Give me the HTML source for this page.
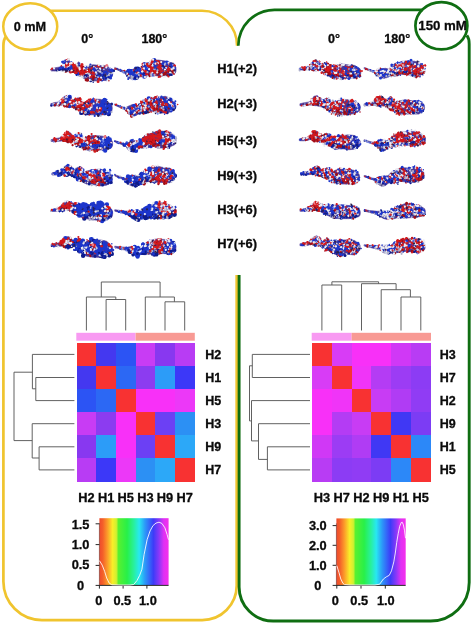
<!DOCTYPE html>
<html lang="en"><head><meta charset="utf-8"><title>Electrostatic surfaces and clustering at 0 mM and 150 mM</title>
<style>
html,body{margin:0;padding:0;background:#fff;}
body{width:472px;height:624px;overflow:hidden;position:relative;}
svg{position:absolute;left:0;top:0;display:block;}
text{font-family:"Liberation Sans", Arial, Helvetica, sans-serif;font-weight:bold;fill:#0a0a0a;stroke:#0a0a0a;stroke-width:.3px;}
.d{fill:none;stroke:#585858;stroke-width:.95;}
.pr path{fill:none;stroke-linecap:round}.pr path.z{fill:#4a3896;stroke:#4a3896;stroke-width:.6;stroke-linejoin:round}.r{stroke:#d41a1e}.R{stroke:#a00e14}.b{stroke:#1d36cc}.B{stroke:#101c8c}.w{stroke:#ececf3}.g{stroke:#aeb0cc}.k{stroke:#2c2050}.p{stroke:#ee7a82}.l{stroke:#6f86ea}
.s0{stroke-width:1.5}.s1{stroke-width:2.2}.s2{stroke-width:3}.s3{stroke-width:4.4}
</style></head><body>
<svg width="472" height="624" viewBox="0 0 472 624">
<defs>
<linearGradient id="rb" x1="0" y1="0" x2="1" y2="0">
<stop offset="0" stop-color="#ee4a2c"/>
<stop offset="0.05" stop-color="#f4602a"/>
<stop offset="0.12" stop-color="#fca02a"/>
<stop offset="0.19" stop-color="#f8ee28"/>
<stop offset="0.245" stop-color="#d0f030"/>
<stop offset="0.275" stop-color="#58f030"/>
<stop offset="0.4" stop-color="#28f048"/>
<stop offset="0.5" stop-color="#28f0a0"/>
<stop offset="0.575" stop-color="#28e8f0"/>
<stop offset="0.66" stop-color="#2c98f8"/>
<stop offset="0.78" stop-color="#3c3cf8"/>
<stop offset="0.86" stop-color="#8838f8"/>
<stop offset="0.93" stop-color="#e030f4"/>
<stop offset="1" stop-color="#f430ec"/>
</linearGradient>
<filter id="sf" x="-5%" y="-5%" width="110%" height="110%"><feGaussianBlur stdDeviation="0.35"/></filter>
</defs>
<rect width="472" height="624" fill="#fff"/>
<g fill="none" stroke-linecap="butt">
<g stroke="#F0C42E" stroke-width="2.5">
<ellipse cx="30.25" cy="26.5" rx="27" ry="23.3"/>
<path d="M50.5 10.7 H202 A35 35 0 0 1 237 45.8"/>
<path d="M6 36.5 Q3.4 39.5 3.4 46 V581.6 A38.5 38.5 0 0 0 41.9 620.1 H202.2 A34.5 34.5 0 0 0 236.7 585.6 V275" stroke-width="2.7"/>
</g>
<g stroke="#0F6E12" stroke-width="2.7">
<ellipse cx="441.4" cy="25.8" rx="26" ry="23.6"/>
<path d="M238.3 45.8 A36.2 36.2 0 0 1 274.5 9.8 H422.8"/>
<path d="M466.9 35.4 Q469.2 38.5 469.2 44 V582.5 A38.5 38.5 0 0 1 430.7 621 H273.1 A34 34 0 0 1 239.1 587 V275" stroke-width="2.9"/>
</g>
</g>
<text x="29.9" y="31.0" font-size="12.7" text-anchor="middle">0 mM</text>
<text x="442.6" y="30.0" font-size="13.25" text-anchor="middle">150 mM</text>
<text x="87.3" y="43.4" font-size="12.5" text-anchor="middle">0°</text>
<text x="154.4" y="43.4" font-size="12.5" text-anchor="middle">180°</text>
<text x="334.1" y="43.4" font-size="12.5" text-anchor="middle">0°</text>
<text x="397.3" y="43.4" font-size="12.5" text-anchor="middle">180°</text>
<text x="217.3" y="72.7" font-size="12.9">H1(+2)</text>
<text x="217.3" y="108.4" font-size="12.9">H2(+3)</text>
<text x="217.3" y="145.3" font-size="12.9">H5(+3)</text>
<text x="217.3" y="179.7" font-size="12.9">H9(+3)</text>
<text x="217.3" y="214.1" font-size="12.9">H3(+6)</text>
<text x="217.3" y="247.5" font-size="12.9">H7(+6)</text>
<rect x="76.3" y="332.8" width="59.2" height="7.9" fill="#f89af2"/>
<rect x="135.6" y="332.8" width="59.2" height="7.9" fill="#f89a94"/>
<g shape-rendering="crispEdges">
<rect x="76.60" y="342.90" width="19.95" height="23.38" fill="#f83232"/>
<rect x="96.25" y="342.90" width="19.95" height="23.38" fill="#4438f0"/>
<rect x="115.90" y="342.90" width="19.95" height="23.38" fill="#2c54f4"/>
<rect x="135.55" y="342.90" width="19.95" height="23.38" fill="#c83cf4"/>
<rect x="155.20" y="342.90" width="19.95" height="23.38" fill="#8838f0"/>
<rect x="174.85" y="342.90" width="19.95" height="23.38" fill="#b83cf4"/>
<rect x="76.60" y="365.98" width="19.95" height="23.38" fill="#4438f0"/>
<rect x="96.25" y="365.98" width="19.95" height="23.38" fill="#f83232"/>
<rect x="115.90" y="365.98" width="19.95" height="23.38" fill="#2c68f4"/>
<rect x="135.55" y="365.98" width="19.95" height="23.38" fill="#8c3cf0"/>
<rect x="155.20" y="365.98" width="19.95" height="23.38" fill="#2c9cf8"/>
<rect x="174.85" y="365.98" width="19.95" height="23.38" fill="#3c38f8"/>
<rect x="76.60" y="389.07" width="19.95" height="23.38" fill="#2c54f4"/>
<rect x="96.25" y="389.07" width="19.95" height="23.38" fill="#2c68f4"/>
<rect x="115.90" y="389.07" width="19.95" height="23.38" fill="#f83232"/>
<rect x="135.55" y="389.07" width="19.95" height="23.38" fill="#f830f8"/>
<rect x="155.20" y="389.07" width="19.95" height="23.38" fill="#f830f8"/>
<rect x="174.85" y="389.07" width="19.95" height="23.38" fill="#ec38f8"/>
<rect x="76.60" y="412.15" width="19.95" height="23.38" fill="#c83cf4"/>
<rect x="96.25" y="412.15" width="19.95" height="23.38" fill="#8c3cf0"/>
<rect x="115.90" y="412.15" width="19.95" height="23.38" fill="#f830f8"/>
<rect x="135.55" y="412.15" width="19.95" height="23.38" fill="#f83232"/>
<rect x="155.20" y="412.15" width="19.95" height="23.38" fill="#6c40f4"/>
<rect x="174.85" y="412.15" width="19.95" height="23.38" fill="#2c90f4"/>
<rect x="76.60" y="435.23" width="19.95" height="23.38" fill="#8838f0"/>
<rect x="96.25" y="435.23" width="19.95" height="23.38" fill="#2c9cf8"/>
<rect x="115.90" y="435.23" width="19.95" height="23.38" fill="#f830f8"/>
<rect x="135.55" y="435.23" width="19.95" height="23.38" fill="#6c40f4"/>
<rect x="155.20" y="435.23" width="19.95" height="23.38" fill="#f83232"/>
<rect x="174.85" y="435.23" width="19.95" height="23.38" fill="#2ca8f8"/>
<rect x="76.60" y="458.32" width="19.95" height="23.38" fill="#b83cf4"/>
<rect x="96.25" y="458.32" width="19.95" height="23.38" fill="#3c38f8"/>
<rect x="115.90" y="458.32" width="19.95" height="23.38" fill="#ec38f8"/>
<rect x="135.55" y="458.32" width="19.95" height="23.38" fill="#2c90f4"/>
<rect x="155.20" y="458.32" width="19.95" height="23.38" fill="#2ca8f8"/>
<rect x="174.85" y="458.32" width="19.95" height="23.38" fill="#f83232"/>
</g>
<text x="205.3" y="358.7" font-size="12.5">H2</text>
<text x="86.4" y="502.2" font-size="12.8" text-anchor="middle">H2</text>
<text x="205.3" y="381.8" font-size="12.5">H1</text>
<text x="106.1" y="502.2" font-size="12.8" text-anchor="middle">H1</text>
<text x="205.3" y="404.9" font-size="12.5">H5</text>
<text x="125.7" y="502.2" font-size="12.8" text-anchor="middle">H5</text>
<text x="205.3" y="428.0" font-size="12.5">H3</text>
<text x="145.4" y="502.2" font-size="12.8" text-anchor="middle">H3</text>
<text x="205.3" y="451.1" font-size="12.5">H9</text>
<text x="165.0" y="502.2" font-size="12.8" text-anchor="middle">H9</text>
<text x="205.3" y="474.2" font-size="12.5">H7</text>
<text x="184.7" y="502.2" font-size="12.8" text-anchor="middle">H7</text>
<rect x="311.7" y="332.8" width="39.9" height="7.9" fill="#f89af2"/>
<rect x="351.6" y="332.8" width="79.4" height="7.9" fill="#f89a94"/>
<g shape-rendering="crispEdges">
<rect x="312.00" y="342.90" width="20.08" height="23.38" fill="#f83232"/>
<rect x="331.78" y="342.90" width="20.08" height="23.38" fill="#d83cf6"/>
<rect x="351.57" y="342.90" width="20.08" height="23.38" fill="#f830f8"/>
<rect x="371.35" y="342.90" width="20.08" height="23.38" fill="#f830f8"/>
<rect x="391.13" y="342.90" width="20.08" height="23.38" fill="#d038f6"/>
<rect x="410.92" y="342.90" width="20.08" height="23.38" fill="#b83cf4"/>
<rect x="312.00" y="365.98" width="20.08" height="23.38" fill="#d83cf6"/>
<rect x="331.78" y="365.98" width="20.08" height="23.38" fill="#f83232"/>
<rect x="351.57" y="365.98" width="20.08" height="23.38" fill="#f034f8"/>
<rect x="371.35" y="365.98" width="20.08" height="23.38" fill="#b43cf4"/>
<rect x="391.13" y="365.98" width="20.08" height="23.38" fill="#9c3cf4"/>
<rect x="410.92" y="365.98" width="20.08" height="23.38" fill="#8c3cf4"/>
<rect x="312.00" y="389.07" width="20.08" height="23.38" fill="#f830f8"/>
<rect x="331.78" y="389.07" width="20.08" height="23.38" fill="#f034f8"/>
<rect x="351.57" y="389.07" width="20.08" height="23.38" fill="#f83232"/>
<rect x="371.35" y="389.07" width="20.08" height="23.38" fill="#c83cf4"/>
<rect x="391.13" y="389.07" width="20.08" height="23.38" fill="#b03cf4"/>
<rect x="410.92" y="389.07" width="20.08" height="23.38" fill="#903cf4"/>
<rect x="312.00" y="412.15" width="20.08" height="23.38" fill="#f830f8"/>
<rect x="331.78" y="412.15" width="20.08" height="23.38" fill="#b43cf4"/>
<rect x="351.57" y="412.15" width="20.08" height="23.38" fill="#c83cf4"/>
<rect x="371.35" y="412.15" width="20.08" height="23.38" fill="#f83232"/>
<rect x="391.13" y="412.15" width="20.08" height="23.38" fill="#4038f4"/>
<rect x="410.92" y="412.15" width="20.08" height="23.38" fill="#7c3cf4"/>
<rect x="312.00" y="435.23" width="20.08" height="23.38" fill="#d038f6"/>
<rect x="331.78" y="435.23" width="20.08" height="23.38" fill="#9c3cf4"/>
<rect x="351.57" y="435.23" width="20.08" height="23.38" fill="#b03cf4"/>
<rect x="371.35" y="435.23" width="20.08" height="23.38" fill="#4038f4"/>
<rect x="391.13" y="435.23" width="20.08" height="23.38" fill="#f83232"/>
<rect x="410.92" y="435.23" width="20.08" height="23.38" fill="#2c88f8"/>
<rect x="312.00" y="458.32" width="20.08" height="23.38" fill="#b83cf4"/>
<rect x="331.78" y="458.32" width="20.08" height="23.38" fill="#8c3cf4"/>
<rect x="351.57" y="458.32" width="20.08" height="23.38" fill="#903cf4"/>
<rect x="371.35" y="458.32" width="20.08" height="23.38" fill="#7c3cf4"/>
<rect x="391.13" y="458.32" width="20.08" height="23.38" fill="#2c88f8"/>
<rect x="410.92" y="458.32" width="20.08" height="23.38" fill="#f83232"/>
</g>
<text x="439.8" y="358.7" font-size="12.5">H3</text>
<text x="321.9" y="502.2" font-size="12.8" text-anchor="middle">H3</text>
<text x="439.8" y="381.8" font-size="12.5">H7</text>
<text x="341.7" y="502.2" font-size="12.8" text-anchor="middle">H7</text>
<text x="439.8" y="404.9" font-size="12.5">H2</text>
<text x="361.5" y="502.2" font-size="12.8" text-anchor="middle">H2</text>
<text x="439.8" y="428.0" font-size="12.5">H9</text>
<text x="381.2" y="502.2" font-size="12.8" text-anchor="middle">H9</text>
<text x="439.8" y="451.1" font-size="12.5">H1</text>
<text x="401.0" y="502.2" font-size="12.8" text-anchor="middle">H1</text>
<text x="439.8" y="474.2" font-size="12.5">H5</text>
<text x="420.8" y="502.2" font-size="12.8" text-anchor="middle">H5</text>
<path class="d" d="M86.4 330.5 V297 H115.8 V299.5"/>
<path class="d" d="M106.1 330.5 V299.5 H125.7 V330.5"/>
<path class="d" d="M101.3 297 V282 H160.1 V297"/>
<path class="d" d="M145.3 330.5 V297 H174.4 V301.8"/>
<path class="d" d="M165.0 330.5 V301.8 H184.7 V330.5"/>
<path class="d" d="M74.4 354.4 H32.4 V388.8 H35.8"/>
<path class="d" d="M74.4 377.5 H35.8 V400.6 H74.4"/>
<path class="d" d="M32.4 372.2 H14 V440.6 H32.2"/>
<path class="d" d="M74.4 423.7 H32.2 V458 H39.1"/>
<path class="d" d="M74.4 446.8 H39.1 V469.9 H74.4"/>
<path class="d" d="M321.9 330.5 V285 H341.7 V330.5"/>
<path class="d" d="M331.9 285 V281.8 H378.6 V283.7"/>
<path class="d" d="M361.5 330.5 V283.7 H396.1 V289.7"/>
<path class="d" d="M381.2 330.5 V289.7 H410.4 V297"/>
<path class="d" d="M401.0 330.5 V297 H420.8 V330.5"/>
<path class="d" d="M310.0 354.4 H252.3 V377.5 H310.0"/>
<path class="d" d="M252.3 365.8 H249.5 V420.9 H251.5"/>
<path class="d" d="M310.0 400.6 H251.5 V440.9 H258.5"/>
<path class="d" d="M310.0 423.7 H258.5 V459.4 H267.4"/>
<path class="d" d="M310.0 446.8 H267.4 V469.9 H310.0"/>
<rect x="99.4" y="518.2" width="69.2" height="66.8" fill="url(#rb)"/>
<path d="M99.4 523.2 V585.0" fill="none" stroke="#401010" stroke-width="1" opacity=".45"/>
<text x="80.6" y="529.0" font-size="12.8" text-anchor="middle">1.5</text>
<text x="80.6" y="549.2" font-size="12.8" text-anchor="middle">1.0</text>
<text x="80.6" y="569.3" font-size="12.8" text-anchor="middle">0.5</text>
<text x="80.6" y="590.3" font-size="12.8" text-anchor="middle">0</text>
<text x="98.8" y="605.4" font-size="12.8" text-anchor="middle">0</text>
<text x="122.3" y="605.4" font-size="12.8" text-anchor="middle">0.5</text>
<text x="147.9" y="605.4" font-size="12.8" text-anchor="middle">1.0</text>
<path d="M95.6 585.4 H168.6 M95.6 523.8 H99.4 M95.6 544.6 H99.4 M95.6 565.4 H99.4 M99.4 585.0 V588.6 M123.1 585.0 V588.6 M146.9 585.0 V588.6" fill="none" stroke="#282828" stroke-width="1"/>
<polyline points="99.4,560.6 102.2,565.1 104.7,571.5 106.7,578.0 109.2,583.1 111.8,584.8 120.0,585.0 130.0,585.0 133.7,584.5 137.0,580.5 139.7,575.3 141.9,569.3 144.1,554.5 147.1,539.7 150.1,530.8 153.0,525.6 156.0,523.1 159.0,522.2 161.9,523.4 164.9,527.8 167.1,534.5 168.5,539.7" fill="none" stroke="#fff" stroke-width="0.9" stroke-linejoin="round" opacity="0.95"/>
<rect x="336.4" y="518.4" width="69.3" height="66.6" fill="url(#rb)"/>
<path d="M336.4 523.4 V585.0" fill="none" stroke="#401010" stroke-width="1" opacity=".45"/>
<text x="317.8" y="530.0" font-size="12.8" text-anchor="middle">3.0</text>
<text x="317.8" y="550.3" font-size="12.8" text-anchor="middle">2.0</text>
<text x="317.8" y="570.2" font-size="12.8" text-anchor="middle">1.0</text>
<text x="317.8" y="590.2" font-size="12.8" text-anchor="middle">0</text>
<text x="335.2" y="605.0" font-size="12.8" text-anchor="middle">0</text>
<text x="359.2" y="605.0" font-size="12.8" text-anchor="middle">0.5</text>
<text x="385.8" y="605.0" font-size="12.8" text-anchor="middle">1.0</text>
<path d="M332.6 585.4 H405.7 M332.6 525.6 H336.4 M332.6 545.3 H336.4 M332.6 565.3 H336.4 M336.8 585.0 V588.6 M361.0 585.0 V588.6 M385.3 585.0 V588.6" fill="none" stroke="#282828" stroke-width="1"/>
<polyline points="336.8,565.6 338.9,572.3 340.8,579.0 343.0,583.4 344.5,584.6 350.0,585.0 375.0,585.0 379.7,584.2 383.4,579.0 386.4,576.8 389.3,575.3 391.5,570.8 393.8,561.9 395.3,553.0 396.7,542.6 398.2,533.7 399.7,526.3 401.2,522.6 402.2,522.2 403.4,524.8 404.6,530.8 405.5,538.2" fill="none" stroke="#fff" stroke-width="0.9" stroke-linejoin="round" opacity="0.95"/>
<g class="pr" filter="url(#sf)"><g><path class="z" d="M51.5 68.8L53.5 68.3L55.4 67.7L57.4 67.4L59.4 67.1L61.1 65.7L62.8 64.6L64.1 63.0L65.3 61.4L66.8 60.7L68.2 60.1L69.7 61.2L71.2 62.3L72.4 64.3L73.7 66.4L74.9 65.6L76.1 64.7L77.4 63.2L78.6 61.7L79.8 63.3L81.0 64.8L82.3 66.5L83.5 68.2L85.2 67.2L87.0 66.2L89.9 65.5L92.9 64.8L96.8 65.1L100.8 65.5L103.7 65.6L106.7 65.8L108.6 67.0L110.6 68.2L111.8 69.0L112.5 70.7L112.8 73.0L112.5 75.3L111.8 77.0L110.6 77.7L108.6 79.2L106.7 80.6L103.7 80.5L100.8 80.5L96.8 80.8L92.9 81.1L89.9 80.4L87.0 79.6L85.2 78.9L83.5 78.3L82.3 77.2L81.0 76.2L79.8 76.2L78.6 76.3L77.4 75.1L76.1 73.8L74.9 73.1L73.7 72.3L72.4 71.8L71.2 71.4L69.7 71.5L68.2 71.7L66.8 71.6L65.3 71.6L64.1 70.7L62.8 69.9L61.1 70.5L59.4 70.6L57.4 70.8L55.4 71.1L53.5 71.0L51.5 71.0Z"/><path class="B s3" d="M70.6 69.2h0M68.1 68.8h0M70.1 66.8h0"/><path class="b s3" d="M110.6 75.1h0M70.0 67.7h0M101.9 74.2h0M69.3 67.2h0M70.6 67.9h0"/><path class="B s2" d="M62.5 69.3h0M86.0 75.6h0M90.7 80.7h0M102.4 78.9h0"/><path class="R s2" d="M86.2 79.8h0M82.9 67.1h0"/><path class="b s2" d="M71.5 69.9h0M94.3 69.5h0M96.6 76.7h0M101.9 80.1h0"/><path class="r s2" d="M66.8 67.1h0M65.8 65.5h0M88.7 70.8h0M78.1 73.0h0M87.6 71.1h0M88.1 69.7h0M77.1 66.9h0M86.7 71.2h0M84.6 73.2h0M83.7 71.8h0M80.4 71.1h0"/><path class="B s1" d="M66.5 70.0h0M105.6 76.4h0M63.8 68.4h0"/><path class="R s1" d="M65.5 71.7h0M75.8 72.0h0M100.1 77.4h0M100.9 79.8h0M67.1 64.9h0M74.5 70.9h0M80.9 74.7h0"/><path class="b s1" d="M106.2 71.9h0M77.2 73.9h0M101.6 75.1h0M112.2 71.6h0M93.5 68.7h0M103.0 73.6h0M71.4 66.1h0"/><path class="g s1" d="M59.4 69.9h0M63.2 65.3h0M73.0 68.9h0M78.5 67.2h0M89.9 80.2h0M79.8 69.1h0M89.0 73.5h0M56.9 71.1h0M81.9 76.7h0M109.0 73.4h0M108.1 75.2h0M78.7 67.7h0"/><path class="k s1" d="M63.6 71.0h0M78.3 73.8h0"/><path class="r s1" d="M87.9 71.9h0M77.8 68.3h0M105.3 66.7h0M72.9 66.4h0M68.4 64.9h0M78.7 72.0h0M66.9 66.5h0M72.8 64.0h0M77.9 71.3h0M91.0 76.1h0M85.8 71.1h0"/><path class="w s1" d="M80.3 67.8h0M68.2 66.6h0M77.7 66.3h0M94.0 67.5h0M95.9 72.5h0M108.4 73.6h0M80.5 64.2h0M84.3 68.0h0M76.4 64.3h0M109.9 73.0h0M78.8 69.7h0M77.1 73.3h0M109.8 68.2h0M64.0 65.0h0M84.8 69.5h0M85.1 70.3h0M84.1 69.5h0M94.0 67.1h0M89.5 79.8h0"/><path class="B s0" d="M101.7 74.2h0"/><path class="R s0" d="M89.0 73.1h0M93.4 72.7h0M78.1 72.4h0M87.2 79.3h0"/><path class="b s0" d="M71.8 67.2h0M106.5 71.6h0M107.0 68.0h0M78.8 64.6h0M68.8 60.6h0M94.6 70.7h0M79.6 63.2h0M107.0 67.9h0M113.6 70.1h0"/><path class="g s0" d="M102.4 79.3h0M77.3 73.5h0M85.8 73.2h0M91.8 80.5h0"/><path class="k s0" d="M92.3 66.2h0M77.9 70.1h0M88.1 80.2h0M79.6 73.0h0"/><path class="l s0" d="M72.8 70.0h0"/><path class="p s0" d="M76.5 66.2h0"/><path class="r s0" d="M85.7 70.6h0M77.6 66.8h0M76.0 71.8h0M91.8 75.9h0M77.8 70.1h0M79.7 69.7h0M85.6 71.3h0M99.7 67.6h0M73.6 64.7h0M70.1 64.3h0M88.3 69.0h0M94.5 73.0h0M77.6 68.1h0M51.0 69.6h0M81.0 67.6h0"/><path class="w s0" d="M66.7 63.1h0M64.0 64.4h0M100.3 71.9h0M86.7 76.9h0M79.7 76.3h0M86.1 73.6h0M64.0 67.0h0M103.9 69.2h0M101.0 77.4h0M107.9 77.7h0M97.4 68.9h0M79.5 67.8h0M97.9 70.0h0M70.7 71.2h0"/><path class="B s3" d="M103.3 76.3h0"/><path class="b s3" d="M77.4 74.0h0M94.9 69.1h0"/><path class="B s2" d="M85.6 76.0h0M106.2 77.8h0M85.2 76.2h0"/><path class="R s2" d="M77.6 70.3h0M72.8 71.4h0M94.9 76.8h0"/><path class="b s2" d="M77.2 74.1h0M71.8 69.1h0M67.4 68.2h0M110.5 75.5h0M85.8 67.0h0M99.6 75.8h0"/><path class="r s2" d="M72.4 63.5h0M81.1 66.9h0M81.6 69.5h0M84.9 71.6h0M88.8 70.4h0M70.6 72.1h0M98.1 65.9h0M89.1 70.3h0M98.1 81.6h0"/><path class="B s1" d="M77.1 74.2h0M108.5 77.9h0"/><path class="R s1" d="M102.4 67.8h0M93.4 77.3h0M88.1 69.6h0M81.3 73.0h0M81.4 69.9h0M87.5 79.9h0M66.4 71.3h0M93.0 79.4h0M85.9 80.2h0M98.7 78.9h0"/><path class="b s1" d="M60.6 68.8h0M104.8 76.2h0M110.2 68.5h0M62.2 61.9h0M97.6 74.7h0M109.5 70.1h0M106.9 74.7h0M70.4 67.1h0M106.3 79.5h0M61.6 67.4h0M93.6 68.7h0M101.9 74.6h0M86.0 68.3h0M110.2 72.5h0M65.2 60.7h0M68.1 68.0h0M100.8 73.7h0M61.5 68.1h0M98.5 76.0h0M68.8 62.7h0"/><path class="g s1" d="M92.7 71.1h0M82.7 75.4h0M103.3 65.8h0M83.4 77.4h0M90.8 65.0h0M109.0 75.1h0"/><path class="k s1" d="M111.1 72.9h0M83.6 71.8h0M105.3 76.4h0M66.1 70.9h0"/><path class="p s1" d="M74.4 68.7h0"/><path class="r s1" d="M79.8 72.2h0M74.6 71.1h0M75.2 64.8h0M72.8 66.1h0M85.7 72.1h0M99.1 79.2h0M91.7 72.9h0M66.6 60.1h0M81.6 73.4h0M74.9 67.4h0M89.9 72.3h0M82.4 74.8h0M81.4 75.1h0M73.3 65.4h0M81.3 69.3h0M52.2 68.5h0M83.1 71.7h0M68.3 59.4h0M81.0 74.1h0M65.7 66.5h0"/><path class="w s1" d="M87.0 70.5h0M81.9 77.1h0M108.3 78.7h0M100.0 68.5h0M107.2 64.8h0M100.1 69.1h0M62.4 65.1h0M79.8 69.2h0M97.0 68.8h0M84.5 69.0h0M79.4 67.5h0M89.8 76.6h0M69.3 70.9h0M107.5 80.3h0"/><path class="B s0" d="M105.6 76.1h0M97.2 69.3h0"/><path class="R s0" d="M91.6 75.4h0M82.3 73.6h0M92.4 78.6h0"/><path class="b s0" d="M103.5 76.9h0M70.5 67.3h0M64.4 63.0h0M64.9 68.2h0M104.4 73.1h0M71.5 61.7h0M63.0 63.2h0"/><path class="g s0" d="M96.1 79.1h0"/><path class="k s0" d="M98.8 73.9h0M99.3 74.1h0M71.2 70.4h0M91.9 72.5h0M93.1 80.4h0"/><path class="l s0" d="M96.9 73.7h0"/><path class="r s0" d="M81.7 69.6h0M75.2 73.0h0M82.4 68.2h0M61.5 65.7h0M77.5 67.6h0M81.0 65.3h0M87.6 71.8h0M78.1 70.7h0M81.4 65.6h0M73.8 65.9h0M94.4 76.0h0M79.9 72.9h0M94.5 74.1h0"/><path class="w s0" d="M112.6 73.1h0M96.5 74.1h0M66.8 60.6h0M78.2 65.3h0M110.4 67.9h0M85.4 76.7h0M95.9 71.9h0M97.8 77.1h0M62.5 64.8h0M113.3 73.3h0M68.6 59.7h0M95.4 67.8h0"/><path class="B s2" d="M59.5 69.6h0"/><path class="R s2" d="M69.2 64.3h0M87.5 80.3h0M74.1 68.1h0"/><path class="b s2" d="M112.0 70.0h0M110.6 77.9h0M101.7 74.2h0"/><path class="p s2" d="M106.8 65.5h0"/><path class="r s2" d="M82.0 64.6h0M85.3 71.1h0M76.6 68.1h0M93.7 75.9h0M74.9 65.7h0M73.9 69.8h0M75.5 65.6h0M69.3 63.7h0M73.6 66.2h0"/><path class="B s1" d="M68.3 68.5h0M108.5 77.5h0M98.8 70.3h0M78.7 65.6h0M114.0 70.9h0M65.1 69.5h0M101.8 71.7h0"/><path class="R s1" d="M75.6 72.1h0M76.5 69.6h0M93.1 76.9h0M93.4 77.6h0"/><path class="b s1" d="M107.4 77.0h0M63.7 67.4h0M59.7 68.3h0M104.4 77.5h0M64.6 62.6h0M76.9 74.8h0M90.4 64.5h0M63.3 61.7h0M104.6 71.8h0M107.9 73.0h0"/><path class="g s1" d="M88.9 73.8h0M111.2 73.5h0M95.8 76.2h0M98.3 70.8h0M77.7 66.3h0M106.8 75.8h0M79.4 76.0h0"/><path class="k s1" d="M105.4 75.4h0M91.2 70.3h0"/><path class="r s1" d="M74.7 72.0h0M90.6 76.9h0M76.7 72.8h0M91.3 68.5h0M92.7 72.3h0M67.0 66.1h0M82.8 70.1h0M84.1 71.6h0M82.8 70.1h0M66.4 66.6h0M82.4 72.3h0M75.1 73.0h0M91.4 76.7h0M93.0 73.7h0M73.8 70.7h0M66.0 64.1h0M75.4 69.8h0"/><path class="w s1" d="M100.2 71.5h0M90.0 75.3h0M85.3 66.1h0M101.2 77.6h0M71.8 63.1h0M71.3 62.8h0M102.4 65.9h0M54.1 68.5h0M76.7 64.6h0M68.8 59.2h0M77.7 76.5h0M71.7 70.5h0M70.0 63.7h0M98.8 65.1h0M66.7 63.5h0M71.2 63.2h0M64.1 71.5h0M106.3 67.4h0M81.7 75.3h0M63.8 65.3h0M88.0 65.8h0"/><path class="B s0" d="M93.2 82.2h0M76.6 75.0h0M64.7 69.6h0M56.4 70.4h0M86.3 76.5h0M69.4 70.4h0"/><path class="R s0" d="M87.9 78.1h0M82.1 75.1h0M82.1 67.4h0M94.0 76.4h0M69.4 71.7h0M72.3 72.1h0M108.9 80.7h0M79.6 74.0h0M73.7 71.4h0"/><path class="b s0" d="M70.3 66.8h0M94.2 70.3h0M94.4 68.8h0M110.8 70.6h0M71.6 67.1h0M71.8 66.5h0M70.4 67.2h0M97.1 75.1h0"/><path class="g s0" d="M87.2 68.3h0M98.6 77.3h0M61.2 70.7h0M100.7 72.1h0"/><path class="k s0" d="M100.7 74.9h0M73.8 70.5h0M96.8 75.7h0M84.7 70.1h0"/><path class="r s0" d="M85.4 71.3h0M92.2 67.5h0M95.3 66.7h0M75.7 67.0h0M82.5 73.7h0M81.5 73.9h0M75.0 72.0h0M69.1 65.8h0M82.5 68.9h0"/><path class="w s0" d="M102.0 73.0h0M87.7 72.9h0M69.7 65.8h0M67.2 66.9h0M64.7 66.9h0M67.8 59.8h0M83.7 68.7h0"/></g>
<g><path class="z" d="M51.0 103.6L53.0 103.1L54.9 102.5L56.9 102.2L58.9 101.9L60.6 100.2L62.3 98.9L63.6 97.5L64.8 96.2L66.3 95.8L67.7 95.4L69.2 96.3L70.7 97.3L71.9 99.3L73.2 101.3L74.4 100.3L75.6 99.4L76.9 98.5L78.1 97.5L79.3 98.7L80.5 99.9L81.8 101.5L83.0 103.1L84.7 102.1L86.5 101.1L89.4 100.1L92.4 99.2L96.3 99.2L100.2 99.3L103.2 100.2L106.2 101.2L108.1 102.4L110.1 103.7L111.3 104.4L112.0 106.1L112.3 108.3L112.0 110.5L111.3 112.2L110.1 112.9L108.1 113.8L106.2 114.7L103.2 114.8L100.2 115.0L96.3 114.9L92.4 114.8L89.4 114.8L86.5 114.9L84.7 114.2L83.0 113.5L81.8 112.1L80.5 110.7L79.3 110.2L78.1 109.8L76.9 109.3L75.6 108.9L74.4 108.2L73.2 107.5L71.9 106.4L70.7 105.3L69.2 105.9L67.7 106.4L66.3 106.6L64.8 106.8L63.6 105.7L62.3 104.7L60.6 105.3L58.9 105.4L56.9 105.6L54.9 105.9L53.0 105.8L51.0 105.8Z"/><path class="B s3" d="M103.6 110.5h0M102.6 104.5h0M108.8 114.0h0"/><path class="b s3" d="M104.1 108.5h0M75.5 102.9h0M65.0 98.4h0M108.7 112.0h0M74.9 104.4h0M85.9 110.2h0M107.8 108.5h0M92.6 101.1h0M107.9 105.6h0M103.1 101.6h0M66.3 102.4h0M69.4 106.0h0"/><path class="R s2" d="M84.1 113.1h0M79.8 106.8h0M83.7 111.2h0M67.1 106.2h0M61.4 103.8h0"/><path class="b s2" d="M103.5 109.9h0M105.6 106.2h0M59.9 101.8h0M106.0 104.7h0M94.4 105.4h0M97.5 106.1h0M108.2 110.0h0"/><path class="r s2" d="M64.3 103.0h0M83.4 108.0h0M89.0 100.0h0M63.6 102.1h0M87.5 106.4h0M87.9 105.7h0M81.0 104.0h0M71.5 101.1h0M61.9 99.9h0M79.6 108.5h0M77.4 100.6h0"/><path class="B s1" d="M108.5 103.6h0M51.3 105.7h0M105.1 113.6h0"/><path class="R s1" d="M53.8 103.9h0M98.5 102.2h0M58.7 105.7h0M80.4 105.3h0"/><path class="b s1" d="M109.8 112.7h0M52.8 104.1h0M75.3 102.6h0M105.6 104.0h0M59.4 103.6h0M70.0 105.1h0M74.3 104.5h0"/><path class="g s1" d="M87.3 109.6h0M64.4 104.0h0M94.1 111.7h0M111.5 112.1h0M86.4 112.6h0M80.0 111.0h0"/><path class="k s1" d="M83.1 105.8h0M86.6 102.3h0M72.1 101.7h0M95.0 110.7h0"/><path class="l s1" d="M52.8 104.5h0M68.7 100.9h0"/><path class="r s1" d="M80.0 98.2h0M66.2 96.6h0M84.2 109.0h0M79.4 105.1h0M75.5 99.1h0M89.3 101.0h0M72.6 103.6h0M91.3 104.2h0M82.5 104.8h0M71.0 98.6h0M70.7 101.3h0M63.1 101.4h0M79.2 101.1h0M92.5 111.8h0M83.1 103.8h0M96.8 108.2h0M86.6 106.9h0M80.2 107.9h0M78.2 99.1h0M71.8 100.6h0M79.3 105.9h0M66.5 104.8h0M73.6 101.4h0"/><path class="w s1" d="M98.1 103.7h0M57.5 104.3h0M66.5 99.0h0M85.3 112.3h0M91.3 106.7h0M71.6 99.7h0M73.6 103.6h0M68.0 96.2h0M70.1 96.9h0M106.0 106.3h0M66.1 97.2h0M78.3 104.5h0M58.5 103.1h0M57.4 104.4h0M68.0 95.7h0M67.1 98.6h0M88.4 101.4h0"/><path class="B s0" d="M106.7 111.9h0M74.9 107.0h0"/><path class="R s0" d="M71.9 107.0h0"/><path class="b s0" d="M106.6 109.3h0M68.9 98.8h0M107.4 111.5h0M101.5 108.5h0M103.2 103.0h0M107.7 108.5h0M106.1 100.5h0M107.9 105.8h0"/><path class="g s0" d="M85.0 113.6h0M75.9 105.7h0M101.5 110.3h0M88.4 111.9h0M64.9 102.8h0"/><path class="k s0" d="M100.9 106.7h0M73.0 106.2h0"/><path class="l s0" d="M107.1 99.7h0"/><path class="p s0" d="M81.7 107.9h0"/><path class="r s0" d="M66.6 104.7h0M85.3 103.4h0M80.5 101.4h0M82.7 107.2h0M78.0 99.9h0M82.3 108.4h0M83.1 106.8h0M90.8 106.0h0M56.4 103.9h0M99.2 102.4h0"/><path class="w s0" d="M85.4 104.9h0M53.9 103.6h0M94.5 99.4h0M64.8 95.5h0M85.6 112.9h0"/><path class="B s3" d="M81.3 112.9h0M89.0 112.9h0M99.2 114.0h0M65.8 103.7h0"/><path class="b s3" d="M101.7 105.3h0M99.1 113.9h0M69.2 101.4h0M104.3 108.7h0M100.9 112.1h0M109.9 108.8h0M104.6 100.0h0M88.3 102.8h0M95.2 108.6h0M104.6 108.7h0M90.2 111.1h0M104.0 100.7h0M69.7 96.9h0"/><path class="B s2" d="M88.3 113.4h0"/><path class="R s2" d="M65.0 105.8h0M77.8 108.7h0M76.3 106.2h0"/><path class="b s2" d="M103.4 106.1h0M111.7 104.1h0M92.6 101.5h0M104.8 110.1h0M102.2 107.6h0"/><path class="r s2" d="M70.5 101.7h0M85.7 102.8h0M77.3 103.5h0M98.9 111.4h0M100.7 108.6h0M62.9 99.6h0M76.6 103.8h0M81.2 108.7h0M87.3 101.4h0"/><path class="B s1" d="M104.8 114.2h0M99.7 113.3h0M85.6 114.6h0M87.8 113.6h0M71.0 105.1h0M97.8 114.7h0"/><path class="R s1" d="M78.9 108.8h0M81.6 107.0h0M68.3 103.8h0M100.5 110.6h0M65.0 105.0h0M64.6 105.2h0"/><path class="b s1" d="M93.8 110.6h0M75.5 104.8h0M91.4 101.4h0M97.8 104.2h0M104.2 113.7h0M75.7 103.1h0M106.2 106.2h0M103.2 104.7h0M107.6 113.9h0M86.5 108.9h0M69.5 100.5h0"/><path class="g s1" d="M89.7 109.3h0M71.0 104.3h0M98.3 111.9h0M69.6 102.0h0M87.9 104.4h0M99.5 111.7h0"/><path class="k s1" d="M79.3 99.3h0M107.4 107.8h0M74.3 100.0h0M75.9 109.3h0M65.6 99.5h0M81.2 105.1h0M104.6 111.9h0M92.8 103.5h0"/><path class="p s1" d="M78.4 100.1h0"/><path class="r s1" d="M95.6 100.7h0M80.5 104.0h0M97.1 108.7h0M100.0 110.2h0M83.8 111.4h0M97.5 111.5h0M68.1 104.5h0M71.4 102.9h0M89.7 104.8h0M77.3 101.6h0M79.8 100.2h0M74.3 101.1h0M71.1 101.8h0M75.6 98.7h0M63.4 98.1h0M79.3 105.5h0M61.1 100.9h0M63.4 98.5h0M95.2 99.2h0M93.6 112.4h0M71.3 101.6h0"/><path class="w s1" d="M70.4 101.5h0M79.5 104.0h0M67.4 98.8h0M81.4 110.8h0M62.9 99.7h0M99.7 108.4h0M77.8 103.4h0M91.4 107.0h0M90.0 108.8h0M60.6 101.0h0M63.2 100.2h0M65.8 100.6h0M75.3 101.6h0M75.3 102.0h0M81.7 112.0h0M90.8 107.4h0M70.1 101.8h0"/><path class="B s0" d="M100.0 113.7h0"/><path class="R s0" d="M94.1 112.7h0M79.4 107.6h0M83.3 108.1h0M72.3 107.0h0M59.3 105.3h0"/><path class="b s0" d="M66.5 102.5h0M99.6 113.3h0M110.1 109.7h0M106.3 99.6h0M101.2 101.9h0M104.8 109.8h0M67.5 98.9h0M104.5 102.0h0M96.3 113.4h0"/><path class="g s0" d="M107.5 111.7h0M91.0 112.0h0M58.4 105.9h0M67.6 103.0h0M76.0 106.0h0M65.9 99.9h0"/><path class="k s0" d="M80.9 109.2h0"/><path class="r s0" d="M84.7 108.5h0M80.9 107.5h0M77.1 99.9h0M81.3 102.0h0M78.3 101.1h0M70.1 104.0h0M79.0 101.1h0M73.5 101.0h0M82.4 109.1h0M78.6 100.1h0M89.8 106.1h0M102.6 114.2h0"/><path class="w s0" d="M88.5 108.6h0M60.3 100.5h0M96.8 102.0h0M85.1 104.4h0M78.8 104.7h0M69.6 99.2h0M71.6 104.5h0"/><path class="R s2" d="M82.6 107.7h0"/><path class="b s2" d="M109.4 105.4h0M84.7 109.6h0M66.2 102.9h0M67.5 98.3h0M69.0 99.3h0M99.0 105.6h0"/><path class="r s2" d="M82.4 105.3h0M91.3 112.3h0M78.5 106.1h0M81.8 105.3h0M82.5 104.9h0M82.7 103.1h0M91.1 104.9h0"/><path class="B s1" d="M69.6 97.4h0M78.4 103.3h0M88.1 103.4h0"/><path class="R s1" d="M78.3 108.0h0M62.9 103.4h0M54.9 105.4h0M64.4 105.9h0M73.8 107.7h0M80.5 110.0h0"/><path class="b s1" d="M108.0 104.5h0M83.8 105.3h0M99.0 105.5h0M66.6 101.9h0M92.9 101.3h0M94.7 115.9h0M106.7 106.9h0M68.7 99.2h0M108.1 106.2h0"/><path class="g s1" d="M62.4 104.2h0M64.8 104.5h0M85.3 112.7h0M100.7 115.7h0M63.7 98.4h0M78.4 109.0h0"/><path class="k s1" d="M84.9 103.4h0M82.0 106.1h0M111.3 104.1h0M98.2 115.9h0M65.7 103.4h0"/><path class="p s1" d="M82.1 103.2h0"/><path class="r s1" d="M72.3 100.5h0M86.9 105.5h0M74.4 101.3h0M77.9 106.3h0M96.9 108.3h0M77.7 104.2h0M90.5 99.3h0M84.0 108.6h0M100.0 109.8h0M77.7 102.3h0M78.8 110.4h0M81.0 107.9h0M80.4 105.4h0M63.1 100.2h0M80.9 99.3h0M86.4 105.2h0M62.1 102.6h0M78.7 100.7h0M83.9 108.7h0M81.9 107.1h0M78.3 99.3h0M80.9 108.0h0"/><path class="w s1" d="M65.5 104.3h0M79.1 102.1h0M97.6 100.6h0M64.5 103.9h0M97.2 107.5h0M79.6 103.1h0M93.6 103.6h0M76.4 102.4h0"/><path class="B s0" d="M98.3 107.8h0M88.6 112.2h0"/><path class="R s0" d="M84.8 107.9h0M76.4 109.5h0M67.1 104.8h0M100.3 110.7h0M67.9 105.1h0"/><path class="b s0" d="M110.6 104.3h0M106.7 101.5h0M103.9 108.3h0M102.4 101.7h0M92.6 99.3h0M88.2 113.6h0M102.6 109.9h0M75.2 104.9h0M93.4 98.3h0"/><path class="g s0" d="M79.0 104.1h0M53.2 103.6h0"/><path class="k s0" d="M107.6 101.8h0M107.4 104.1h0M80.7 108.3h0M75.4 101.0h0"/><path class="p s0" d="M67.3 104.9h0"/><path class="r s0" d="M79.9 105.3h0M61.4 102.6h0M64.4 106.7h0M83.3 107.7h0M85.8 104.7h0M80.0 104.3h0M87.3 106.1h0M89.4 100.7h0M70.9 100.2h0M73.4 107.1h0M89.7 102.3h0M89.2 115.1h0M82.2 106.5h0M78.1 106.9h0M82.5 108.6h0M73.0 103.8h0M82.7 106.5h0M96.1 110.5h0"/><path class="w s0" d="M76.2 103.8h0M74.0 103.5h0M83.1 106.4h0M77.5 104.4h0M91.9 104.9h0M97.1 108.2h0M59.0 101.6h0M95.6 98.7h0M82.2 100.1h0M86.9 103.5h0M71.7 104.8h0M96.7 102.8h0M67.1 97.6h0M56.3 101.6h0"/></g>
<g><path class="z" d="M51.5 139.5L53.5 139.0L55.4 138.4L57.4 138.2L59.4 137.9L61.1 136.6L62.8 135.7L64.1 134.4L65.3 133.1L66.8 132.2L68.2 131.3L69.7 132.4L71.2 133.5L72.4 135.4L73.7 137.3L74.9 136.0L76.1 134.7L77.4 134.0L78.6 133.3L79.8 134.2L81.0 135.1L82.3 137.3L83.5 139.6L85.2 138.1L87.0 136.6L89.9 136.1L92.9 135.5L96.8 135.7L100.8 135.9L103.7 136.4L106.7 137.0L108.6 138.3L110.6 139.6L111.7 140.3L112.4 141.8L112.6 143.9L112.4 146.0L111.7 147.5L110.6 148.2L108.6 149.0L106.7 149.8L103.7 149.9L100.8 150.0L96.8 150.2L92.9 150.3L89.9 150.4L87.0 150.5L85.2 149.7L83.5 148.9L82.3 147.4L81.0 145.9L79.8 146.4L78.6 146.8L77.4 145.6L76.1 144.4L74.9 143.6L73.7 142.8L72.4 142.3L71.2 141.8L69.7 141.9L68.2 142.0L66.8 141.8L65.3 141.5L64.1 141.1L62.8 140.7L61.1 141.1L59.4 141.2L57.4 141.4L55.4 141.6L53.5 141.6L51.5 141.5Z"/><path class="B s3" d="M84.5 142.7h0M106.1 142.8h0"/><path class="b s3" d="M109.7 139.5h0M104.1 145.3h0M91.2 145.2h0M105.2 150.6h0M108.7 143.6h0M109.2 142.6h0M106.6 140.1h0M106.5 141.8h0M83.8 144.0h0M109.5 146.8h0M103.9 141.7h0M108.5 146.9h0M104.7 145.5h0"/><path class="R s2" d="M71.8 140.9h0M95.9 142.2h0M86.3 147.5h0M66.4 140.7h0"/><path class="b s2" d="M82.5 145.0h0M107.0 145.0h0M107.6 143.5h0M104.6 141.3h0M96.8 146.9h0M81.3 146.0h0M80.8 145.3h0"/><path class="r s2" d="M73.9 138.4h0M95.0 137.4h0M92.4 140.1h0M71.0 141.9h0M80.3 140.7h0M82.5 140.4h0M78.7 138.3h0M87.8 148.0h0M66.2 134.9h0M88.3 136.9h0M94.9 151.2h0"/><path class="B s1" d="M106.1 143.6h0"/><path class="R s1" d="M87.0 148.5h0M63.1 138.3h0M55.9 139.9h0M79.5 143.9h0M87.9 143.8h0"/><path class="b s1" d="M81.2 134.2h0M104.8 139.2h0M108.4 144.6h0M76.0 135.7h0M82.9 145.9h0M92.9 138.8h0M93.3 146.4h0M108.5 137.2h0M76.8 134.5h0"/><path class="g s1" d="M76.2 141.1h0M90.8 147.3h0M75.2 142.5h0M75.0 135.0h0M100.3 147.8h0M78.5 135.5h0M73.7 142.4h0M97.9 148.5h0M76.7 143.1h0M81.4 147.3h0M105.0 147.5h0"/><path class="k s1" d="M103.2 141.4h0M90.1 139.5h0"/><path class="p s1" d="M65.3 132.9h0"/><path class="r s1" d="M69.4 138.8h0M78.0 136.9h0M61.9 138.8h0M89.2 140.9h0M88.9 142.1h0M96.1 141.2h0M87.7 141.6h0M60.1 139.5h0M79.4 140.1h0M86.8 141.9h0M74.8 138.7h0M73.5 137.1h0M63.3 138.0h0M88.9 136.1h0M79.9 137.9h0"/><path class="w s1" d="M76.2 139.4h0M85.3 143.2h0M101.0 148.2h0M67.7 136.1h0M93.3 139.7h0M83.3 136.6h0M80.6 139.4h0M76.2 138.8h0M92.3 148.7h0M88.8 146.6h0M78.6 139.3h0M97.0 139.2h0M77.8 134.4h0"/><path class="B s0" d="M82.2 146.1h0M101.4 146.5h0M101.1 146.0h0M80.4 146.7h0M74.1 142.4h0"/><path class="R s0" d="M69.7 142.1h0M93.4 150.5h0"/><path class="b s0" d="M94.3 146.3h0M104.7 145.8h0M104.5 139.5h0M103.4 143.0h0M84.9 145.2h0M84.8 146.2h0M100.7 143.3h0M107.5 138.7h0"/><path class="g s0" d="M68.1 142.9h0M74.8 141.5h0"/><path class="k s0" d="M93.6 139.0h0M87.3 144.5h0M80.6 142.2h0"/><path class="l s0" d="M53.9 142.0h0"/><path class="r s0" d="M110.9 142.4h0M54.1 138.4h0M62.8 138.6h0M57.8 139.6h0M72.6 140.9h0M63.8 135.5h0M91.8 136.3h0M70.6 138.9h0M68.2 132.0h0M81.2 142.3h0M53.7 139.8h0M73.2 138.7h0M73.6 138.7h0"/><path class="w s0" d="M73.8 143.0h0M67.4 136.2h0M104.1 146.5h0M72.9 142.7h0M74.3 135.8h0M84.5 141.9h0"/><path class="b s3" d="M82.9 144.2h0M107.5 139.8h0M102.8 139.9h0M104.7 143.4h0"/><path class="l s3" d="M103.1 142.2h0"/><path class="B s2" d="M86.2 142.8h0M79.7 146.5h0"/><path class="R s2" d="M93.1 144.3h0M97.4 149.0h0M88.5 139.6h0M67.8 141.6h0M63.4 140.6h0M95.4 143.5h0"/><path class="b s2" d="M109.7 139.5h0M101.6 145.8h0M107.4 145.6h0M96.8 147.5h0M105.7 141.9h0"/><path class="p s2" d="M64.9 135.5h0"/><path class="r s2" d="M90.7 141.0h0M64.7 135.2h0M72.1 136.9h0M64.2 135.1h0M74.3 138.5h0M98.7 142.3h0M65.2 138.1h0M65.4 140.3h0M72.1 137.4h0M67.7 133.2h0M79.9 138.2h0M97.4 143.1h0"/><path class="B s1" d="M104.0 138.1h0M100.0 146.1h0M107.7 148.1h0M104.9 139.4h0M77.4 145.6h0"/><path class="R s1" d="M83.8 149.5h0M73.6 139.4h0M93.5 150.0h0M85.1 140.4h0M85.8 149.1h0"/><path class="b s1" d="M93.8 146.1h0M103.1 138.3h0M77.8 135.1h0M111.5 145.0h0M100.8 145.1h0M106.5 142.7h0M100.7 145.6h0M81.6 136.1h0M100.6 139.1h0M97.6 144.9h0"/><path class="g s1" d="M89.5 150.7h0M90.1 150.5h0M83.3 142.0h0"/><path class="k s1" d="M108.3 148.7h0M108.6 145.2h0M76.0 143.9h0M79.9 142.5h0"/><path class="l s1" d="M78.2 135.4h0"/><path class="r s1" d="M79.1 138.4h0M73.2 138.5h0M74.5 138.4h0M66.9 133.6h0M55.0 139.8h0M71.3 135.7h0M76.6 138.3h0M91.6 134.1h0M74.3 137.7h0M61.9 137.1h0M105.2 136.3h0M89.7 142.4h0M69.3 137.8h0M66.8 131.7h0M66.4 134.9h0M68.1 133.0h0M63.7 136.5h0"/><path class="w s1" d="M95.0 139.4h0M92.2 150.4h0M111.2 143.1h0M77.1 133.7h0M74.6 141.2h0M74.6 140.8h0M83.0 138.5h0M81.3 137.6h0M91.5 150.0h0M98.8 137.2h0M77.4 140.8h0M83.2 138.9h0M85.8 142.3h0M77.3 140.0h0M79.0 136.2h0"/><path class="B s0" d="M111.2 144.5h0M81.5 145.4h0M93.2 146.0h0M84.2 144.1h0M84.6 143.6h0"/><path class="R s0" d="M73.0 139.6h0M82.4 148.1h0M67.9 142.4h0M70.2 139.2h0M101.6 149.2h0"/><path class="b s0" d="M95.8 145.4h0M105.4 144.4h0M102.9 150.5h0M104.2 142.4h0M103.4 138.7h0M82.2 146.1h0M77.2 134.5h0M98.5 145.6h0M106.5 147.3h0"/><path class="g s0" d="M102.0 149.5h0M102.4 149.0h0"/><path class="k s0" d="M81.0 133.6h0"/><path class="l s0" d="M74.9 135.8h0"/><path class="p s0" d="M86.9 139.3h0"/><path class="r s0" d="M67.8 132.9h0M77.5 137.1h0M79.0 140.9h0M87.1 147.7h0M95.4 139.5h0M88.4 142.6h0M69.9 134.5h0M70.9 137.6h0M63.8 140.7h0M87.5 141.3h0M94.1 143.6h0M64.6 133.1h0M62.7 135.4h0M60.6 138.4h0M82.1 139.5h0M71.6 138.8h0M87.3 141.9h0M91.9 150.3h0"/><path class="w s0" d="M86.8 150.2h0M96.2 139.0h0M90.9 139.9h0M104.7 137.4h0M91.9 148.1h0M87.6 143.4h0M77.4 135.8h0M77.7 133.7h0M105.4 137.9h0M59.6 139.6h0"/><path class="R s2" d="M77.1 144.1h0M80.1 140.1h0M68.6 139.7h0M69.7 140.2h0M67.3 139.6h0M72.5 137.8h0"/><path class="b s2" d="M90.7 144.9h0M106.6 144.9h0M93.7 145.4h0M80.9 135.7h0"/><path class="p s2" d="M63.1 136.5h0M104.7 137.1h0"/><path class="r s2" d="M72.8 136.3h0M94.1 140.5h0M89.4 137.4h0M79.6 144.0h0M68.1 133.4h0M69.5 140.3h0M81.4 141.8h0M88.3 138.6h0M61.8 138.8h0"/><path class="B s1" d="M76.5 146.3h0"/><path class="R s1" d="M72.5 141.3h0M63.6 140.3h0M64.4 140.2h0M97.7 142.2h0M97.1 151.0h0M88.7 141.6h0M88.7 136.5h0M72.6 145.2h0M88.8 147.5h0M55.7 141.3h0M77.8 143.6h0"/><path class="b s1" d="M84.4 143.2h0M81.0 145.0h0M95.6 145.0h0M76.7 135.9h0M101.7 142.0h0M99.1 138.1h0M92.7 147.3h0M105.8 140.6h0M103.3 146.5h0"/><path class="g s1" d="M58.0 140.6h0M80.2 144.5h0M98.7 148.4h0M83.5 141.6h0"/><path class="k s1" d="M105.8 147.5h0M98.3 137.2h0"/><path class="r s1" d="M98.5 149.6h0M73.6 137.2h0M67.0 132.5h0M78.4 144.5h0M88.4 142.3h0M62.7 138.5h0M78.6 133.1h0M81.8 141.7h0M76.9 138.1h0M70.0 134.2h0M95.5 136.0h0M72.5 138.1h0M54.5 138.2h0M64.4 140.8h0M73.2 137.5h0M85.2 140.9h0M80.9 140.4h0M89.4 142.8h0M88.0 139.3h0M56.2 139.9h0M66.7 137.0h0M67.7 137.2h0M88.0 147.2h0M75.2 144.0h0M70.8 138.4h0M80.5 142.2h0M69.4 137.8h0"/><path class="w s1" d="M85.1 138.5h0M74.2 141.9h0M62.5 135.7h0M76.4 134.2h0M87.7 143.3h0M76.3 138.6h0M103.2 138.7h0M90.9 144.7h0M96.0 138.0h0M78.0 139.6h0M77.0 141.2h0M85.0 139.1h0M87.2 142.0h0"/><path class="B s0" d="M110.7 144.1h0M106.4 148.3h0M94.7 145.4h0M97.4 147.3h0M82.4 146.7h0M81.7 144.1h0"/><path class="R s0" d="M83.5 147.5h0M66.9 141.5h0M79.0 142.9h0M66.2 139.2h0"/><path class="b s0" d="M111.0 143.8h0M104.6 139.6h0M110.1 144.7h0M82.5 146.2h0M92.1 149.2h0M103.7 143.5h0M99.0 138.5h0M75.7 134.4h0M106.7 140.3h0M94.5 145.2h0M85.6 145.5h0"/><path class="g s0" d="M87.2 146.7h0M92.6 148.5h0M79.6 144.2h0M76.3 144.9h0M76.8 141.7h0M87.1 146.8h0M98.6 148.1h0"/><path class="k s0" d="M75.8 139.2h0M85.7 136.9h0M86.5 148.3h0M66.9 139.5h0M72.8 139.4h0"/><path class="l s0" d="M74.6 142.2h0M74.6 134.8h0"/><path class="r s0" d="M74.4 140.8h0M64.6 135.2h0M55.9 138.8h0M54.4 139.1h0M85.5 137.8h0M69.1 137.3h0M66.8 134.8h0M62.8 137.3h0M79.7 142.3h0M84.8 139.8h0M88.3 144.2h0M78.3 140.9h0"/><path class="w s0" d="M76.6 145.2h0M80.7 133.7h0M87.4 142.8h0M84.5 139.7h0M99.3 140.2h0M78.6 147.1h0M105.0 146.9h0M100.4 141.1h0"/></g>
<g><path class="z" d="M52.3 172.8L54.2 172.3L56.2 171.8L58.1 171.5L60.0 171.2L61.7 169.6L63.4 168.3L64.6 167.0L65.8 165.7L67.3 165.1L68.7 164.6L70.2 165.5L71.6 166.4L72.8 168.7L74.0 171.0L75.2 169.3L76.4 167.5L77.6 167.4L78.8 167.2L80.1 167.6L81.3 167.9L82.5 170.3L83.7 172.6L85.4 171.8L87.1 171.0L89.9 170.3L92.8 169.7L96.7 169.4L100.6 169.2L103.5 170.0L106.4 170.8L108.3 172.5L110.2 174.1L111.4 174.8L112.1 176.5L112.3 178.7L112.1 180.8L111.4 182.5L110.2 183.2L108.3 184.2L106.4 185.2L103.5 185.6L100.6 185.9L96.7 185.2L92.8 184.6L89.9 184.4L87.1 184.3L85.4 183.5L83.7 182.8L82.5 181.6L81.3 180.5L80.1 180.0L78.8 179.5L77.6 178.9L76.4 178.3L75.2 177.8L74.0 177.3L72.8 176.2L71.6 175.1L70.2 175.1L68.7 175.0L67.3 175.4L65.8 175.8L64.6 175.2L63.4 174.6L61.7 174.9L60.0 174.7L58.1 174.9L56.2 175.1L54.2 175.1L52.3 175.0Z"/><path class="B s3" d="M109.9 181.1h0"/><path class="b s3" d="M92.2 171.1h0M74.6 175.8h0"/><path class="l s3" d="M108.6 173.1h0"/><path class="B s2" d="M105.1 172.4h0M75.0 176.7h0M83.3 180.9h0"/><path class="R s2" d="M104.8 182.5h0M92.2 182.1h0"/><path class="b s2" d="M58.4 175.5h0M84.3 180.1h0M61.6 169.7h0M64.8 171.2h0M64.2 170.6h0M83.1 173.3h0M80.3 177.9h0M78.9 171.3h0M108.6 181.8h0M106.5 180.6h0M75.5 174.7h0"/><path class="p s2" d="M87.6 172.6h0"/><path class="r s2" d="M103.3 173.5h0M68.5 169.7h0M89.7 178.8h0M93.0 175.3h0M101.7 177.4h0"/><path class="B s1" d="M80.2 178.4h0M82.6 180.9h0M108.2 181.4h0M79.0 177.6h0M106.6 183.2h0"/><path class="R s1" d="M97.3 181.0h0M67.5 167.9h0M82.4 177.9h0"/><path class="b s1" d="M103.9 171.8h0M98.8 175.1h0M55.5 173.9h0M62.4 170.1h0M63.9 170.2h0M112.2 175.6h0M73.2 168.9h0M77.5 171.1h0M80.5 176.5h0M54.2 173.1h0M83.2 173.4h0M67.3 171.8h0"/><path class="g s1" d="M91.6 185.2h0"/><path class="k s1" d="M83.6 173.2h0M66.8 169.5h0M84.3 181.3h0"/><path class="l s1" d="M83.0 169.7h0M77.5 170.4h0M56.3 173.5h0"/><path class="r s1" d="M85.0 177.4h0M69.2 169.4h0M80.6 169.7h0M92.6 180.4h0M69.9 166.4h0M86.2 172.8h0M102.5 179.1h0M95.2 169.8h0M70.6 166.6h0M88.7 173.4h0M103.4 175.0h0"/><path class="w s1" d="M65.4 167.9h0M70.2 167.2h0M105.7 171.0h0M84.8 173.1h0M92.4 173.9h0M69.3 171.5h0M92.3 173.6h0M59.1 171.5h0M85.6 179.0h0M88.7 177.9h0M107.4 171.2h0M89.8 178.2h0M102.4 171.9h0"/><path class="B s0" d="M64.1 172.9h0M72.5 175.9h0M65.8 173.3h0M80.2 178.9h0M73.8 176.8h0"/><path class="R s0" d="M104.5 182.7h0M83.3 176.4h0M93.2 182.4h0"/><path class="b s0" d="M83.5 181.1h0M110.4 183.4h0M111.5 181.4h0M66.1 166.9h0M110.9 179.7h0M57.6 174.1h0M105.2 176.5h0M74.8 170.0h0M75.3 170.1h0M100.8 169.6h0M73.6 174.2h0M84.8 181.2h0M104.9 178.5h0M56.9 173.4h0M94.0 171.1h0M85.9 176.2h0M75.6 172.5h0M108.1 172.7h0"/><path class="g s0" d="M87.5 184.4h0M53.3 174.5h0M65.1 173.3h0M77.0 175.9h0"/><path class="k s0" d="M96.1 179.3h0M93.3 173.4h0M77.2 173.6h0"/><path class="l s0" d="M92.0 171.0h0M109.4 171.5h0M75.4 169.6h0M52.0 174.0h0"/><path class="r s0" d="M102.6 178.3h0M89.3 180.1h0M83.6 177.1h0M94.5 177.8h0M98.1 176.5h0M94.3 181.1h0M81.0 176.1h0"/><path class="w s0" d="M105.2 175.6h0M89.1 176.3h0M68.9 166.1h0M79.8 170.8h0M81.9 172.5h0M82.5 171.4h0M87.2 179.0h0M103.0 178.1h0M95.2 174.6h0M62.6 168.8h0M106.9 174.5h0M81.3 175.3h0M78.7 173.1h0"/><path class="B s3" d="M108.4 180.8h0M66.9 174.7h0"/><path class="b s3" d="M78.6 171.6h0M79.7 178.7h0M77.9 179.2h0M95.1 171.9h0M65.1 171.7h0M87.6 176.5h0M105.6 179.6h0"/><path class="l s3" d="M86.1 175.5h0"/><path class="B s2" d="M67.6 174.5h0M58.0 171.2h0M102.6 185.1h0M75.5 171.5h0M59.9 175.0h0M70.7 168.0h0M76.5 176.4h0M111.3 182.6h0"/><path class="R s2" d="M84.5 178.7h0"/><path class="b s2" d="M65.2 170.1h0M77.1 177.7h0M63.5 169.5h0M65.7 172.0h0M76.9 170.7h0M96.0 172.6h0M76.6 172.1h0M104.5 169.7h0"/><path class="l s2" d="M94.4 173.9h0"/><path class="r s2" d="M89.9 173.4h0M94.6 182.4h0M65.8 168.5h0M80.8 174.5h0M68.2 169.0h0"/><path class="B s1" d="M89.1 184.4h0M64.8 171.8h0M79.9 167.2h0M108.1 183.6h0M89.2 183.8h0M83.5 181.0h0M83.3 180.4h0M69.9 174.0h0M61.3 172.9h0M70.2 174.5h0M59.5 173.9h0M61.3 174.8h0M107.6 180.7h0M71.9 176.1h0M75.5 173.4h0"/><path class="R s1" d="M84.3 177.6h0M88.6 180.2h0M103.2 181.9h0M97.1 184.8h0"/><path class="b s1" d="M87.5 176.2h0M105.9 176.6h0M84.2 173.8h0M85.8 180.4h0M66.7 166.0h0M111.4 179.2h0M81.0 177.6h0M78.0 170.9h0M104.7 179.8h0M64.8 172.0h0M63.4 170.4h0M82.3 170.7h0M104.8 177.3h0M56.5 171.3h0M66.6 170.5h0M73.6 173.7h0"/><path class="g s1" d="M97.8 183.1h0M81.7 176.1h0M82.2 175.8h0M97.1 183.9h0M87.5 179.3h0"/><path class="k s1" d="M96.6 177.6h0M105.5 180.0h0M65.1 169.7h0"/><path class="r s1" d="M68.0 170.4h0M88.0 172.2h0M97.6 173.7h0M72.6 172.3h0M99.6 179.8h0M89.5 175.6h0"/><path class="w s1" d="M68.5 170.5h0M66.9 174.8h0M81.6 170.4h0M102.1 176.5h0M101.8 175.2h0M66.0 167.5h0M80.5 171.8h0M83.3 175.2h0M65.3 167.5h0M70.4 166.1h0M82.6 174.8h0M89.7 172.8h0M64.3 167.7h0M67.4 170.9h0M97.2 183.2h0M109.6 176.6h0M92.9 170.5h0M109.2 177.0h0M65.6 174.4h0"/><path class="B s0" d="M80.3 178.0h0M76.6 178.4h0M105.1 180.1h0M80.1 178.2h0M77.4 177.9h0M71.1 169.4h0"/><path class="R s0" d="M92.8 182.0h0M69.1 170.4h0M87.2 172.7h0"/><path class="b s0" d="M85.0 180.1h0M110.0 177.0h0M65.2 172.3h0M110.7 170.7h0M78.9 176.3h0M65.0 166.6h0M100.3 175.7h0M106.8 176.0h0M78.7 171.2h0M71.6 168.1h0M104.7 172.2h0M63.4 172.7h0M66.8 165.7h0"/><path class="g s0" d="M91.5 184.9h0M85.4 177.6h0M96.2 186.0h0"/><path class="k s0" d="M98.5 174.6h0M108.9 177.2h0"/><path class="l s0" d="M94.3 172.7h0M63.7 171.3h0M94.4 171.4h0"/><path class="r s0" d="M95.1 175.4h0M83.1 178.5h0M101.0 182.1h0M98.5 173.4h0M98.3 172.2h0M73.5 171.3h0M102.9 173.3h0M99.2 177.3h0M98.4 178.2h0M72.8 173.4h0"/><path class="w s0" d="M87.5 182.4h0M80.3 172.7h0M70.1 173.2h0M81.7 171.6h0M81.6 181.7h0M67.9 171.0h0"/><path class="B s2" d="M68.7 174.1h0M77.2 177.1h0M110.2 181.1h0"/><path class="R s2" d="M101.8 181.6h0M80.5 180.5h0"/><path class="b s2" d="M105.2 178.9h0M83.4 174.5h0M78.1 177.6h0M107.7 178.6h0M67.9 165.2h0M78.9 178.7h0M104.3 170.4h0M80.7 176.5h0"/><path class="p s2" d="M81.2 168.1h0"/><path class="r s2" d="M85.0 177.6h0M66.8 168.0h0M93.8 175.9h0M103.7 175.7h0M85.3 177.9h0"/><path class="B s1" d="M73.4 174.6h0M83.5 181.5h0M68.5 172.3h0M89.3 183.6h0M79.2 179.1h0"/><path class="R s1" d="M87.0 173.0h0M64.5 175.7h0M102.8 181.8h0M90.9 181.0h0M96.4 181.6h0M101.7 181.7h0"/><path class="b s1" d="M110.0 180.6h0M83.4 169.7h0M76.1 176.3h0M106.7 176.8h0M110.0 169.9h0M82.8 173.9h0M83.4 170.6h0M109.5 181.1h0M81.1 178.6h0M55.6 173.4h0M111.4 180.0h0M74.0 174.6h0M104.3 177.7h0M85.6 174.4h0M76.9 169.6h0M103.7 170.6h0M60.0 175.2h0"/><path class="g s1" d="M104.7 180.4h0M90.5 179.7h0M79.9 176.2h0M96.9 184.0h0M88.1 180.4h0M73.5 173.4h0"/><path class="k s1" d="M83.6 181.3h0M101.2 180.5h0M78.4 176.5h0M104.7 179.1h0M80.0 169.6h0M110.1 177.9h0"/><path class="r s1" d="M90.7 176.3h0M79.0 168.6h0M66.2 169.5h0M95.0 178.2h0M98.5 179.9h0M92.2 181.9h0M98.8 184.2h0M90.1 174.8h0M93.4 180.4h0M79.4 169.2h0M96.4 179.7h0M66.4 170.1h0M91.9 176.4h0M99.0 185.3h0M64.8 175.5h0"/><path class="w s1" d="M98.8 169.5h0M59.7 171.0h0M89.2 177.1h0M82.2 170.1h0M89.6 177.2h0M101.4 173.8h0M91.5 177.7h0M108.3 171.0h0M63.9 167.0h0M71.8 170.3h0M79.3 180.6h0M92.5 178.0h0"/><path class="B s0" d="M70.2 175.5h0M75.5 174.1h0M111.0 177.7h0M76.2 169.7h0M76.5 173.4h0M68.4 172.7h0M72.4 175.4h0M74.3 177.4h0"/><path class="R s0" d="M68.7 169.2h0M82.0 176.3h0M86.4 171.7h0M79.9 169.3h0M92.3 181.4h0"/><path class="b s0" d="M82.3 174.1h0M106.3 176.6h0M75.4 176.0h0M84.2 174.4h0M68.7 173.2h0M76.7 173.4h0M107.7 172.6h0M64.6 170.2h0M85.8 176.7h0M81.6 168.0h0"/><path class="g s0" d="M87.1 170.7h0M77.3 175.5h0M106.7 182.8h0M85.3 182.5h0M92.2 184.8h0"/><path class="k s0" d="M64.6 167.3h0"/><path class="r s0" d="M94.2 175.1h0M80.9 170.3h0M91.8 175.1h0M103.4 180.1h0M102.5 181.0h0M72.1 172.9h0M77.5 174.0h0M104.6 175.2h0M91.4 177.3h0M102.6 173.6h0M80.4 174.4h0M93.6 174.9h0M67.9 169.9h0M73.5 170.9h0M95.8 178.1h0M80.9 175.6h0M77.4 175.4h0"/><path class="w s0" d="M76.0 167.6h0M101.8 170.8h0M102.2 172.0h0M102.9 177.0h0M86.3 178.9h0M74.2 171.0h0M101.8 171.0h0"/></g>
<g><path class="z" d="M51.5 209.6L53.5 209.1L55.4 208.6L57.4 207.9L59.4 207.2L61.4 205.1L63.3 203.3L65.3 202.0L67.3 200.8L69.2 201.6L71.2 202.4L73.2 203.0L75.1 203.5L77.1 203.9L79.1 204.4L82.0 204.6L85.0 204.8L88.9 204.7L92.9 204.6L96.8 204.2L100.8 203.7L103.7 204.6L106.7 205.4L108.6 207.0L110.6 208.6L111.8 209.4L112.5 211.0L112.7 213.2L112.5 215.4L111.8 217.1L110.6 217.8L108.6 218.6L106.7 219.4L103.7 220.0L100.8 220.6L96.8 220.2L92.9 219.8L88.9 219.2L85.0 218.6L82.0 217.5L79.1 216.4L77.1 214.9L75.1 213.4L73.2 212.2L71.2 211.1L69.2 210.6L67.3 210.1L65.3 210.6L63.3 211.1L61.4 211.1L59.4 210.7L57.4 211.0L55.4 211.4L53.5 211.4L51.5 211.4Z"/><path class="B s3" d="M92.5 214.3h0M96.7 210.6h0M87.6 215.7h0M109.8 216.3h0M77.1 209.1h0"/><path class="b s3" d="M91.2 213.5h0M79.2 215.5h0M106.7 218.2h0M98.8 208.4h0M87.6 206.1h0M78.4 205.7h0M90.8 212.8h0M109.1 212.5h0M80.1 207.6h0M103.8 219.6h0M91.6 205.5h0M101.4 203.3h0M84.1 209.4h0M75.8 206.6h0M83.1 207.9h0M78.6 209.1h0M92.3 210.3h0M98.2 209.7h0M93.6 205.1h0M78.4 204.6h0M87.0 214.7h0M96.6 208.5h0M75.3 205.0h0M80.4 211.4h0M76.4 208.3h0M83.9 207.7h0M79.8 208.9h0M80.1 206.9h0M84.5 213.4h0M97.9 213.6h0M79.3 209.2h0M108.3 211.5h0M91.3 209.9h0M102.5 204.1h0M92.6 210.5h0M94.5 208.6h0M83.2 214.2h0M100.9 203.0h0M95.2 211.2h0M86.8 208.8h0M98.5 203.0h0M85.5 204.6h0M93.4 208.3h0M74.1 209.7h0M76.4 205.4h0M102.1 221.1h0M79.6 209.7h0M100.4 212.5h0M106.9 204.4h0M83.2 205.8h0"/><path class="R s2" d="M67.7 209.1h0M65.3 209.3h0"/><path class="b s2" d="M97.7 207.4h0M96.3 207.5h0M100.1 206.4h0M94.9 206.7h0M92.3 210.7h0M103.5 207.7h0"/><path class="r s2" d="M68.3 202.7h0M62.4 206.2h0"/><path class="B s1" d="M98.5 214.6h0M59.5 211.3h0M62.6 211.3h0M88.2 215.9h0"/><path class="R s1" d="M62.3 207.2h0M106.7 215.8h0M69.6 207.7h0M107.3 216.1h0M75.4 211.7h0"/><path class="b s1" d="M99.2 207.3h0M102.2 220.7h0M93.1 213.0h0M73.8 210.1h0"/><path class="g s1" d="M67.6 210.1h0M67.8 209.6h0M89.0 213.7h0M89.1 216.9h0M101.5 216.9h0"/><path class="k s1" d="M97.8 205.3h0M93.2 216.9h0M62.7 206.0h0"/><path class="l s1" d="M72.3 212.1h0M93.9 206.4h0"/><path class="r s1" d="M65.5 209.6h0M64.4 206.6h0M71.2 203.9h0M70.5 206.8h0M68.4 202.1h0M71.3 206.0h0M66.6 204.7h0M99.6 220.8h0M105.3 216.3h0M75.1 203.1h0"/><path class="w s1" d="M103.5 207.3h0M107.2 207.9h0M71.7 209.0h0M65.1 201.4h0M104.7 215.4h0M71.5 207.3h0M106.0 219.6h0M57.8 207.4h0M105.2 211.4h0M97.7 211.4h0M104.9 210.6h0M98.0 215.8h0M107.3 213.7h0M92.0 217.5h0M98.0 212.3h0M95.0 212.9h0M99.6 209.7h0M88.6 213.1h0M90.3 212.0h0M83.2 216.3h0"/><path class="B s0" d="M75.7 205.6h0M76.5 214.8h0M104.2 212.9h0"/><path class="R s0" d="M90.7 216.9h0M74.0 213.2h0M75.8 213.3h0"/><path class="b s0" d="M89.0 208.5h0M108.8 214.0h0M89.0 205.6h0M80.6 209.9h0M84.8 215.0h0M93.8 202.6h0M75.5 210.4h0M74.2 209.5h0M102.4 219.7h0M107.9 213.7h0M100.9 205.5h0M92.2 204.8h0M87.0 211.6h0M91.4 214.3h0M64.3 210.8h0M102.9 208.7h0M102.4 212.0h0"/><path class="g s0" d="M88.9 212.5h0M88.1 213.7h0M93.1 219.9h0M94.6 216.2h0M110.6 217.9h0"/><path class="l s0" d="M104.4 207.9h0"/><path class="r s0" d="M71.9 203.9h0M90.1 206.9h0M68.4 205.6h0M66.9 207.0h0M101.8 217.4h0M107.1 210.3h0M69.7 202.2h0"/><path class="w s0" d="M106.7 208.9h0M88.8 207.2h0M108.4 208.3h0M101.2 208.0h0M72.8 207.4h0M59.0 210.1h0"/><path class="B s3" d="M80.5 214.2h0M84.3 218.5h0M96.8 210.1h0M80.6 205.9h0M99.3 210.5h0M87.6 207.8h0M103.5 218.9h0M90.7 208.7h0M97.8 214.6h0M92.3 204.8h0M86.3 212.8h0M77.5 213.6h0M78.5 213.7h0M73.7 211.5h0M90.3 214.5h0"/><path class="b s3" d="M103.8 208.7h0M100.5 207.5h0M95.1 210.6h0M105.2 208.6h0M100.3 214.9h0M85.7 214.9h0M102.2 206.8h0M79.2 207.1h0M98.6 205.3h0M104.0 208.8h0M84.5 210.5h0M103.0 214.3h0M91.8 212.7h0M109.4 210.0h0M91.9 214.0h0M81.8 205.1h0M110.5 212.4h0M90.5 209.6h0M92.2 204.4h0M81.1 207.3h0M96.1 213.6h0M75.7 210.0h0M81.9 207.3h0M96.0 210.5h0M83.3 204.1h0M99.3 204.8h0M109.7 212.8h0M100.3 202.7h0M91.7 209.0h0M103.7 208.5h0M96.6 209.1h0M83.6 210.3h0M85.0 209.4h0M92.7 208.0h0M101.8 215.2h0M85.7 205.3h0M81.8 214.6h0M76.7 209.3h0M102.6 215.3h0M81.3 207.2h0M79.1 213.3h0M98.5 205.7h0M92.9 206.3h0"/><path class="l s3" d="M109.2 211.9h0"/><path class="B s2" d="M107.5 217.1h0"/><path class="b s2" d="M90.9 208.7h0M77.6 205.5h0"/><path class="p s2" d="M58.5 208.8h0"/><path class="r s2" d="M76.0 203.5h0M105.3 215.7h0M68.5 207.8h0M70.1 203.4h0M75.1 213.6h0"/><path class="B s1" d="M107.2 218.1h0M87.2 216.9h0M92.3 210.7h0M85.7 216.9h0M109.2 215.6h0M106.1 208.6h0M106.5 213.3h0"/><path class="R s1" d="M106.9 215.8h0M70.2 205.1h0"/><path class="b s1" d="M54.2 209.5h0M99.7 206.8h0M78.7 212.9h0M76.3 207.1h0M92.5 211.1h0M76.1 206.4h0M111.5 212.4h0M93.7 202.9h0"/><path class="g s1" d="M96.9 217.8h0M51.0 210.9h0M89.2 219.6h0M94.7 217.7h0M94.5 218.1h0M104.6 217.8h0M107.4 214.2h0M81.0 213.7h0M93.0 218.1h0M99.8 219.5h0M108.6 214.7h0M100.3 219.0h0M98.1 211.0h0M83.8 212.9h0"/><path class="k s1" d="M73.5 205.4h0M93.3 208.2h0M104.8 218.4h0M76.2 208.7h0M70.9 205.6h0M82.5 208.9h0M109.5 211.0h0"/><path class="r s1" d="M74.8 212.1h0M69.1 207.4h0M69.8 208.7h0M64.2 207.2h0M88.6 211.7h0M60.3 208.0h0M66.4 207.7h0M68.8 205.0h0M51.9 209.9h0M67.7 207.3h0M71.5 204.9h0M64.7 206.2h0"/><path class="w s1" d="M105.4 207.4h0M71.7 205.3h0M99.1 215.5h0M100.9 218.2h0M100.9 215.2h0M62.7 203.9h0M107.3 208.0h0M66.0 209.9h0M76.2 213.5h0M99.3 217.7h0"/><path class="R s0" d="M66.3 208.5h0M106.9 216.5h0M65.6 206.0h0M75.9 211.9h0M97.7 221.0h0M66.5 207.5h0"/><path class="b s0" d="M92.2 209.0h0M79.3 207.2h0M71.1 201.7h0M100.8 210.9h0M93.8 215.4h0M101.4 207.4h0M99.2 213.9h0M94.1 213.0h0"/><path class="g s0" d="M92.6 218.2h0M92.6 216.2h0"/><path class="k s0" d="M90.3 214.8h0M91.8 217.8h0"/><path class="r s0" d="M64.9 208.2h0M75.5 211.4h0M83.0 217.7h0M67.6 203.6h0M106.0 211.9h0"/><path class="w s0" d="M77.3 203.3h0M65.9 210.4h0M94.5 217.9h0M103.0 208.0h0M91.1 206.6h0M70.4 209.7h0M56.3 207.9h0M68.1 201.4h0M89.9 217.9h0M105.3 206.1h0"/><path class="R s2" d="M64.0 206.8h0"/><path class="b s2" d="M81.0 211.3h0M86.3 215.0h0M75.3 208.8h0M99.4 213.1h0M79.9 212.9h0"/><path class="r s2" d="M109.3 207.8h0M59.7 207.9h0M64.5 206.3h0M107.2 210.1h0"/><path class="B s1" d="M105.9 213.5h0M84.1 215.3h0"/><path class="R s1" d="M104.1 216.2h0M97.0 216.5h0"/><path class="b s1" d="M71.8 205.9h0M81.6 208.1h0M60.7 210.8h0M96.3 218.8h0M53.8 210.2h0M108.3 213.1h0M110.9 214.6h0M102.6 204.2h0M79.3 212.2h0M83.6 215.1h0"/><path class="g s1" d="M89.9 219.8h0M96.6 211.3h0M106.7 219.4h0M86.5 213.6h0M83.2 213.3h0"/><path class="k s1" d="M98.4 214.8h0M93.7 210.1h0M93.8 212.7h0M61.2 209.4h0"/><path class="l s1" d="M88.0 213.7h0"/><path class="r s1" d="M108.2 209.9h0M63.4 203.6h0M107.1 206.5h0M62.6 206.2h0M64.0 208.4h0M68.5 208.5h0M108.1 207.1h0M62.1 205.3h0M67.3 205.9h0M70.6 206.0h0M71.2 206.6h0M63.7 205.9h0M99.8 215.8h0"/><path class="w s1" d="M105.2 210.8h0M95.5 211.6h0M102.2 208.5h0M84.0 212.9h0M62.5 209.9h0M104.7 206.5h0M75.2 208.1h0M67.5 201.3h0M96.6 217.8h0M57.1 210.4h0M107.5 211.3h0M71.3 209.2h0M72.8 207.6h0"/><path class="B s0" d="M94.8 208.5h0M94.0 215.7h0"/><path class="R s0" d="M69.1 201.8h0M69.7 211.0h0M88.7 211.7h0"/><path class="b s0" d="M87.8 214.0h0M76.6 205.1h0M54.6 210.2h0M79.7 208.6h0M102.7 206.2h0M107.3 218.7h0M86.2 213.9h0M92.1 206.7h0M89.8 210.3h0M88.7 213.8h0M104.9 214.5h0M86.1 214.7h0"/><path class="g s0" d="M92.0 220.1h0M107.1 216.9h0M105.9 214.7h0M106.3 214.1h0M67.9 209.6h0M96.1 216.0h0"/><path class="k s0" d="M73.5 211.3h0M103.5 207.6h0M64.2 208.5h0"/><path class="r s0" d="M65.0 207.8h0M66.5 205.0h0M63.0 205.3h0M65.2 207.4h0M74.2 203.9h0M67.6 205.4h0M107.7 206.8h0"/><path class="w s0" d="M90.7 207.9h0M105.7 207.5h0M108.2 211.1h0M91.4 217.2h0M91.7 217.1h0M104.9 218.0h0"/></g>
<g><path class="z" d="M51.5 244.3L53.5 243.8L55.4 243.2L57.4 243.0L59.4 242.7L61.1 241.0L62.8 239.7L64.1 238.4L65.3 237.2L66.8 236.9L68.2 236.5L69.7 237.2L71.2 238.0L72.4 240.1L73.7 242.2L74.9 241.1L76.1 240.1L77.4 239.1L78.6 238.1L79.8 239.0L81.0 240.0L82.3 242.2L83.5 244.4L85.2 242.6L87.0 240.8L89.9 240.3L92.9 239.7L96.8 239.9L100.8 240.0L103.7 240.6L106.7 241.2L108.6 243.1L110.6 245.0L111.8 245.7L112.6 247.5L112.9 249.8L112.6 252.2L111.8 253.9L110.6 254.7L108.6 255.3L106.7 255.9L103.7 256.7L100.8 257.4L96.8 257.3L92.9 257.2L89.9 256.8L87.0 256.3L85.2 255.7L83.5 255.0L82.3 253.3L81.0 251.7L79.8 251.4L78.6 251.1L77.4 250.2L76.1 249.4L74.9 248.9L73.7 248.4L72.4 247.4L71.2 246.3L69.7 246.7L68.2 247.2L66.8 247.3L65.3 247.4L64.1 246.6L62.8 245.8L61.1 246.2L59.4 246.2L57.4 246.4L55.4 246.6L53.5 246.5L51.5 246.5Z"/><path class="B s3" d="M111.8 253.9h0M105.0 253.0h0M91.6 253.0h0M79.3 247.6h0M79.5 251.3h0M83.5 245.1h0M79.1 250.7h0M87.2 248.5h0M82.6 251.8h0M101.2 252.9h0M105.4 244.8h0"/><path class="b s3" d="M91.1 239.1h0M83.3 251.2h0M85.6 245.1h0M78.1 246.4h0M105.6 247.5h0M79.0 246.4h0M81.2 246.3h0M106.3 248.4h0M79.5 244.9h0M81.2 241.2h0M88.4 252.5h0M78.1 242.5h0M91.6 239.3h0M76.5 241.9h0M74.7 243.4h0M106.3 244.8h0M89.1 243.1h0M78.3 244.9h0M105.9 247.3h0M98.7 247.0h0M97.2 244.6h0M84.2 253.5h0M86.3 249.3h0M106.4 247.9h0M78.3 246.8h0M91.1 250.7h0M76.2 244.6h0M71.7 245.2h0M104.5 256.3h0M76.5 247.9h0M80.9 250.9h0M98.2 250.6h0M90.2 252.0h0M82.9 240.8h0M89.1 243.2h0M65.4 238.1h0"/><path class="l s3" d="M81.5 243.9h0"/><path class="B s2" d="M78.2 250.0h0M84.4 243.1h0M105.2 253.7h0M81.3 247.5h0M90.2 247.0h0"/><path class="R s2" d="M86.4 251.1h0"/><path class="b s2" d="M77.4 246.2h0M74.0 244.3h0M68.0 247.9h0M83.7 252.6h0M80.3 241.8h0"/><path class="r s2" d="M61.7 243.3h0M61.7 242.8h0"/><path class="B s1" d="M82.3 252.6h0M75.4 240.9h0M100.8 253.2h0M76.1 243.6h0M83.6 243.4h0M81.8 247.9h0M69.8 244.9h0M88.1 251.9h0M69.4 244.7h0"/><path class="b s1" d="M83.7 243.5h0M79.6 247.6h0M68.2 241.9h0M89.2 245.5h0M96.8 249.9h0M86.2 248.4h0M79.7 243.5h0M98.5 251.6h0M82.2 246.6h0M88.3 248.1h0M79.0 245.1h0M94.6 250.0h0M83.0 243.4h0M74.0 249.8h0M99.5 247.9h0"/><path class="g s1" d="M80.1 248.6h0M88.0 247.7h0M84.2 251.4h0M71.1 243.7h0M107.4 254.6h0M109.3 256.0h0"/><path class="k s1" d="M74.1 247.4h0"/><path class="l s1" d="M97.2 248.0h0"/><path class="r s1" d="M64.0 247.0h0M79.6 239.6h0M60.6 242.1h0M70.5 237.8h0M70.7 242.7h0M67.7 243.5h0M63.7 239.4h0"/><path class="w s1" d="M110.8 253.0h0M89.3 246.3h0M108.5 254.6h0M86.8 251.5h0M100.1 241.3h0M84.4 249.3h0M90.7 249.1h0M100.7 244.6h0M111.7 244.8h0M84.3 251.8h0"/><path class="B s0" d="M99.1 245.7h0M75.3 248.6h0M69.3 244.9h0M77.7 251.6h0M79.4 248.8h0M72.5 245.2h0"/><path class="R s0" d="M94.2 240.0h0M80.5 239.5h0M62.9 244.9h0M108.6 245.1h0M92.5 245.3h0M65.3 248.1h0"/><path class="b s0" d="M105.0 248.5h0M100.0 245.0h0M96.2 244.6h0M103.5 242.4h0M103.9 242.0h0M79.9 247.1h0M103.3 244.3h0M110.8 249.6h0M73.0 241.1h0M73.8 244.9h0M103.9 242.3h0M88.7 250.8h0M96.8 245.8h0M73.7 244.6h0M91.8 241.7h0M106.1 250.7h0"/><path class="g s0" d="M82.5 248.0h0M66.3 243.8h0M105.2 254.2h0M65.8 246.2h0M65.8 243.3h0"/><path class="k s0" d="M74.4 246.8h0M70.6 246.4h0M78.0 240.0h0M72.5 244.1h0"/><path class="l s0" d="M82.6 252.4h0"/><path class="p s0" d="M68.4 239.7h0"/><path class="r s0" d="M59.7 243.2h0M77.6 239.8h0M71.9 241.8h0M89.8 254.7h0M64.6 245.7h0M58.0 243.8h0M54.4 244.8h0M102.6 244.9h0M70.5 240.8h0M73.1 242.1h0M94.3 245.2h0M87.0 239.8h0M88.4 240.9h0M64.8 240.9h0"/><path class="w s0" d="M85.1 250.6h0M89.2 245.7h0M72.5 243.1h0M81.7 247.8h0M72.3 243.3h0"/><path class="B s3" d="M66.3 246.1h0M94.0 240.9h0M98.5 252.8h0M100.7 255.8h0M69.8 246.3h0M83.1 255.7h0M101.3 254.1h0M107.6 252.0h0M102.2 256.3h0M104.4 256.9h0M75.5 248.7h0M102.6 255.9h0M68.4 246.3h0M109.2 255.2h0"/><path class="b s3" d="M80.7 250.0h0M84.0 245.7h0M98.4 253.5h0M84.1 246.4h0M98.9 249.6h0M81.9 243.6h0M106.0 246.5h0M103.0 248.0h0M95.2 241.7h0M99.8 248.4h0M81.5 245.1h0M82.5 244.5h0M75.7 248.2h0M105.1 245.4h0M74.6 243.7h0M110.2 249.5h0M107.8 251.2h0M104.3 244.0h0M104.5 253.3h0M97.2 249.6h0M82.0 240.9h0M100.6 249.4h0M104.6 247.0h0M104.1 244.9h0M87.6 249.0h0M75.7 240.0h0M79.1 242.9h0M75.6 241.4h0"/><path class="B s2" d="M101.4 243.0h0M70.9 244.9h0"/><path class="b s2" d="M80.0 251.5h0M78.3 245.0h0M98.0 249.9h0M100.2 251.5h0"/><path class="r s2" d="M108.9 244.6h0M62.5 240.6h0M66.4 240.6h0M94.3 246.0h0M109.9 246.3h0M94.5 245.0h0M109.6 253.0h0"/><path class="B s1" d="M108.2 254.1h0M102.0 252.9h0M80.3 247.3h0"/><path class="R s1" d="M90.3 256.1h0M92.5 249.7h0M70.9 239.0h0M101.9 246.2h0M61.5 245.1h0M86.4 253.2h0M73.2 242.1h0"/><path class="b s1" d="M81.7 245.6h0M104.3 241.9h0M71.7 245.3h0M105.7 249.9h0M81.6 247.0h0M98.4 248.0h0M113.2 250.1h0M53.9 246.5h0M76.5 245.7h0M97.2 248.8h0"/><path class="g s1" d="M63.4 243.8h0M106.0 254.2h0M70.2 244.0h0M73.9 246.8h0M82.8 247.6h0M107.0 255.2h0M76.7 245.7h0M84.1 242.2h0M87.8 246.5h0"/><path class="k s1" d="M108.6 251.6h0"/><path class="l s1" d="M108.4 247.1h0"/><path class="p s1" d="M95.2 246.4h0"/><path class="r s1" d="M63.3 238.9h0M109.4 245.6h0M95.3 253.0h0M110.8 246.5h0M59.9 243.8h0M64.3 241.5h0M93.9 246.8h0M92.3 243.4h0M72.4 242.0h0M78.9 239.0h0M100.9 245.8h0M66.5 240.4h0M69.6 243.9h0M68.2 238.5h0M93.5 245.7h0"/><path class="w s1" d="M65.4 242.9h0M58.2 246.9h0M67.0 243.0h0M90.9 249.9h0M110.0 248.1h0M96.9 247.5h0M82.5 247.9h0M94.6 249.4h0M104.4 253.8h0M69.4 242.9h0M91.3 243.5h0M92.2 242.9h0M70.6 243.4h0M66.3 241.3h0"/><path class="B s0" d="M75.7 245.6h0M84.1 255.8h0M94.7 256.3h0"/><path class="R s0" d="M73.0 242.1h0"/><path class="b s0" d="M78.0 247.3h0M94.5 251.8h0M72.4 243.7h0M78.9 241.7h0M77.5 242.6h0M98.0 246.1h0M75.2 242.0h0M103.8 257.0h0M81.2 243.5h0M87.2 245.1h0M88.8 251.7h0M95.9 250.4h0"/><path class="g s0" d="M88.0 253.1h0M100.9 256.2h0M93.5 250.7h0"/><path class="k s0" d="M73.0 246.4h0M71.7 247.5h0"/><path class="l s0" d="M68.8 242.1h0"/><path class="r s0" d="M67.8 238.6h0M56.3 244.0h0M64.2 242.0h0M59.7 244.6h0"/><path class="w s0" d="M101.1 243.0h0M84.3 247.3h0M96.6 248.7h0M68.7 241.3h0M71.6 246.2h0M67.0 242.1h0M81.6 248.3h0M73.6 248.2h0"/><path class="B s2" d="M74.0 245.5h0M100.5 244.3h0M95.0 256.3h0"/><path class="R s2" d="M63.8 246.1h0"/><path class="b s2" d="M87.1 250.5h0M74.9 244.8h0M96.2 251.9h0"/><path class="p s2" d="M92.7 244.7h0"/><path class="r s2" d="M61.0 241.3h0M64.0 241.0h0"/><path class="B s1" d="M99.0 252.9h0M77.8 241.8h0M101.3 255.3h0M80.2 248.0h0M91.1 252.7h0"/><path class="R s1" d="M70.3 241.0h0M87.7 253.9h0"/><path class="b s1" d="M88.3 245.9h0M75.2 241.7h0M106.0 245.8h0M78.1 246.5h0M99.3 241.3h0M97.9 246.8h0M105.5 245.4h0M74.8 243.3h0M82.5 243.6h0M77.7 242.0h0M73.1 240.5h0M79.4 243.2h0M99.5 241.2h0M80.0 247.1h0M77.5 244.7h0M97.1 239.5h0"/><path class="g s1" d="M82.3 249.3h0M57.3 245.5h0M67.7 241.3h0M65.0 243.6h0M66.1 244.0h0"/><path class="k s1" d="M79.4 241.2h0M90.1 241.7h0M74.3 245.1h0"/><path class="r s1" d="M79.2 240.5h0M77.7 240.8h0M52.6 243.8h0M111.4 246.9h0M80.0 239.2h0M72.0 242.0h0M78.4 237.0h0M54.3 244.6h0M101.8 246.3h0M62.7 243.4h0M90.6 244.8h0"/><path class="w s1" d="M65.0 244.7h0M70.8 237.9h0M85.1 253.0h0M83.5 243.4h0M100.7 244.2h0M99.6 255.5h0M71.2 242.9h0M81.8 248.0h0M66.5 241.0h0M86.1 247.7h0M74.0 248.2h0"/><path class="B s0" d="M77.8 242.8h0M88.3 244.9h0M103.8 253.5h0M83.5 250.4h0M74.7 242.7h0M51.6 246.2h0M89.5 242.7h0M83.3 252.5h0"/><path class="R s0" d="M65.2 245.8h0M86.6 252.5h0"/><path class="b s0" d="M83.8 247.1h0M77.1 244.9h0M77.5 243.2h0M105.3 244.6h0M108.7 251.3h0M77.8 249.8h0M105.6 243.5h0M81.9 250.8h0M80.3 241.7h0M111.8 243.8h0M89.3 247.6h0M79.7 246.4h0M77.7 248.9h0M84.8 244.9h0"/><path class="g s0" d="M85.7 251.1h0M87.6 252.8h0M96.8 248.0h0"/><path class="k s0" d="M76.4 242.3h0M108.9 246.7h0"/><path class="r s0" d="M63.9 242.6h0M56.3 242.7h0M68.3 238.2h0M60.8 241.8h0M60.7 242.7h0"/><path class="w s0" d="M68.9 240.8h0M92.2 247.8h0M101.8 240.4h0M69.1 242.8h0M87.9 253.4h0"/></g>
<g><path class="z" d="M115.0 67.6L117.0 68.3L118.9 69.1L120.9 69.8L122.9 70.5L124.5 70.9L126.0 71.3L127.2 70.4L128.3 69.8L130.3 69.6L132.2 69.5L134.2 68.8L136.2 68.1L137.7 68.7L139.1 69.3L140.6 67.8L142.1 66.3L143.8 64.7L145.5 63.0L147.2 62.8L148.8 62.6L150.6 61.6L152.4 60.6L155.4 60.3L158.3 60.0L161.8 60.5L165.2 61.0L167.9 61.8L170.7 62.6L172.4 63.9L174.1 65.2L175.2 65.9L175.9 67.4L176.1 69.5L175.9 71.6L175.2 73.2L174.1 73.9L172.4 74.6L170.7 75.4L167.9 75.8L165.2 76.2L161.8 76.0L158.3 75.9L155.4 75.7L152.4 75.6L150.6 75.5L148.8 75.5L147.2 76.0L145.5 76.6L143.8 76.5L142.1 76.4L140.6 76.8L139.1 77.3L137.7 78.2L136.2 79.1L134.2 79.3L132.2 79.5L130.3 78.7L128.3 78.0L127.2 76.3L126.0 74.2L124.5 73.3L122.9 72.3L120.9 71.5L118.9 70.7L117.0 69.8L115.0 69.0Z"/><path class="B s3" d="M139.3 72.1h0M144.1 75.0h0M141.2 72.1h0"/><path class="b s3" d="M166.9 62.8h0M145.5 68.6h0M136.0 68.8h0M147.8 71.5h0M172.7 65.2h0M154.2 60.2h0M132.3 71.5h0M172.0 64.9h0M153.6 61.6h0"/><path class="B s2" d="M164.9 68.0h0M142.5 73.4h0M136.9 76.6h0"/><path class="R s2" d="M165.3 71.4h0M164.9 74.2h0M158.0 73.3h0M172.5 71.8h0"/><path class="b s2" d="M129.2 72.3h0M148.8 63.7h0M170.8 66.9h0M164.6 62.7h0M161.6 63.5h0M152.9 66.0h0"/><path class="r s2" d="M146.2 71.8h0M143.0 63.9h0M137.2 72.5h0M160.0 68.7h0M152.4 60.8h0M159.8 66.0h0M172.9 69.9h0M169.1 71.6h0M150.6 70.4h0M149.7 69.3h0M144.5 69.9h0"/><path class="B s1" d="M142.1 73.4h0M139.1 75.4h0M171.2 74.4h0M148.5 71.9h0M126.6 74.4h0M143.6 75.1h0M134.7 76.2h0"/><path class="R s1" d="M123.9 71.3h0M165.5 73.2h0M172.7 69.3h0M167.8 75.3h0"/><path class="b s1" d="M139.3 71.9h0M139.6 73.6h0M145.9 67.1h0M155.1 60.0h0M147.4 69.3h0M163.3 64.0h0"/><path class="g s1" d="M147.1 66.5h0M162.3 68.1h0M165.2 63.7h0M146.9 71.4h0M145.6 75.3h0M123.4 72.1h0M127.0 72.0h0"/><path class="k s1" d="M140.6 73.8h0M162.1 65.7h0M154.9 60.3h0M137.2 74.2h0"/><path class="r s1" d="M174.3 65.5h0M127.9 74.3h0M149.9 66.2h0M157.9 67.3h0M152.6 61.5h0M149.6 66.5h0M151.7 66.6h0M159.1 62.9h0M150.7 62.1h0M161.0 68.5h0M133.9 70.4h0M168.4 71.0h0"/><path class="w s1" d="M171.9 74.6h0M168.6 62.9h0M151.0 73.3h0M152.2 65.9h0M157.2 62.9h0M171.0 69.1h0M143.3 65.9h0M128.3 76.2h0M141.6 71.0h0M141.2 70.2h0M154.5 69.0h0M126.9 72.8h0M144.1 69.4h0"/><path class="B s0" d="M149.0 71.1h0M171.2 63.1h0M143.5 76.1h0"/><path class="R s0" d="M148.0 74.8h0M158.4 73.1h0M114.9 69.3h0M159.2 71.8h0"/><path class="b s0" d="M128.5 77.5h0M162.0 64.2h0M130.8 71.8h0M163.3 67.1h0M140.0 70.6h0M154.2 59.9h0M172.2 63.8h0M140.3 73.2h0M149.2 69.6h0"/><path class="g s0" d="M161.1 76.3h0M128.0 76.1h0M173.8 72.9h0M147.4 75.2h0M153.4 72.7h0"/><path class="k s0" d="M164.3 75.5h0"/><path class="p s0" d="M167.0 68.8h0"/><path class="r s0" d="M152.9 71.6h0M137.5 73.3h0M115.3 68.3h0M153.4 71.5h0M137.3 73.2h0M158.4 64.8h0M150.0 64.8h0M141.6 76.5h0M145.7 73.1h0M159.0 70.3h0M163.8 73.9h0M168.6 72.4h0M147.4 74.1h0M164.5 71.4h0M151.4 70.8h0"/><path class="w s0" d="M141.5 71.4h0M150.3 73.1h0M146.6 65.5h0M131.0 75.1h0M149.5 62.7h0M149.4 64.8h0M146.5 65.2h0M152.4 64.8h0M148.0 63.5h0M148.9 63.3h0"/><path class="B s3" d="M136.7 77.5h0M138.4 69.1h0M137.9 68.6h0M136.4 77.1h0M135.7 72.1h0"/><path class="b s3" d="M144.2 76.6h0M139.4 70.3h0M129.4 70.9h0M153.0 74.4h0M131.2 72.7h0M139.2 71.2h0M147.4 69.0h0M146.3 68.3h0M144.3 65.4h0M144.9 66.4h0M143.2 74.6h0"/><path class="B s2" d="M148.1 71.8h0"/><path class="R s2" d="M155.1 72.0h0M151.1 68.3h0"/><path class="b s2" d="M138.7 72.5h0M155.3 61.4h0M154.7 65.8h0M143.8 75.2h0M136.1 69.9h0M134.5 75.8h0M131.5 74.7h0"/><path class="l s2" d="M146.7 67.8h0"/><path class="r s2" d="M142.8 68.5h0M155.5 71.4h0M155.0 74.6h0M168.2 70.8h0M152.5 68.0h0M171.9 70.1h0M174.5 65.7h0"/><path class="B s1" d="M143.1 73.6h0M143.1 75.7h0M138.2 69.6h0M169.7 75.2h0"/><path class="R s1" d="M168.7 72.0h0M163.2 74.3h0M164.6 73.1h0M160.2 62.7h0"/><path class="b s1" d="M148.6 68.5h0M174.8 69.2h0M154.8 62.8h0M139.2 73.4h0M139.2 71.0h0M162.7 64.0h0M136.9 76.2h0M140.3 73.8h0M146.4 69.3h0M135.9 74.3h0M162.1 63.4h0"/><path class="g s1" d="M171.9 72.9h0M145.9 77.2h0M152.7 65.6h0M161.6 75.8h0M150.2 63.9h0M138.5 74.7h0M139.8 75.5h0M139.8 75.5h0"/><path class="k s1" d="M133.3 78.2h0M159.6 69.0h0"/><path class="l s1" d="M126.6 71.9h0M123.5 72.4h0"/><path class="r s1" d="M159.3 70.9h0M151.0 68.6h0M143.0 70.4h0M149.4 68.4h0M165.1 71.3h0M147.7 64.6h0M167.5 69.2h0M161.8 71.3h0M168.9 67.4h0M149.7 73.2h0M146.1 74.5h0"/><path class="w s1" d="M150.3 62.2h0M174.1 72.1h0M170.3 67.3h0M165.4 70.9h0M138.4 72.8h0M165.3 76.5h0M137.7 74.4h0M153.1 59.7h0M151.3 73.6h0M166.1 68.0h0M150.4 60.8h0M126.9 73.7h0M152.1 65.1h0M163.9 76.7h0M158.1 62.8h0M144.9 77.0h0"/><path class="B s0" d="M156.0 69.1h0M126.0 73.0h0M148.1 72.2h0M135.4 77.0h0"/><path class="R s0" d="M160.2 66.1h0M160.6 63.0h0M167.2 74.8h0M158.1 75.0h0M163.3 74.0h0"/><path class="b s0" d="M126.8 76.3h0M117.1 68.6h0M124.9 72.1h0M140.4 69.1h0M153.6 63.0h0M134.3 74.6h0M141.4 72.9h0M146.5 67.2h0M165.7 68.7h0M131.6 72.3h0M120.6 69.6h0"/><path class="g s0" d="M153.1 63.3h0M149.6 64.3h0M161.5 74.0h0M164.5 64.2h0M157.8 70.7h0M128.4 76.5h0"/><path class="k s0" d="M127.2 75.5h0"/><path class="l s0" d="M120.2 70.5h0M172.7 65.1h0M135.2 73.2h0"/><path class="r s0" d="M173.1 70.8h0M141.7 70.5h0M173.3 73.4h0M150.6 72.9h0M166.2 66.2h0M140.9 75.9h0M124.7 70.5h0M161.4 71.3h0M150.4 68.5h0M154.2 73.2h0M143.3 63.8h0M152.7 71.1h0"/><path class="w s0" d="M164.6 65.2h0M129.2 75.7h0M137.9 73.3h0M142.7 76.8h0M137.9 74.7h0M174.1 67.1h0M148.7 65.2h0M132.4 70.6h0"/><path class="R s2" d="M158.8 71.4h0"/><path class="b s2" d="M131.3 70.6h0M172.2 67.3h0M144.3 63.6h0M135.1 78.7h0M136.8 74.8h0M171.9 67.5h0M132.3 73.2h0M128.2 70.2h0M130.6 74.0h0M145.0 66.5h0"/><path class="r s2" d="M159.6 67.9h0M160.0 69.2h0M168.7 69.5h0M147.3 64.2h0M154.2 71.3h0M169.4 69.9h0M145.6 71.3h0"/><path class="B s1" d="M163.5 66.0h0M171.7 74.9h0M142.5 76.1h0M134.9 78.0h0M127.2 71.3h0M136.5 78.7h0M170.2 73.8h0M133.1 78.0h0"/><path class="R s1" d="M151.0 64.5h0M163.6 74.8h0M157.6 72.3h0M172.5 71.9h0M160.9 73.4h0M166.3 72.4h0M149.7 76.2h0M153.3 71.9h0M159.9 76.4h0"/><path class="b s1" d="M145.2 68.3h0M137.5 68.7h0M139.0 69.8h0M148.8 69.2h0M130.9 74.4h0M137.0 76.8h0M170.3 66.2h0M174.8 67.7h0M128.2 79.0h0M128.1 70.3h0"/><path class="g s1" d="M151.3 74.3h0M131.3 78.0h0M131.4 76.1h0M154.6 69.2h0M157.5 70.3h0M151.3 75.7h0M132.8 76.9h0M173.6 68.7h0M161.3 74.9h0M147.5 72.2h0M136.5 73.5h0M154.5 74.9h0M132.4 77.9h0M137.1 78.3h0"/><path class="k s1" d="M135.7 68.4h0M170.5 71.3h0M165.5 70.7h0M174.3 70.5h0M170.2 66.6h0"/><path class="r s1" d="M137.7 72.5h0M156.2 63.7h0M149.5 66.6h0M147.8 65.9h0M140.9 75.4h0M168.5 76.5h0M151.6 62.4h0M158.2 61.1h0M160.4 66.1h0M152.5 71.0h0M137.1 72.6h0M159.6 62.1h0M143.2 64.8h0M149.8 65.6h0M151.2 70.6h0M160.8 65.3h0M158.7 77.0h0M160.3 76.4h0"/><path class="w s1" d="M142.5 71.6h0M155.5 63.6h0M165.0 69.5h0M173.5 67.9h0M142.4 71.7h0M161.2 62.1h0M171.8 69.3h0M142.1 71.6h0M149.1 69.2h0M138.3 73.0h0M161.6 74.4h0M170.1 72.5h0M157.2 72.4h0M143.6 64.6h0M144.0 68.3h0"/><path class="B s0" d="M144.5 73.6h0M144.7 64.9h0"/><path class="R s0" d="M148.7 74.7h0M141.4 66.4h0M116.2 69.0h0M172.8 72.8h0"/><path class="b s0" d="M136.7 71.0h0M130.7 71.3h0M127.7 71.3h0M132.6 74.7h0M154.9 68.5h0M120.4 71.0h0M138.9 73.8h0M142.6 73.5h0M140.2 69.3h0M132.9 79.4h0M143.0 75.4h0M170.5 65.5h0"/><path class="g s0" d="M142.2 76.1h0M148.9 64.2h0M138.4 74.5h0M115.0 67.5h0M172.9 64.1h0"/><path class="k s0" d="M172.9 63.2h0M169.8 64.1h0"/><path class="p s0" d="M168.7 63.9h0M142.1 68.6h0"/><path class="r s0" d="M150.2 66.8h0M150.5 64.6h0M157.2 63.3h0M156.3 60.4h0M169.8 68.6h0M163.0 70.4h0M150.8 66.2h0M151.8 67.3h0M147.2 74.1h0M151.5 62.7h0M174.1 74.2h0M165.6 71.4h0M152.1 62.1h0M160.3 71.9h0"/><path class="w s0" d="M145.4 64.1h0M152.7 72.6h0M132.1 79.8h0"/></g>
<g><path class="z" d="M115.0 104.0L117.0 104.7L118.9 105.5L120.9 106.2L122.9 106.9L124.5 107.3L126.0 107.7L127.2 106.8L128.3 106.2L130.3 105.4L132.2 104.5L134.2 104.8L136.2 105.1L137.7 105.7L139.1 106.4L140.6 103.9L142.1 101.4L143.8 100.4L145.5 99.4L147.2 98.8L148.8 98.2L150.6 97.9L152.4 97.5L155.4 97.3L158.3 97.0L161.8 96.7L165.2 96.3L167.9 97.3L170.7 98.3L172.4 100.4L174.1 102.4L175.1 103.0L175.7 104.4L175.9 106.3L175.7 108.1L175.1 109.5L174.1 110.1L172.4 111.0L170.7 111.9L167.9 112.4L165.2 113.0L161.8 113.1L158.3 113.2L155.4 112.3L152.4 111.3L150.6 111.5L148.8 111.8L147.2 112.7L145.5 113.6L143.8 113.1L142.1 112.7L140.6 113.0L139.1 113.4L137.7 114.4L136.2 115.4L134.2 116.0L132.2 116.6L130.3 115.2L128.3 113.7L127.2 112.3L126.0 110.6L124.5 109.7L122.9 108.7L120.9 107.9L118.9 107.1L117.0 106.2L115.0 105.4Z"/><path class="B s3" d="M171.8 108.1h0M139.9 105.5h0M170.4 106.9h0"/><path class="b s3" d="M133.6 110.7h0M173.9 104.1h0M131.8 112.2h0M153.4 100.3h0M129.8 111.6h0M168.4 100.7h0M134.6 111.2h0M157.7 98.3h0M134.2 112.0h0"/><path class="B s2" d="M166.1 107.6h0M167.2 112.8h0"/><path class="R s2" d="M157.0 109.2h0M152.5 107.1h0M138.6 111.8h0"/><path class="b s2" d="M142.8 102.9h0M158.2 103.9h0M170.8 109.2h0M169.5 105.7h0"/><path class="p s2" d="M132.1 108.0h0"/><path class="r s2" d="M148.2 102.3h0M132.7 114.6h0M155.4 103.2h0M132.6 108.0h0M162.2 109.9h0M149.7 103.0h0M146.4 102.5h0"/><path class="B s1" d="M160.5 112.5h0M172.9 108.9h0M173.8 108.1h0M165.3 101.2h0M172.9 108.2h0"/><path class="R s1" d="M147.9 108.8h0M160.0 109.9h0M128.0 112.1h0M142.0 110.8h0M161.8 110.3h0"/><path class="b s1" d="M144.5 107.7h0M139.3 111.6h0M145.4 103.5h0M138.7 107.7h0M143.7 104.4h0M171.1 111.5h0M148.5 104.7h0M133.1 106.4h0M169.2 100.2h0M175.3 101.3h0M172.9 107.4h0M138.0 109.5h0M132.8 111.1h0M164.7 101.1h0M175.2 106.8h0M148.5 99.9h0M151.0 109.1h0M172.6 103.4h0"/><path class="g s1" d="M143.2 109.7h0M138.9 112.2h0M151.1 107.4h0M152.1 109.5h0M144.9 113.5h0M136.5 110.9h0M163.5 106.9h0M143.3 109.1h0M144.6 105.8h0"/><path class="k s1" d="M162.7 103.9h0M152.9 100.5h0"/><path class="l s1" d="M135.8 109.5h0M171.0 110.0h0"/><path class="r s1" d="M160.0 108.6h0M121.6 107.9h0M149.6 112.0h0M135.8 104.4h0M146.7 107.7h0M157.1 96.7h0M128.7 113.2h0M167.7 102.8h0M150.7 105.0h0M147.7 103.9h0M142.5 108.7h0M142.4 107.3h0M169.3 102.4h0M144.5 106.2h0M143.6 113.7h0"/><path class="w s1" d="M147.6 105.2h0M143.7 101.1h0M147.3 99.5h0M131.1 109.7h0M147.6 105.9h0M151.7 108.3h0M149.8 97.1h0M173.5 100.0h0M146.5 105.9h0M141.1 106.5h0M155.7 106.8h0M149.8 98.3h0M151.6 101.4h0M167.1 100.4h0M149.0 101.1h0M144.5 104.8h0M145.0 106.8h0M138.3 106.5h0M154.2 104.3h0M135.6 113.3h0M132.7 117.1h0M151.0 101.3h0M172.6 99.5h0"/><path class="B s0" d="M139.9 112.3h0M161.4 112.6h0M166.7 112.6h0M175.3 108.1h0"/><path class="R s0" d="M151.3 104.7h0"/><path class="b s0" d="M163.5 98.2h0M133.3 111.9h0M164.4 98.2h0M166.5 108.2h0M134.2 115.6h0M164.1 107.4h0M143.5 108.5h0M130.4 108.6h0M166.1 106.8h0M144.8 108.7h0M174.4 108.7h0M169.0 99.4h0"/><path class="g s0" d="M120.4 106.5h0M134.9 113.2h0M139.0 111.6h0M126.8 107.2h0"/><path class="k s0" d="M162.3 106.9h0M155.5 113.5h0M143.4 101.9h0"/><path class="l s0" d="M140.4 105.5h0"/><path class="p s0" d="M147.7 104.3h0M153.1 98.3h0M166.3 104.3h0"/><path class="r s0" d="M172.6 105.6h0M157.3 106.3h0M127.3 111.4h0M131.1 109.5h0M145.5 98.7h0M151.5 111.9h0M127.4 109.4h0M154.3 98.5h0M135.6 112.2h0M127.2 110.4h0M157.2 106.0h0M115.4 104.6h0M144.4 100.3h0M153.5 107.0h0M162.7 101.4h0M153.6 105.1h0"/><path class="w s0" d="M143.7 109.7h0M149.5 106.7h0M176.2 104.3h0M143.9 107.5h0M164.3 104.1h0M146.9 105.6h0"/><path class="B s3" d="M144.1 104.7h0M145.4 111.7h0"/><path class="b s3" d="M148.8 98.4h0M170.8 107.8h0M148.9 105.9h0M134.3 106.0h0M170.4 99.7h0M139.1 108.2h0"/><path class="B s2" d="M169.6 99.5h0M139.6 113.3h0M131.5 113.8h0"/><path class="R s2" d="M154.6 109.9h0"/><path class="b s2" d="M147.3 111.9h0M169.2 103.5h0M132.5 111.0h0M142.9 103.5h0M164.4 102.3h0M167.4 101.6h0M130.1 109.2h0M129.5 111.4h0"/><path class="r s2" d="M154.6 109.2h0M153.2 108.3h0M143.4 106.9h0M146.6 100.5h0"/><path class="B s1" d="M165.7 110.0h0M129.0 111.6h0M154.2 99.8h0M149.4 107.5h0"/><path class="R s1" d="M155.2 97.0h0M133.2 109.5h0M150.7 105.6h0M136.7 112.7h0"/><path class="b s1" d="M132.5 111.3h0M134.0 109.9h0M161.5 96.7h0M139.6 108.1h0M171.8 106.0h0M163.3 98.7h0M140.4 111.5h0M128.8 109.3h0"/><path class="g s1" d="M173.6 107.6h0M148.7 111.0h0M132.6 110.3h0M141.6 110.9h0M122.8 108.4h0"/><path class="k s1" d="M145.1 106.5h0M138.6 111.6h0M155.1 104.9h0M157.3 105.7h0"/><path class="l s1" d="M157.7 113.7h0"/><path class="r s1" d="M157.1 106.8h0M128.4 112.7h0M146.0 101.4h0M136.1 104.7h0M162.5 104.9h0M133.3 108.9h0M156.5 107.1h0M157.7 111.5h0M167.4 105.3h0M143.1 107.2h0M161.2 99.8h0M137.5 106.2h0M163.6 111.7h0M151.6 107.6h0M156.7 103.0h0"/><path class="w s1" d="M168.9 101.9h0M152.2 100.4h0M133.8 109.0h0M157.7 97.3h0M168.5 98.0h0M149.2 101.6h0M158.4 112.5h0M169.9 103.1h0M149.2 103.1h0M172.0 106.0h0M156.1 105.4h0M151.6 97.3h0M134.7 112.5h0M133.9 113.8h0M148.6 101.2h0M138.0 109.8h0M141.3 108.2h0M140.2 105.0h0M145.5 108.0h0M164.2 105.9h0"/><path class="B s0" d="M133.8 110.0h0M145.0 110.1h0M174.1 109.7h0"/><path class="R s0" d="M155.0 109.9h0M148.8 108.4h0M128.0 113.0h0M132.9 114.3h0"/><path class="b s0" d="M139.2 113.1h0M170.0 99.6h0M140.8 105.8h0M132.2 111.1h0M164.8 102.4h0M148.7 97.9h0M135.5 109.7h0M143.1 100.2h0M133.2 110.4h0M118.4 105.7h0M134.8 107.8h0M154.5 100.9h0"/><path class="g s0" d="M145.9 107.9h0M147.3 113.0h0M141.2 108.9h0"/><path class="k s0" d="M143.7 102.7h0M130.5 108.2h0M159.9 100.6h0M151.8 103.5h0"/><path class="r s0" d="M155.3 102.3h0M165.2 97.8h0M115.7 105.1h0M156.8 98.0h0M177.7 104.4h0M158.4 111.6h0M132.0 109.2h0M155.0 98.2h0M146.2 102.3h0M151.3 103.1h0M153.1 98.8h0M153.0 105.9h0M157.6 111.7h0M157.5 103.5h0M151.2 97.8h0M116.5 104.3h0"/><path class="w s0" d="M143.5 107.4h0M160.7 103.7h0M138.3 109.8h0M141.3 109.5h0M162.6 100.2h0M150.3 101.5h0M155.6 99.8h0"/><path class="R s2" d="M142.6 104.9h0M142.2 110.7h0"/><path class="b s2" d="M129.6 110.1h0M165.4 101.6h0M166.2 101.9h0"/><path class="r s2" d="M151.2 104.6h0M146.1 107.9h0M165.5 112.3h0M141.7 102.5h0M149.1 102.9h0M131.4 116.0h0"/><path class="B s1" d="M145.8 113.0h0M165.6 110.3h0M147.2 111.9h0"/><path class="R s1" d="M164.1 105.5h0M148.0 109.8h0M157.2 105.7h0M168.9 108.3h0M131.6 116.7h0M146.3 107.7h0M154.3 108.7h0"/><path class="b s1" d="M163.0 97.9h0M135.2 105.6h0M164.9 106.9h0M164.3 98.9h0M154.7 104.4h0M156.9 99.4h0M139.0 107.0h0M124.3 107.8h0M170.5 107.1h0M140.5 112.8h0M144.6 103.2h0M134.6 115.0h0"/><path class="g s1" d="M143.8 109.4h0M141.2 110.7h0M129.0 111.2h0M161.6 107.9h0M138.5 107.0h0M128.7 112.7h0M135.9 107.0h0M163.4 109.5h0M148.8 106.7h0M156.2 111.7h0M143.9 101.1h0M132.3 115.8h0M142.9 104.2h0M144.2 108.5h0M140.1 110.9h0"/><path class="k s1" d="M148.1 112.3h0M148.8 102.6h0M142.5 113.2h0"/><path class="r s1" d="M141.4 102.1h0M126.9 110.6h0M138.7 110.6h0M146.7 102.1h0M165.9 103.9h0M161.8 104.3h0M132.4 107.9h0M163.3 103.2h0M150.7 102.5h0M141.0 101.6h0M146.8 108.1h0M156.5 101.4h0M147.0 104.6h0"/><path class="w s1" d="M145.7 105.3h0M128.2 110.3h0M159.0 97.2h0M145.6 107.7h0M172.8 104.9h0M144.7 105.3h0M154.6 104.1h0M171.1 103.7h0M144.7 110.2h0M149.4 99.6h0"/><path class="B s0" d="M163.7 98.9h0M135.3 114.0h0M131.1 113.2h0M139.3 112.7h0"/><path class="R s0" d="M151.6 100.7h0M143.6 113.6h0M151.2 103.9h0M125.9 110.7h0M136.2 106.6h0"/><path class="b s0" d="M132.3 112.1h0M173.3 104.0h0M169.7 107.4h0M120.4 106.1h0M137.0 109.2h0M128.4 107.6h0M164.6 114.2h0M158.7 97.2h0M172.3 110.7h0M145.1 103.1h0M134.8 107.9h0M173.2 108.2h0M169.0 105.2h0M131.8 113.3h0M147.8 105.7h0M129.9 113.2h0M164.9 107.5h0M168.5 106.4h0M139.9 109.2h0"/><path class="g s0" d="M129.2 113.9h0M153.6 104.7h0M158.7 113.1h0M160.3 105.2h0"/><path class="k s0" d="M173.7 110.6h0"/><path class="r s0" d="M138.4 111.3h0M138.5 111.1h0M171.2 102.4h0M143.1 110.2h0M170.9 102.0h0M151.6 98.0h0M172.6 106.1h0M155.4 97.2h0M165.3 105.5h0M150.6 101.3h0M160.8 101.9h0"/><path class="w s0" d="M149.4 99.0h0M134.8 112.4h0M168.2 97.6h0M154.7 112.1h0M125.7 109.0h0M145.8 102.9h0M163.2 106.7h0M126.0 107.2h0M127.8 109.6h0M138.9 112.1h0"/></g>
<g><path class="z" d="M115.0 140.6L117.0 141.2L118.9 141.9L120.9 142.6L122.9 143.2L124.5 143.5L126.0 143.8L127.2 143.1L128.3 142.6L130.3 141.4L132.2 140.2L134.2 140.5L136.2 140.9L137.7 141.0L139.1 141.2L140.6 139.6L142.1 138.1L143.8 136.4L145.5 134.7L147.2 134.4L148.8 134.0L150.6 133.5L152.4 133.0L155.4 131.8L158.3 130.6L161.8 131.1L165.2 131.5L167.9 131.8L170.7 132.2L172.4 134.3L174.1 136.4L175.2 137.1L175.9 138.6L176.1 140.7L175.9 142.7L175.2 144.3L174.1 145.0L172.4 145.7L170.7 146.5L167.9 147.2L165.2 147.8L161.8 148.0L158.3 148.1L155.4 147.1L152.4 146.1L150.6 146.9L148.8 147.6L147.2 147.7L145.5 147.8L143.8 148.0L142.1 148.2L140.6 148.1L139.1 148.1L137.7 149.4L136.2 150.8L134.2 151.5L132.2 152.1L130.3 151.0L128.3 149.9L127.2 148.5L126.0 146.8L124.5 145.9L122.9 145.0L120.9 144.2L118.9 143.5L117.0 142.8L115.0 142.0Z"/><path class="B s3" d="M141.8 143.1h0M170.7 142.4h0"/><path class="B s2" d="M168.5 143.1h0M131.4 150.6h0M151.3 145.9h0"/><path class="R s2" d="M151.5 138.4h0M152.8 135.7h0"/><path class="b s2" d="M126.8 142.8h0M158.8 142.7h0M172.9 135.2h0M172.5 142.6h0M131.2 148.5h0M140.4 144.2h0"/><path class="l s2" d="M141.9 144.2h0"/><path class="p s2" d="M153.2 138.9h0"/><path class="r s2" d="M151.2 136.3h0M144.5 143.4h0M167.6 141.8h0M149.7 136.5h0M145.3 138.6h0M159.4 137.8h0M152.0 137.5h0M145.4 140.0h0M144.8 139.2h0M151.7 142.3h0M154.2 141.9h0"/><path class="B s1" d="M135.7 149.2h0M169.3 146.9h0M131.4 150.4h0M170.7 142.5h0M172.6 138.7h0M169.0 148.0h0"/><path class="R s1" d="M166.1 131.4h0M167.9 140.3h0M154.2 135.2h0M163.9 143.3h0M140.1 146.7h0M147.7 138.1h0M167.4 140.4h0M163.9 147.1h0"/><path class="b s1" d="M123.3 143.7h0M131.7 148.4h0M133.8 145.2h0M171.3 138.7h0M124.7 145.4h0M162.2 133.2h0M141.1 141.4h0M142.2 143.2h0M133.5 147.4h0M133.8 146.4h0"/><path class="g s1" d="M142.0 147.7h0M170.7 141.2h0M127.8 147.0h0M158.5 144.6h0M173.3 141.8h0M163.4 142.1h0M175.7 137.2h0"/><path class="k s1" d="M130.9 142.7h0M161.3 141.6h0M153.6 143.0h0"/><path class="r s1" d="M131.0 143.3h0M168.1 132.6h0M151.1 140.2h0M154.2 138.4h0M160.1 136.4h0M130.2 143.3h0M167.9 136.4h0M169.0 139.3h0M147.1 143.0h0M153.9 142.8h0M157.6 140.1h0M159.0 132.7h0M151.7 138.2h0M152.7 134.2h0M152.6 135.9h0M153.7 136.7h0M156.1 145.6h0M147.4 134.7h0M157.1 140.3h0M159.8 137.0h0M146.7 143.9h0M152.3 139.2h0M169.2 141.7h0"/><path class="w s1" d="M134.7 143.1h0M175.6 141.6h0M143.1 141.5h0M165.7 144.1h0M173.5 134.6h0M127.0 145.6h0M150.9 146.0h0M171.8 139.2h0M165.3 133.3h0M166.9 145.8h0M129.4 149.2h0M170.5 141.2h0M165.1 138.7h0M159.2 146.9h0M137.8 141.7h0M174.2 141.4h0"/><path class="B s0" d="M150.7 146.5h0M146.0 147.0h0M149.0 146.8h0M133.4 149.2h0"/><path class="R s0" d="M168.0 136.7h0M142.0 146.1h0M154.4 145.4h0M168.0 139.9h0M149.2 142.3h0"/><path class="b s0" d="M138.6 144.6h0M138.4 143.5h0M134.5 150.1h0M135.1 144.9h0M114.6 141.3h0M145.9 148.0h0M129.6 148.7h0M174.3 136.3h0M117.6 141.8h0"/><path class="g s0" d="M143.4 147.5h0M149.3 144.2h0M143.4 144.6h0M117.5 143.0h0"/><path class="l s0" d="M118.6 142.4h0"/><path class="r s0" d="M169.4 140.6h0M151.4 133.7h0M168.0 135.9h0M160.0 135.1h0M148.8 142.7h0M148.4 136.8h0M158.3 134.3h0M158.2 137.5h0M149.1 135.0h0M157.4 134.8h0M155.7 147.1h0M149.3 135.2h0M153.2 140.7h0M166.2 139.2h0M150.1 142.2h0M137.7 148.9h0M144.9 138.9h0"/><path class="w s0" d="M134.6 142.8h0M139.0 144.9h0M127.1 143.2h0M135.8 143.9h0M174.9 139.6h0"/><path class="b s3" d="M136.0 150.7h0M172.9 137.9h0M133.5 145.2h0M141.0 141.9h0"/><path class="B s2" d="M133.2 148.8h0"/><path class="R s2" d="M169.3 139.7h0M151.4 143.3h0M165.3 144.0h0M151.2 140.8h0M158.9 135.4h0M158.4 145.0h0M148.6 137.7h0"/><path class="b s2" d="M164.5 134.4h0M132.1 146.4h0M138.5 144.9h0M134.1 146.2h0"/><path class="r s2" d="M147.7 137.2h0M151.4 137.6h0M159.3 132.9h0M146.7 137.7h0"/><path class="B s1" d="M136.7 145.9h0M133.8 151.4h0M133.0 146.5h0"/><path class="R s1" d="M146.4 143.4h0M163.4 145.4h0M154.2 140.2h0M165.8 140.6h0M155.3 144.0h0"/><path class="b s1" d="M163.0 142.1h0M159.0 142.2h0M161.8 142.8h0M172.2 143.5h0M141.8 144.0h0M162.9 134.3h0M161.2 141.4h0M127.0 143.9h0M139.6 142.0h0M135.9 145.5h0M136.1 145.0h0M140.7 143.9h0M135.2 147.3h0M172.7 136.0h0"/><path class="g s1" d="M151.9 146.6h0M168.0 148.2h0M157.6 147.7h0M167.8 143.3h0M137.0 148.6h0M128.3 149.1h0M129.9 145.7h0"/><path class="k s1" d="M143.2 138.3h0M148.7 142.5h0M170.1 140.6h0M164.5 131.8h0M161.3 136.9h0M165.7 137.6h0"/><path class="r s1" d="M161.1 136.2h0M154.1 140.0h0M165.3 142.8h0M129.4 145.7h0M149.5 142.9h0M128.4 146.4h0M139.0 146.7h0M145.4 136.6h0M159.6 134.2h0M156.6 136.4h0M154.3 141.8h0M159.2 137.3h0M160.5 139.3h0M150.4 139.3h0M143.0 138.5h0M146.2 138.3h0M156.5 132.2h0M165.8 140.5h0M152.5 138.5h0M168.5 132.9h0M146.9 141.9h0M128.3 145.4h0M162.2 137.9h0M164.4 143.6h0M150.5 138.3h0M129.4 145.2h0M166.8 131.5h0M148.3 140.5h0"/><path class="w s1" d="M173.1 139.8h0M147.0 147.0h0M159.7 129.8h0M136.0 141.4h0M166.9 138.2h0M171.8 140.4h0M129.7 150.5h0M167.7 133.8h0M143.1 142.7h0M167.2 133.4h0M157.4 141.8h0M164.9 140.0h0M131.1 144.9h0M173.2 141.9h0M151.6 146.6h0M173.9 140.3h0"/><path class="B s0" d="M125.8 143.9h0"/><path class="R s0" d="M145.4 143.9h0M164.2 148.6h0M148.1 134.0h0M158.9 132.2h0"/><path class="b s0" d="M159.7 143.7h0M169.6 144.1h0M161.1 142.2h0M159.9 141.1h0M139.5 142.3h0M133.6 149.2h0M117.0 142.8h0"/><path class="g s0" d="M134.1 143.8h0M151.9 144.9h0"/><path class="k s0" d="M152.9 131.9h0"/><path class="r s0" d="M166.4 141.3h0M163.6 136.8h0M152.7 142.7h0M147.0 141.8h0M120.7 142.2h0M150.7 135.8h0M144.3 138.6h0M145.2 135.8h0M160.4 134.1h0M152.2 135.6h0M147.3 138.9h0M162.1 138.6h0M165.4 142.0h0M161.0 136.6h0M166.1 143.4h0"/><path class="w s0" d="M171.5 139.2h0M165.4 139.9h0M133.9 144.0h0M147.6 146.1h0M162.0 139.4h0M169.2 142.4h0M136.7 148.7h0M127.5 146.5h0"/><path class="B s2" d="M132.0 149.5h0M133.7 149.7h0"/><path class="R s2" d="M153.1 145.4h0"/><path class="b s2" d="M163.5 141.3h0M150.9 146.7h0M163.7 140.3h0M137.1 144.2h0M139.7 139.4h0M171.4 138.1h0M160.0 142.0h0M140.9 143.8h0"/><path class="r s2" d="M152.5 141.0h0M144.8 140.9h0M157.9 136.4h0M166.3 139.8h0M159.6 130.7h0M157.8 140.2h0M156.5 139.4h0M147.9 142.3h0M151.1 143.6h0M159.8 134.4h0M151.7 139.7h0M143.7 140.7h0M155.4 136.1h0M129.6 143.7h0M143.9 140.6h0M159.8 136.8h0M147.5 141.6h0M153.9 135.7h0"/><path class="B s1" d="M132.9 147.4h0M159.4 142.9h0M123.6 145.6h0"/><path class="R s1" d="M165.5 147.0h0M170.6 141.0h0M151.7 142.3h0M142.0 147.2h0M158.3 133.4h0"/><path class="b s1" d="M130.7 140.6h0M141.4 144.2h0M172.7 136.6h0M124.7 145.8h0M125.7 144.3h0M142.6 143.2h0M134.6 147.1h0M127.1 143.7h0M132.0 140.1h0M163.3 132.2h0M134.4 147.6h0M161.7 139.8h0"/><path class="g s1" d="M129.2 147.5h0M176.1 138.4h0M163.3 138.3h0M162.9 143.4h0"/><path class="k s1" d="M133.2 150.1h0M130.5 142.3h0M146.6 141.5h0"/><path class="l s1" d="M170.7 138.0h0"/><path class="p s1" d="M167.5 131.5h0"/><path class="r s1" d="M146.9 137.2h0M163.6 148.9h0M140.6 146.7h0M151.9 137.2h0M149.8 139.8h0M150.1 142.9h0M158.0 134.6h0M145.3 141.7h0M159.6 134.4h0M169.5 140.6h0M151.0 143.5h0M154.2 138.9h0M149.9 137.0h0M144.6 138.7h0M145.3 142.4h0M170.1 140.8h0M128.7 145.0h0M157.9 141.0h0M152.0 139.0h0"/><path class="w s1" d="M145.9 135.1h0M168.2 137.1h0M134.4 142.9h0M145.1 148.2h0M128.7 149.1h0M143.9 143.4h0M163.0 136.5h0M133.2 144.0h0M143.5 144.2h0M174.4 140.6h0"/><path class="B s0" d="M169.3 145.9h0M134.7 149.7h0"/><path class="R s0" d="M152.8 140.1h0M139.2 148.6h0"/><path class="b s0" d="M135.1 147.8h0M136.7 146.1h0M163.5 134.8h0M170.6 132.6h0M124.4 144.4h0M137.7 144.2h0M118.2 143.5h0M172.8 135.1h0M133.0 139.4h0"/><path class="g s0" d="M129.4 147.2h0M162.5 144.4h0M173.9 139.8h0M173.9 141.2h0M131.3 145.1h0M130.4 143.1h0M165.6 138.1h0M136.7 141.2h0M171.1 133.2h0"/><path class="k s0" d="M175.6 143.3h0M162.9 134.5h0M155.3 140.8h0M150.5 146.0h0"/><path class="r s0" d="M156.0 133.1h0M165.9 138.4h0M142.7 139.5h0M153.4 139.3h0M149.1 136.0h0M147.1 138.2h0M169.7 140.3h0M136.8 141.0h0M127.9 144.9h0M168.2 139.1h0M149.0 138.8h0M138.2 147.6h0M154.6 140.9h0M129.2 146.3h0M167.4 134.6h0M152.6 141.8h0M142.6 140.5h0M150.3 134.0h0"/><path class="w s0" d="M169.4 141.6h0M130.8 143.4h0M172.4 143.8h0M171.3 141.3h0M173.5 139.4h0M166.0 135.4h0M136.0 143.0h0M162.8 136.3h0"/></g>
<g><path class="z" d="M115.0 174.7L116.9 175.4L118.9 176.1L120.8 176.8L122.8 177.5L124.3 177.9L125.9 178.2L127.0 177.2L128.1 176.6L130.0 175.7L132.0 174.8L133.9 175.4L135.9 176.0L137.3 176.0L138.8 175.9L140.2 173.9L141.7 171.8L143.4 171.0L145.1 170.1L146.7 170.0L148.3 169.9L150.1 168.5L151.9 167.1L154.8 166.7L157.7 166.2L161.1 167.0L164.5 167.7L167.1 167.9L169.8 168.1L171.5 170.2L173.2 172.4L174.2 173.0L174.8 174.4L175.0 176.2L174.8 178.0L174.2 179.4L173.2 180.0L171.5 181.4L169.8 182.7L167.1 182.6L164.5 182.6L161.1 182.4L157.7 182.2L154.8 182.4L151.9 182.5L150.1 182.1L148.3 181.6L146.7 182.5L145.1 183.4L143.4 183.3L141.7 183.2L140.2 183.3L138.8 183.5L137.3 185.0L135.9 186.4L133.9 186.2L132.0 186.0L130.0 185.1L128.1 184.1L127.0 182.8L125.9 181.1L124.3 180.2L122.8 179.3L120.8 178.5L118.9 177.7L116.9 176.9L115.0 176.1Z"/><path class="B s3" d="M147.1 178.3h0M170.7 173.9h0"/><path class="b s3" d="M129.5 178.5h0M135.2 180.8h0M138.0 183.1h0M171.3 174.8h0M140.5 175.7h0M130.4 177.9h0M148.7 177.9h0M167.6 175.3h0M167.5 178.3h0"/><path class="B s2" d="M138.6 182.0h0M129.2 177.3h0M140.8 173.7h0M127.2 181.6h0"/><path class="R s2" d="M165.9 183.0h0M167.3 180.3h0"/><path class="b s2" d="M145.4 178.6h0M142.0 176.5h0M138.9 178.4h0M136.8 181.7h0M135.0 180.8h0M145.2 176.1h0M173.1 171.1h0M130.7 179.2h0M154.1 182.0h0M137.3 179.2h0"/><path class="r s2" d="M164.1 176.5h0M158.1 169.9h0M151.9 172.0h0"/><path class="B s1" d="M169.5 181.4h0M135.0 178.3h0M142.5 180.4h0M141.4 182.7h0M154.3 181.9h0M174.1 179.3h0M138.2 182.3h0"/><path class="R s1" d="M164.3 183.9h0M162.6 178.8h0M156.1 177.7h0M155.4 179.1h0M139.3 179.1h0"/><path class="b s1" d="M173.0 179.7h0M123.1 179.3h0M142.0 176.9h0M145.8 174.4h0M128.6 177.5h0M132.4 176.9h0M156.6 168.6h0M166.6 177.8h0M140.7 175.0h0M148.2 179.8h0M135.3 178.0h0M139.9 177.0h0M155.7 169.6h0M131.6 177.8h0"/><path class="g s1" d="M153.1 180.0h0M125.6 181.3h0M153.4 180.9h0M135.1 175.7h0"/><path class="k s1" d="M132.7 185.2h0M138.6 184.5h0"/><path class="r s1" d="M163.3 181.6h0M158.4 183.0h0M165.7 174.2h0M152.1 176.5h0M156.0 172.8h0M158.2 177.7h0M165.6 182.6h0M160.1 174.6h0M160.6 168.5h0M145.3 169.7h0"/><path class="w s1" d="M130.2 184.1h0M172.1 177.1h0M157.7 165.6h0M145.5 172.1h0M147.2 183.1h0M144.5 178.6h0M143.8 178.9h0M162.5 176.0h0M165.7 172.6h0M142.1 171.9h0M132.3 180.4h0M137.9 180.4h0M145.0 176.4h0M155.8 175.6h0M152.9 173.3h0M142.3 183.0h0M138.7 175.8h0M155.3 165.8h0M169.5 170.7h0M152.9 172.5h0M149.8 174.5h0M155.4 174.3h0"/><path class="B s0" d="M127.0 181.4h0M135.3 186.7h0"/><path class="R s0" d="M145.7 180.0h0M162.8 178.2h0"/><path class="b s0" d="M134.3 179.5h0M160.6 170.0h0M141.5 173.5h0M137.9 183.0h0M165.9 169.8h0M169.9 168.5h0M171.6 173.3h0M130.8 178.1h0M143.3 179.2h0M141.5 180.0h0M156.9 168.8h0M167.1 171.0h0M148.4 171.8h0M119.0 178.0h0M142.5 175.6h0M135.6 181.1h0M148.8 173.4h0M118.1 177.4h0M128.2 183.7h0M155.4 174.3h0M172.1 174.9h0"/><path class="g s0" d="M152.1 181.2h0M168.5 178.1h0M159.8 177.8h0"/><path class="k s0" d="M150.3 173.3h0"/><path class="l s0" d="M131.7 176.6h0"/><path class="r s0" d="M169.5 171.9h0M126.9 178.5h0M159.2 177.5h0M158.7 176.4h0M165.7 182.4h0M166.9 173.4h0M158.8 178.3h0M163.5 172.6h0"/><path class="w s0" d="M149.3 175.7h0M148.0 176.3h0M145.1 182.7h0M172.0 175.3h0M149.3 175.8h0"/><path class="B s3" d="M136.4 182.6h0M171.9 179.3h0M173.7 175.4h0M174.9 175.8h0M149.3 179.4h0"/><path class="b s3" d="M140.7 183.0h0M172.7 173.4h0M130.5 180.4h0M128.0 176.4h0M149.4 168.6h0"/><path class="l s3" d="M170.9 173.9h0M173.3 175.7h0"/><path class="B s2" d="M135.4 186.0h0M142.9 180.6h0M140.8 182.1h0M171.3 178.8h0"/><path class="R s2" d="M153.7 179.8h0M150.6 180.8h0M163.8 179.2h0M144.1 183.9h0"/><path class="b s2" d="M127.1 181.4h0M132.7 182.0h0M167.4 175.0h0M147.3 177.8h0"/><path class="r s2" d="M152.9 166.7h0M145.6 171.6h0M151.9 175.0h0M157.2 177.4h0M157.4 179.3h0"/><path class="B s1" d="M126.3 182.3h0M141.7 182.3h0M127.6 181.8h0M138.5 184.9h0M133.5 184.8h0M138.5 183.0h0M134.8 178.5h0"/><path class="R s1" d="M140.0 179.2h0M144.7 183.5h0M158.4 184.2h0M159.2 177.5h0"/><path class="b s1" d="M169.0 173.4h0M173.4 171.6h0M142.2 173.5h0M144.9 173.9h0M145.1 177.1h0M145.0 173.8h0M169.9 174.5h0M167.0 170.6h0M142.4 175.3h0M174.5 175.5h0M156.5 169.9h0M123.2 178.1h0M150.8 169.3h0M174.3 173.4h0M141.4 172.8h0M145.7 173.5h0M155.4 174.7h0M128.9 176.5h0M146.2 174.6h0M166.8 171.1h0"/><path class="g s1" d="M147.6 175.1h0M147.8 175.2h0M164.6 178.5h0M169.4 170.7h0"/><path class="k s1" d="M134.5 183.0h0M172.1 178.7h0M172.2 173.2h0M164.7 174.2h0"/><path class="r s1" d="M158.8 176.1h0M160.2 175.2h0M159.7 174.4h0M145.9 172.0h0M161.7 174.0h0M162.2 180.2h0M170.1 177.8h0M165.4 176.5h0M146.9 171.7h0M165.9 176.1h0M153.8 175.0h0M138.8 179.8h0M151.7 179.6h0"/><path class="w s1" d="M167.4 174.6h0M152.1 170.7h0M159.8 178.4h0M144.6 172.1h0M162.9 173.9h0M172.6 175.6h0M170.7 178.6h0M146.8 176.3h0M148.4 175.8h0M153.0 169.8h0M172.0 181.8h0M146.9 171.8h0M150.1 173.2h0"/><path class="B s0" d="M154.6 183.0h0M135.9 186.8h0M173.3 177.6h0M138.1 181.2h0M137.2 186.2h0M141.7 180.8h0M139.0 176.5h0"/><path class="R s0" d="M151.8 179.2h0M163.5 175.9h0M166.5 168.3h0M164.5 180.4h0"/><path class="b s0" d="M175.0 175.7h0M170.9 173.0h0M136.8 181.2h0M161.5 170.8h0M114.9 174.4h0M118.4 177.5h0M137.5 178.3h0M137.7 181.0h0M170.5 174.6h0M142.0 173.4h0M173.4 177.5h0M142.1 178.3h0M132.8 180.3h0M149.3 179.1h0M158.1 173.1h0M131.2 181.8h0M134.6 176.7h0"/><path class="g s0" d="M171.7 177.3h0M160.6 172.4h0M120.0 176.3h0M148.9 175.1h0"/><path class="k s0" d="M150.7 182.4h0"/><path class="l s0" d="M145.2 173.5h0M167.0 171.3h0M120.1 178.3h0M173.1 170.4h0"/><path class="r s0" d="M158.2 168.9h0M156.6 172.6h0M164.1 176.8h0M151.7 175.2h0M146.3 170.6h0M153.0 167.1h0"/><path class="w s0" d="M146.7 175.9h0M167.3 179.7h0M150.6 175.5h0M163.5 170.7h0M138.8 178.4h0M162.5 177.0h0M148.0 175.5h0M151.3 178.3h0M159.6 172.2h0M150.2 174.9h0"/><path class="B s2" d="M134.6 180.0h0M132.7 182.5h0"/><path class="R s2" d="M143.6 183.2h0"/><path class="b s2" d="M136.2 179.9h0M156.7 168.5h0M130.2 180.2h0M133.4 179.4h0M143.0 175.1h0M173.2 170.5h0M150.2 170.3h0M168.1 170.9h0M133.9 176.4h0M171.5 178.4h0"/><path class="l s2" d="M132.7 177.2h0"/><path class="r s2" d="M166.8 180.0h0M151.4 174.6h0M172.0 176.4h0M171.3 177.9h0M159.7 180.5h0M171.3 176.0h0"/><path class="B s1" d="M127.6 181.3h0M127.6 183.6h0M138.4 184.9h0M138.8 181.8h0M147.0 180.7h0M137.3 183.6h0M132.6 184.1h0M131.4 184.4h0"/><path class="R s1" d="M158.6 170.2h0M152.6 176.0h0M158.6 170.7h0M159.8 181.3h0M164.2 183.3h0M151.7 179.3h0M164.4 181.6h0"/><path class="b s1" d="M161.2 169.4h0M149.3 176.0h0M136.9 177.9h0M147.0 173.0h0M142.9 174.3h0M146.8 173.8h0M174.7 174.8h0M149.8 168.9h0M137.7 179.0h0M139.7 182.5h0M130.2 177.8h0M147.0 176.4h0M134.8 177.8h0M133.1 181.8h0M154.3 171.4h0M172.6 177.7h0M142.5 173.1h0M141.9 179.1h0M131.5 175.9h0M125.0 181.7h0"/><path class="g s1" d="M150.6 176.6h0M142.7 183.2h0M150.3 179.1h0M143.4 183.0h0M159.9 172.0h0M144.1 180.6h0"/><path class="k s1" d="M145.5 178.0h0M134.5 177.8h0"/><path class="r s1" d="M153.0 176.1h0M170.8 169.6h0M163.2 180.4h0M158.9 183.1h0M159.3 170.7h0M159.2 178.5h0M140.3 179.5h0M163.7 175.3h0M156.0 178.1h0M163.0 176.6h0"/><path class="w s1" d="M166.6 172.0h0M163.3 170.0h0M153.1 166.4h0M144.6 175.5h0M132.0 182.6h0M154.5 181.4h0M153.0 172.1h0M146.9 172.4h0M167.2 174.8h0M166.5 176.5h0M132.8 179.8h0M153.0 174.1h0M144.2 175.9h0"/><path class="B s0" d="M126.0 182.1h0M136.9 182.1h0M155.1 181.9h0M153.3 170.3h0M141.6 179.9h0"/><path class="R s0" d="M144.8 181.3h0M158.2 181.0h0"/><path class="b s0" d="M133.6 178.2h0M119.2 177.2h0M134.3 182.6h0M171.5 171.0h0M148.0 170.0h0M162.7 168.6h0M143.9 173.7h0M129.6 176.7h0M167.3 176.8h0M169.9 173.5h0M134.8 181.1h0M134.4 177.7h0M160.7 177.3h0M136.0 178.0h0M134.9 182.7h0M134.3 184.9h0M149.2 178.0h0M170.6 172.3h0M143.9 178.4h0"/><path class="g s0" d="M140.5 180.0h0M171.1 182.2h0M120.1 176.6h0M149.2 180.3h0M149.6 179.6h0M168.6 177.9h0"/><path class="k s0" d="M169.3 177.0h0"/><path class="p s0" d="M163.9 172.0h0"/><path class="r s0" d="M158.6 181.0h0M167.5 174.0h0M150.7 175.2h0M169.3 178.4h0M132.6 175.6h0M131.1 182.6h0M157.8 175.4h0M145.8 170.5h0M151.1 172.5h0"/><path class="w s0" d="M155.9 173.4h0M164.0 167.4h0M143.4 181.8h0M174.0 179.9h0M144.3 170.8h0M169.0 180.8h0M147.0 171.7h0"/></g>
<g><path class="z" d="M115.0 209.8L117.5 210.1L119.9 210.4L122.4 210.7L124.8 211.0L127.3 211.1L129.8 210.8L131.7 210.6L133.7 210.4L135.7 210.6L137.7 210.8L139.4 210.6L141.1 210.5L142.8 209.2L144.6 208.0L147.0 207.0L149.5 206.1L152.7 204.2L155.9 202.4L159.6 202.7L163.3 203.0L166.7 204.0L170.2 204.9L172.1 206.3L174.1 207.8L175.1 208.4L175.8 209.9L176.0 211.8L175.8 213.8L175.1 215.3L174.1 215.9L172.1 216.9L170.2 217.9L166.7 218.2L163.3 218.4L159.6 218.4L155.9 218.3L152.7 218.2L149.5 218.1L147.0 218.5L144.6 218.9L142.8 218.7L141.1 218.4L139.4 219.1L137.7 219.7L135.7 219.3L133.7 218.8L131.7 217.5L129.8 216.2L127.3 214.7L124.8 213.8L122.4 213.2L119.9 212.6L117.5 211.9L115.0 211.2Z"/><path class="B s3" d="M154.4 217.2h0M148.8 211.4h0M146.6 215.5h0M135.2 216.7h0M146.1 215.1h0M174.7 214.6h0M146.1 214.2h0M144.5 215.7h0M168.9 217.0h0M141.6 216.5h0M135.6 217.4h0M152.3 215.8h0M147.5 217.2h0M172.1 212.0h0M170.1 216.1h0"/><path class="b s3" d="M149.3 211.5h0M138.1 212.8h0M139.3 213.7h0M142.4 213.7h0M154.5 205.2h0M133.7 217.2h0M146.3 212.6h0M156.5 210.0h0M145.6 211.4h0M144.4 210.2h0M141.3 211.6h0M142.1 211.4h0M147.2 207.8h0M143.3 212.9h0M136.2 216.0h0M170.8 208.5h0M142.7 210.5h0M161.2 213.1h0M147.3 209.9h0M156.4 203.2h0M152.4 212.4h0M163.7 217.3h0M154.0 210.2h0M132.8 216.7h0M137.2 216.2h0M147.0 217.3h0M141.5 217.6h0M144.3 213.0h0M146.6 212.4h0M153.1 210.9h0M171.2 213.3h0M147.6 213.0h0M137.1 211.3h0"/><path class="B s2" d="M165.9 216.7h0M142.2 211.9h0"/><path class="R s2" d="M137.7 218.7h0M163.3 203.5h0"/><path class="b s2" d="M131.1 214.0h0M162.5 207.1h0M153.4 213.8h0M137.7 214.2h0M139.8 212.1h0M154.0 216.4h0M135.4 213.1h0M142.7 215.2h0M156.9 213.2h0M155.2 211.9h0M128.9 214.1h0"/><path class="r s2" d="M161.4 215.0h0M138.4 217.1h0M164.3 203.4h0"/><path class="B s1" d="M169.7 214.6h0M159.6 217.2h0M143.9 217.3h0M149.4 217.1h0M125.7 213.2h0M132.4 217.1h0M142.3 217.5h0M152.0 207.4h0M124.9 212.6h0"/><path class="R s1" d="M137.9 217.1h0"/><path class="b s1" d="M139.1 214.5h0M125.6 212.8h0M154.1 207.9h0M144.4 209.0h0M142.2 215.3h0M162.5 212.3h0M133.3 214.4h0M139.9 213.9h0M172.6 212.9h0"/><path class="g s1" d="M167.6 218.1h0M175.1 207.8h0M160.2 211.0h0M137.2 217.1h0M128.1 211.0h0M166.2 212.1h0M172.1 216.2h0"/><path class="k s1" d="M152.0 212.6h0M142.2 209.8h0M157.9 213.9h0"/><path class="l s1" d="M134.8 212.6h0"/><path class="r s1" d="M157.8 207.0h0M173.6 212.8h0M173.6 212.4h0M159.6 201.6h0M170.0 206.4h0M159.0 208.8h0M169.4 210.7h0M163.2 208.5h0"/><path class="w s1" d="M166.1 212.4h0M163.6 206.7h0M153.2 202.9h0M132.1 213.3h0M131.7 213.6h0M138.1 217.0h0M131.7 211.9h0M157.7 209.4h0M157.4 209.4h0M132.1 212.8h0M166.9 212.4h0M167.2 205.2h0M151.4 208.0h0M131.9 213.6h0"/><path class="B s0" d="M174.6 216.0h0M145.7 210.9h0M133.8 216.7h0M163.3 217.0h0M136.5 216.7h0M146.3 216.2h0"/><path class="R s0" d="M136.9 218.3h0"/><path class="b s0" d="M153.2 215.3h0M137.6 215.5h0M147.5 210.6h0M170.4 209.1h0M162.7 212.8h0M154.8 209.4h0M172.7 212.7h0M171.5 208.0h0M151.7 216.9h0M149.0 217.2h0"/><path class="g s0" d="M167.8 206.0h0M161.4 208.6h0M170.0 212.0h0M143.2 218.4h0M150.3 209.2h0M167.2 217.3h0"/><path class="p s0" d="M159.3 206.5h0"/><path class="r s0" d="M159.7 205.2h0M163.7 206.8h0M159.7 207.0h0M174.8 212.5h0M161.2 215.6h0"/><path class="w s0" d="M163.4 204.6h0M137.3 215.5h0M132.8 211.2h0M168.4 209.2h0M161.8 210.3h0M158.8 202.7h0M172.9 209.0h0M143.0 218.4h0M164.7 210.3h0M161.4 203.4h0"/><path class="B s3" d="M146.3 216.9h0M148.3 212.2h0M152.6 212.6h0M138.3 219.8h0M145.5 218.1h0M134.5 217.2h0M164.3 215.4h0M137.9 213.3h0M135.0 216.4h0M170.9 213.1h0M149.7 215.6h0M144.7 215.4h0M153.1 215.1h0M141.9 213.0h0M154.4 217.3h0M157.6 216.8h0"/><path class="b s3" d="M149.4 206.0h0M150.4 213.2h0M141.0 216.4h0M148.5 213.1h0M148.6 210.1h0M154.0 207.1h0M147.1 209.4h0M150.5 211.2h0M145.2 208.8h0M143.9 213.3h0M146.1 212.3h0M156.9 209.4h0M141.5 212.9h0M155.6 209.0h0M151.5 213.6h0M154.2 213.4h0M150.8 210.5h0M141.8 216.9h0M148.6 215.3h0M166.2 208.3h0M142.6 214.8h0M149.6 214.0h0M148.5 214.6h0M147.0 208.3h0M164.8 213.6h0M152.4 206.9h0M152.6 207.8h0M155.2 214.0h0M138.4 214.5h0M148.4 212.9h0M148.6 212.4h0M154.5 213.9h0M141.3 216.8h0M147.9 213.8h0M146.4 210.7h0"/><path class="B s2" d="M171.2 214.4h0M139.3 217.2h0"/><path class="R s2" d="M167.9 215.0h0"/><path class="b s2" d="M165.1 213.7h0M156.2 203.7h0"/><path class="r s2" d="M170.0 207.2h0M159.2 203.6h0M133.8 212.0h0M129.5 211.1h0M175.3 211.8h0"/><path class="B s1" d="M158.6 217.3h0M129.3 214.4h0M146.1 214.9h0M157.7 211.3h0M165.2 215.8h0M140.6 218.0h0M130.8 216.3h0"/><path class="b s1" d="M151.4 210.5h0M128.6 213.9h0M130.9 212.7h0M171.3 211.4h0M140.0 216.2h0M144.4 214.7h0M123.7 211.5h0M157.4 210.9h0M124.0 212.5h0M175.5 207.3h0M171.5 216.0h0M143.8 213.3h0M138.5 214.0h0M151.0 218.4h0M146.6 209.5h0M151.6 212.9h0M154.2 211.5h0M137.0 213.1h0M152.0 210.9h0M150.8 211.4h0M156.6 215.3h0M136.7 213.0h0M118.9 211.1h0"/><path class="g s1" d="M153.5 216.6h0M160.9 210.8h0M162.4 203.0h0M161.2 208.3h0M163.2 218.7h0M163.4 215.1h0M158.0 214.1h0"/><path class="k s1" d="M140.6 214.8h0M158.1 217.4h0M143.7 216.2h0M156.2 209.4h0M171.5 212.6h0M157.6 218.6h0M155.2 214.8h0"/><path class="l s1" d="M120.8 212.5h0"/><path class="r s1" d="M165.9 204.4h0M159.6 207.8h0M158.3 204.8h0M160.9 218.3h0M167.7 210.6h0M160.1 208.5h0M164.3 203.6h0"/><path class="w s1" d="M169.4 210.5h0M166.7 209.6h0M173.6 208.6h0M132.5 214.2h0M168.1 211.1h0M163.7 212.9h0M129.4 212.7h0M140.6 210.3h0M162.0 205.0h0M151.6 210.3h0M156.2 212.3h0M128.2 210.9h0M165.0 208.2h0M172.2 209.4h0M135.1 211.2h0M152.2 210.2h0M165.2 209.4h0"/><path class="B s0" d="M143.7 216.6h0M139.4 216.5h0M172.1 215.3h0"/><path class="R s0" d="M129.4 216.2h0"/><path class="b s0" d="M130.7 213.8h0M141.2 218.1h0M165.4 213.6h0M156.1 208.4h0M159.0 218.7h0M153.4 218.2h0M166.5 209.1h0M150.7 212.0h0M153.5 208.4h0M147.1 207.9h0M155.2 212.5h0M158.2 213.3h0"/><path class="g s0" d="M169.6 213.6h0M153.3 216.5h0M118.7 210.6h0M167.2 215.9h0"/><path class="r s0" d="M163.5 208.1h0M168.7 207.2h0"/><path class="w s0" d="M165.4 212.6h0M160.2 208.9h0M131.4 213.0h0M157.5 211.7h0M138.8 211.3h0M170.6 205.5h0M173.5 206.5h0M151.7 206.7h0M162.2 211.6h0"/><path class="B s2" d="M160.8 214.1h0"/><path class="R s2" d="M160.7 216.0h0"/><path class="b s2" d="M152.6 206.5h0M137.3 216.1h0"/><path class="r s2" d="M136.1 214.1h0M169.5 213.6h0"/><path class="B s1" d="M146.7 217.7h0M143.9 217.7h0M135.6 219.9h0M128.8 215.0h0"/><path class="R s1" d="M175.6 210.4h0"/><path class="b s1" d="M154.5 213.4h0M129.5 213.8h0M123.5 211.9h0M131.8 210.2h0M150.8 215.6h0M172.1 208.2h0M118.9 211.9h0M139.2 216.7h0M136.4 212.4h0M149.6 209.3h0M125.8 214.2h0M154.6 216.4h0M152.8 213.6h0M122.3 211.3h0M140.4 212.3h0M150.5 213.6h0M138.7 215.2h0M146.0 214.3h0M140.1 211.7h0"/><path class="g s1" d="M167.0 217.0h0M163.2 215.4h0M136.7 220.1h0"/><path class="k s1" d="M147.0 209.3h0M149.5 217.3h0M136.1 217.5h0"/><path class="l s1" d="M172.0 208.4h0"/><path class="r s1" d="M167.5 211.8h0M165.6 202.0h0M164.3 211.6h0M164.9 204.5h0M128.6 211.7h0M165.2 205.1h0M161.8 211.6h0"/><path class="w s1" d="M164.3 205.6h0M163.7 212.4h0M144.9 214.1h0M162.6 214.3h0M170.9 205.9h0M133.0 213.5h0M156.5 205.9h0M156.2 205.9h0M155.5 205.5h0M167.3 208.0h0M152.3 208.5h0M161.2 206.3h0M170.1 212.1h0M173.8 207.8h0"/><path class="B s0" d="M153.7 216.2h0M152.7 214.2h0M137.1 211.3h0M174.3 215.0h0M152.1 211.6h0"/><path class="R s0" d="M158.7 215.8h0"/><path class="b s0" d="M138.5 215.0h0M125.9 211.7h0M175.4 206.4h0M139.1 215.5h0M138.6 215.0h0M117.4 211.2h0M129.0 214.3h0M153.2 211.2h0M153.3 205.6h0M151.1 212.1h0M142.3 211.2h0M154.0 217.4h0"/><path class="g s0" d="M165.0 208.9h0M167.4 217.0h0M155.5 212.6h0M152.0 205.3h0M166.7 209.8h0"/><path class="k s0" d="M171.8 216.8h0"/><path class="l s0" d="M155.9 208.3h0"/><path class="r s0" d="M163.4 208.5h0M162.0 204.0h0M167.8 215.8h0M174.8 212.2h0M164.5 201.2h0M135.9 215.0h0M121.4 210.6h0M129.9 211.7h0M163.0 211.3h0"/><path class="w s0" d="M139.2 217.7h0M171.1 209.3h0M172.3 208.6h0M163.6 209.8h0M152.5 204.0h0M173.2 212.6h0M159.6 216.3h0M170.2 205.1h0M171.5 209.6h0M153.6 203.4h0"/></g>
<g><path class="z" d="M115.0 246.2L117.5 246.5L119.9 246.8L122.4 247.0L124.8 247.2L127.3 247.3L129.8 246.8L131.7 246.7L133.7 246.7L135.7 247.0L137.7 247.2L139.4 247.0L141.1 246.8L142.8 245.3L144.6 243.8L147.0 242.2L149.5 240.6L152.7 239.8L155.9 239.0L159.6 239.2L163.3 239.4L166.7 239.5L170.2 239.5L172.1 241.3L174.1 243.1L175.1 243.8L175.8 245.3L176.0 247.3L175.8 249.3L175.1 250.8L174.1 251.4L172.1 252.6L170.2 253.8L166.7 253.7L163.3 253.6L159.6 253.5L155.9 253.4L152.7 253.8L149.5 254.3L147.0 254.5L144.6 254.7L142.8 254.5L141.1 254.2L139.4 255.1L137.7 256.0L135.7 255.6L133.7 255.2L131.7 253.7L129.8 252.2L127.3 250.8L124.8 250.0L122.4 249.5L119.9 248.9L117.5 248.3L115.0 247.6Z"/><path class="B s3" d="M146.4 250.7h0M167.7 250.2h0M144.9 247.6h0M145.1 248.5h0M153.5 252.7h0"/><path class="b s3" d="M138.1 251.9h0M134.7 246.9h0M135.5 250.6h0M138.2 254.7h0M173.4 243.7h0M143.9 249.3h0M167.6 248.6h0M166.8 244.7h0M143.1 244.8h0M165.3 244.5h0M165.0 247.8h0M163.0 250.4h0"/><path class="B s2" d="M158.4 249.9h0M150.1 248.8h0M164.0 250.5h0"/><path class="R s2" d="M160.6 252.8h0M169.1 251.8h0"/><path class="b s2" d="M134.9 253.2h0M143.0 243.8h0M143.5 244.9h0M136.5 248.1h0M164.9 246.9h0M145.5 253.0h0"/><path class="r s2" d="M154.0 243.1h0M132.8 247.8h0M159.7 251.1h0M153.6 244.0h0M131.9 247.3h0"/><path class="B s1" d="M166.2 252.1h0M152.7 252.5h0M143.4 253.1h0M172.4 249.9h0"/><path class="R s1" d="M161.9 242.1h0M160.5 240.3h0M157.7 241.1h0"/><path class="b s1" d="M147.3 250.7h0M142.2 251.6h0M147.7 250.5h0M143.2 250.9h0M131.2 248.3h0M126.5 247.9h0M130.7 249.1h0M142.4 248.4h0M173.9 244.3h0M142.2 247.8h0M169.2 243.4h0M152.5 243.3h0M130.0 250.5h0M146.8 250.7h0M126.9 249.6h0M133.8 252.5h0M136.4 247.4h0M173.4 244.9h0M169.6 253.9h0"/><path class="g s1" d="M121.8 249.5h0M159.8 248.0h0M121.3 247.9h0M149.4 242.1h0M120.9 247.4h0M147.4 253.5h0M150.5 241.7h0"/><path class="k s1" d="M157.5 252.3h0M134.2 247.4h0M166.1 244.8h0M132.5 254.4h0M162.2 249.4h0"/><path class="l s1" d="M175.1 250.8h0M173.8 243.9h0"/><path class="r s1" d="M162.7 246.2h0M158.0 240.0h0M158.2 247.9h0M132.3 250.1h0M159.5 242.3h0M159.6 242.3h0M154.5 242.2h0M132.4 250.1h0M120.1 248.1h0M160.3 244.6h0"/><path class="w s1" d="M170.7 247.2h0M149.6 242.2h0M141.1 250.7h0M160.0 238.9h0M140.9 248.0h0M144.9 245.3h0M167.7 244.4h0M149.4 244.9h0M140.9 248.9h0M141.3 247.5h0M145.3 245.5h0M172.1 252.8h0M170.6 245.5h0M154.9 239.6h0M166.6 241.4h0M169.1 240.0h0"/><path class="B s0" d="M166.3 247.1h0M146.2 253.3h0M162.7 250.7h0M175.3 250.0h0M120.1 249.3h0"/><path class="R s0" d="M162.0 247.9h0M153.8 243.2h0M159.0 254.2h0"/><path class="b s0" d="M127.3 249.3h0M139.1 250.5h0M126.1 247.2h0M174.2 247.0h0M171.9 241.7h0M134.4 246.7h0M165.0 246.1h0M141.6 253.1h0M166.2 242.6h0M149.7 240.3h0M172.2 245.8h0M143.8 245.1h0M167.2 248.6h0M164.1 248.6h0M170.1 240.8h0M147.0 250.8h0M143.7 249.0h0"/><path class="g s0" d="M147.9 251.0h0M165.9 248.4h0M140.9 248.3h0M147.8 251.4h0"/><path class="k s0" d="M159.8 249.6h0M146.7 248.9h0M172.1 248.7h0M139.0 254.8h0"/><path class="p s0" d="M168.2 238.7h0"/><path class="r s0" d="M154.8 245.0h0M161.7 247.5h0M154.6 241.7h0M152.4 249.4h0M158.0 242.7h0M156.3 241.1h0M171.0 247.1h0M168.7 238.9h0M156.5 242.1h0M167.6 239.4h0"/><path class="w s0" d="M166.2 247.8h0M140.7 250.6h0M130.8 249.8h0M150.8 250.3h0M162.9 240.7h0M165.8 248.5h0"/><path class="B s3" d="M171.3 250.9h0M145.5 252.6h0M137.1 254.4h0M156.3 254.4h0M171.8 251.5h0M154.3 254.6h0"/><path class="b s3" d="M144.1 247.4h0M164.1 247.2h0M137.6 256.6h0M137.2 253.8h0M135.4 250.7h0M142.9 249.5h0M163.6 248.9h0M145.0 251.2h0M136.7 254.8h0M141.1 252.8h0M141.6 250.7h0M138.2 248.5h0M167.0 248.5h0M133.7 252.8h0M134.2 252.0h0"/><path class="l s3" d="M137.9 250.0h0M136.7 250.1h0"/><path class="B s2" d="M144.3 253.4h0M130.2 252.4h0M133.0 255.0h0M149.7 242.1h0M137.4 253.5h0M150.3 247.9h0M174.9 250.3h0M173.9 242.6h0"/><path class="R s2" d="M162.0 250.0h0"/><path class="b s2" d="M153.4 254.1h0M145.5 250.4h0M152.5 245.3h0M170.8 240.2h0"/><path class="r s2" d="M132.0 249.0h0M152.6 248.3h0M153.5 246.4h0M158.3 247.6h0M153.5 248.2h0M150.6 250.9h0M154.5 245.3h0"/><path class="B s1" d="M128.2 250.6h0M161.9 251.1h0M167.5 254.0h0M173.1 241.9h0M167.3 250.6h0"/><path class="R s1" d="M160.8 243.2h0"/><path class="b s1" d="M134.7 250.7h0M172.9 242.9h0M135.9 248.9h0M147.5 249.3h0M144.7 246.6h0M127.9 248.3h0M136.3 249.3h0M153.9 251.2h0M134.9 248.1h0M142.8 246.1h0M136.4 248.7h0M142.0 253.1h0M167.8 249.3h0M126.2 248.7h0M164.9 252.8h0M135.4 248.1h0M165.8 248.0h0M152.6 251.7h0M126.3 249.1h0M121.6 248.5h0M143.4 249.2h0M174.2 248.4h0"/><path class="g s1" d="M174.8 243.1h0M164.6 252.1h0M173.1 252.8h0M153.1 242.0h0M155.3 251.4h0"/><path class="k s1" d="M144.1 250.7h0M151.7 246.4h0M163.7 247.9h0M153.7 244.8h0"/><path class="l s1" d="M126.4 250.5h0"/><path class="r s1" d="M152.4 241.0h0M158.3 243.6h0M168.5 252.5h0M162.7 247.4h0M160.7 239.0h0M157.8 246.6h0M170.2 247.7h0M154.6 247.6h0"/><path class="w s1" d="M149.5 248.1h0M159.7 247.9h0M174.9 243.1h0M165.4 248.0h0M155.7 251.1h0M149.2 245.7h0M145.8 245.9h0M149.5 242.7h0M139.6 251.3h0M160.2 247.5h0M149.4 240.8h0M163.7 245.6h0M166.0 242.2h0M161.8 242.8h0M162.2 241.8h0M140.8 250.3h0M159.6 239.1h0M171.1 248.9h0M165.7 240.1h0M133.8 247.2h0M147.9 248.5h0M147.3 244.4h0M152.1 247.2h0"/><path class="B s0" d="M151.8 255.1h0M151.6 254.8h0M133.6 254.5h0M174.8 251.1h0M143.9 254.2h0M145.2 247.7h0"/><path class="R s0" d="M161.9 246.6h0M147.9 253.8h0M169.3 250.1h0M159.6 245.5h0"/><path class="b s0" d="M174.4 252.0h0M173.0 242.3h0M171.3 248.7h0M172.8 244.9h0M170.1 244.1h0M142.1 248.4h0M139.0 250.2h0M142.4 245.6h0M145.2 251.5h0M173.7 246.8h0M128.8 250.4h0M173.3 243.2h0M170.7 252.8h0M172.7 249.2h0"/><path class="g s0" d="M151.3 252.4h0M123.1 248.1h0M147.3 254.2h0M160.8 247.8h0"/><path class="k s0" d="M156.1 252.6h0"/><path class="l s0" d="M115.7 248.0h0"/><path class="p s0" d="M155.8 246.4h0"/><path class="r s0" d="M156.1 244.0h0M147.9 243.1h0M162.9 245.0h0M152.1 250.9h0M159.0 252.6h0M155.5 239.9h0M153.5 244.9h0"/><path class="w s0" d="M160.6 247.9h0M149.5 244.1h0M167.7 239.6h0"/><path class="B s2" d="M144.8 253.0h0M129.2 252.2h0"/><path class="b s2" d="M169.6 246.1h0M147.5 248.5h0M146.4 248.9h0M139.9 249.7h0M148.0 244.8h0M144.0 250.8h0M174.5 245.1h0"/><path class="r s2" d="M160.9 248.6h0M161.5 250.8h0M165.1 242.4h0M158.6 239.5h0M159.6 244.2h0M156.6 242.6h0M158.4 246.6h0"/><path class="B s1" d="M143.8 253.8h0M145.1 252.0h0M142.2 254.0h0M145.5 251.6h0M129.3 250.8h0M142.8 249.4h0M128.4 250.4h0M144.0 252.6h0"/><path class="R s1" d="M156.7 243.4h0M171.3 254.1h0M131.6 252.4h0"/><path class="b s1" d="M144.7 247.8h0M133.9 250.7h0M169.9 240.6h0M165.7 248.5h0M165.0 251.6h0M168.7 246.5h0M144.1 244.0h0M169.4 244.1h0M169.3 246.3h0M135.4 252.2h0M138.1 246.8h0M134.5 250.3h0M168.7 254.2h0M143.9 252.1h0M143.7 250.3h0M172.9 245.5h0"/><path class="g s1" d="M132.0 252.8h0M152.3 251.1h0M159.6 248.3h0M154.9 248.6h0M123.1 248.4h0M161.8 252.0h0M168.2 252.3h0M160.1 246.5h0"/><path class="k s1" d="M152.3 241.0h0M138.7 250.0h0M155.2 245.0h0M155.4 251.5h0"/><path class="l s1" d="M174.4 243.9h0M121.3 247.7h0"/><path class="r s1" d="M120.1 246.8h0M155.1 243.7h0M147.5 242.7h0M160.2 243.2h0M156.5 246.8h0M157.0 243.9h0M160.3 245.1h0M159.5 250.6h0M170.4 248.4h0M153.7 243.3h0M161.1 241.8h0M156.0 246.9h0"/><path class="w s1" d="M141.4 246.5h0M140.3 251.3h0M165.8 249.9h0M169.4 241.4h0M153.4 244.2h0M145.8 244.0h0M158.8 239.5h0M171.7 245.5h0M144.9 246.2h0M132.6 251.3h0M150.7 240.8h0M171.3 247.7h0M167.8 245.1h0M168.9 240.0h0"/><path class="B s0" d="M132.8 255.2h0"/><path class="R s0" d="M153.9 243.9h0M159.1 244.9h0"/><path class="b s0" d="M141.3 252.6h0M128.2 247.5h0M137.3 250.8h0M175.5 246.7h0M174.1 248.2h0M138.6 249.8h0M151.0 247.1h0M160.4 247.3h0"/><path class="g s0" d="M133.1 250.3h0M160.2 248.5h0M130.1 248.5h0"/><path class="k s0" d="M146.9 244.3h0"/><path class="r s0" d="M168.8 251.4h0M131.4 252.4h0M162.4 243.3h0M159.4 247.0h0M151.0 243.1h0M147.9 242.5h0M156.5 249.0h0M155.9 246.4h0M123.4 248.1h0M154.7 247.0h0"/><path class="w s0" d="M149.9 245.9h0M149.1 246.2h0M151.3 243.3h0M169.6 247.1h0M168.7 249.2h0M142.6 245.8h0M168.8 241.6h0M131.1 249.2h0M150.9 244.9h0M139.7 251.8h0"/></g>
<g><path class="z" d="M299.7 68.1L301.7 67.6L303.6 67.1L305.6 66.8L307.6 66.6L309.3 65.2L311.0 64.3L312.3 62.9L313.5 61.5L315.0 60.9L316.4 60.3L317.9 61.3L319.4 62.3L320.6 64.0L321.9 65.6L323.1 64.5L324.3 63.4L325.6 62.8L326.8 62.2L328.0 63.3L329.2 64.4L330.5 65.6L331.7 66.8L333.4 66.0L335.2 65.3L338.1 64.6L341.1 63.8L345.0 64.4L348.9 65.0L351.9 65.2L354.9 65.5L356.8 66.7L358.8 67.9L359.9 68.6L360.6 70.2L360.9 72.3L360.6 74.4L359.9 76.0L358.8 76.7L356.8 77.5L354.9 78.3L351.9 78.3L348.9 78.3L345.0 78.5L341.1 78.7L338.1 78.5L335.2 78.3L333.4 77.8L331.7 77.4L330.5 76.0L329.2 74.6L328.0 74.5L326.8 74.4L325.6 73.9L324.3 73.4L323.1 72.4L321.9 71.4L320.6 70.5L319.4 69.6L317.9 70.4L316.4 71.2L315.0 70.9L313.5 70.5L312.3 70.0L311.0 69.5L309.3 69.8L307.6 69.7L305.6 70.0L303.6 70.2L301.7 70.1L299.7 70.1Z"/><path class="R s2" d="M352.1 67.7h0"/><path class="r s2" d="M329.8 73.3h0M328.7 70.3h0M327.6 66.9h0M340.4 66.2h0"/><path class="B s1" d="M318.5 69.6h0M347.0 75.1h0M358.9 75.6h0M320.5 67.8h0M318.4 69.1h0"/><path class="R s1" d="M337.9 67.3h0M313.4 64.5h0M326.4 71.8h0M314.5 65.0h0M335.9 72.0h0M316.8 69.9h0M356.6 78.3h0M325.3 72.6h0M324.5 72.2h0M312.3 70.1h0M339.3 70.7h0"/><path class="b s1" d="M332.0 71.9h0M357.4 72.6h0M332.3 71.0h0M307.5 67.8h0M355.7 71.1h0M333.2 75.3h0"/><path class="g s1" d="M299.7 70.4h0M315.2 68.4h0M350.2 74.6h0M349.9 75.0h0"/><path class="k s1" d="M325.4 70.7h0M355.5 72.3h0M322.4 67.7h0"/><path class="p s1" d="M322.1 72.1h0"/><path class="r s1" d="M336.9 66.7h0M327.6 70.8h0M329.0 68.5h0M303.4 67.8h0M333.2 73.1h0M326.2 68.6h0M349.3 73.6h0M327.4 69.0h0M333.4 67.6h0M323.4 68.2h0M325.1 67.2h0M336.0 65.5h0M329.5 69.3h0M344.3 76.0h0M333.7 73.9h0M323.1 65.5h0M336.6 78.7h0M313.5 61.4h0M338.0 66.5h0"/><path class="w s1" d="M318.8 65.6h0M328.8 66.1h0M308.3 69.0h0M338.6 66.4h0M343.8 64.6h0M318.0 63.7h0M325.1 66.7h0M324.6 64.8h0M307.5 69.1h0M317.0 64.0h0M323.3 71.0h0M304.9 67.2h0M338.0 71.4h0M354.1 67.8h0M316.5 68.0h0M351.1 73.0h0"/><path class="B s0" d="M334.1 78.8h0M354.6 77.1h0M347.2 75.3h0"/><path class="R s0" d="M330.4 74.7h0M330.5 73.2h0M332.4 78.3h0M309.4 67.7h0M351.2 76.1h0M328.5 73.6h0M331.7 68.5h0M351.3 72.7h0"/><path class="b s0" d="M353.4 74.1h0M321.1 67.9h0M315.7 70.6h0M353.8 71.3h0M314.1 69.4h0M352.7 72.4h0M308.2 69.4h0M337.7 65.7h0M319.2 64.3h0M301.2 69.2h0M313.1 65.3h0M322.1 68.7h0M352.7 73.1h0M331.5 75.9h0M319.0 69.8h0M326.5 65.2h0M311.3 66.1h0M312.3 65.1h0"/><path class="g s0" d="M340.1 78.9h0M347.1 65.6h0M319.3 70.3h0M313.4 67.5h0M331.6 77.2h0M323.2 71.3h0"/><path class="k s0" d="M324.7 68.6h0M350.1 69.6h0"/><path class="l s0" d="M316.2 61.9h0M312.6 65.0h0"/><path class="r s0" d="M336.2 70.1h0M325.8 73.5h0M327.2 68.5h0M313.7 64.3h0M352.1 67.1h0M323.9 65.5h0M337.5 75.1h0M344.5 71.0h0M316.3 65.1h0M333.2 74.0h0M330.0 66.1h0M332.7 76.7h0M323.4 72.4h0M333.8 70.2h0M362.3 71.0h0M326.6 70.0h0M330.0 73.7h0M319.9 61.8h0M345.2 78.8h0M336.4 74.5h0"/><path class="w s0" d="M322.8 68.8h0M345.6 76.8h0M314.5 63.5h0M307.0 70.2h0M308.8 69.7h0M336.4 72.4h0M331.5 72.2h0M325.0 64.7h0M311.0 63.7h0M340.8 66.9h0M317.3 63.8h0M355.0 72.9h0M354.9 69.2h0M320.4 68.5h0M313.8 63.7h0M353.9 70.2h0M357.3 66.7h0"/><path class="B s2" d="M342.4 78.5h0"/><path class="R s2" d="M337.4 74.8h0"/><path class="b s2" d="M348.9 78.4h0M332.2 76.1h0M351.2 70.0h0"/><path class="r s2" d="M324.7 73.7h0M324.6 68.4h0"/><path class="B s1" d="M353.1 75.9h0M332.3 75.4h0M333.9 76.6h0M354.9 77.2h0M309.2 69.6h0M319.9 69.5h0"/><path class="R s1" d="M322.9 65.7h0M329.9 73.6h0M340.4 69.1h0M330.1 69.4h0M317.8 68.2h0M332.7 77.4h0M328.1 63.8h0M328.6 72.6h0M326.4 73.1h0"/><path class="b s1" d="M330.7 76.7h0M313.1 62.9h0M346.6 74.4h0M338.5 72.1h0M356.4 67.2h0M352.5 77.4h0M358.8 73.6h0M320.9 67.6h0M316.8 62.5h0M358.1 71.5h0M320.9 67.5h0"/><path class="g s1" d="M315.0 69.1h0M341.4 74.0h0M341.4 66.0h0M341.3 79.2h0"/><path class="k s1" d="M352.2 65.6h0M351.2 72.2h0M352.9 66.5h0"/><path class="l s1" d="M318.3 63.3h0"/><path class="r s1" d="M360.5 71.2h0M328.6 70.9h0M339.8 72.1h0M323.8 68.2h0M335.9 71.2h0M324.8 68.0h0M313.4 64.3h0M324.2 67.0h0M321.7 73.0h0M343.4 72.5h0M344.5 75.7h0M329.5 72.1h0M330.5 66.2h0M321.6 69.3h0M315.8 69.0h0M343.3 73.0h0M348.7 67.6h0M309.9 65.3h0M338.3 71.3h0M317.4 66.4h0M343.7 71.5h0M344.4 75.3h0M304.5 69.1h0M314.2 61.6h0M334.2 73.8h0M304.8 69.1h0M333.1 73.2h0M343.4 74.1h0M337.3 73.2h0"/><path class="w s1" d="M336.0 67.8h0M317.0 63.6h0M338.5 65.5h0M352.1 77.9h0M342.0 64.8h0M307.6 70.0h0M352.6 69.6h0M340.1 63.2h0M337.0 72.9h0M328.6 65.7h0M319.1 67.5h0M343.5 64.9h0M325.1 65.2h0M316.1 66.7h0M305.7 66.6h0M338.3 65.1h0M313.9 66.2h0M343.5 72.8h0M307.9 68.2h0"/><path class="B s0" d="M334.7 76.5h0M348.5 74.9h0M359.5 77.0h0"/><path class="R s0" d="M345.3 75.2h0M322.7 70.8h0M313.6 70.7h0"/><path class="b s0" d="M315.8 67.8h0M358.5 72.9h0M306.1 67.5h0M352.9 74.7h0M332.1 71.8h0M319.7 69.9h0M312.5 62.4h0M353.3 72.2h0M358.6 69.8h0M352.9 72.3h0M358.5 68.8h0M360.6 76.6h0M345.9 68.0h0M334.7 76.8h0M358.6 71.4h0M358.6 72.7h0M341.2 77.6h0"/><path class="g s0" d="M339.3 78.6h0M312.8 69.5h0M319.2 68.2h0M335.4 78.6h0"/><path class="k s0" d="M324.6 62.7h0M317.4 63.5h0M353.3 74.2h0"/><path class="l s0" d="M323.2 63.6h0M338.2 68.5h0"/><path class="p s0" d="M356.8 69.4h0M319.3 60.7h0"/><path class="r s0" d="M329.7 65.5h0M325.0 67.8h0M326.7 67.8h0M310.1 65.5h0M315.4 61.6h0M344.2 71.6h0M326.9 63.6h0M330.7 73.2h0M342.2 73.2h0M334.8 67.4h0M326.9 70.1h0M310.2 66.1h0M332.3 69.5h0M322.2 63.6h0M333.9 70.7h0M328.5 67.1h0M325.1 68.8h0M342.2 71.7h0M316.4 68.7h0M336.8 66.4h0M315.9 66.4h0M314.2 64.2h0M335.1 70.7h0M311.3 69.4h0"/><path class="w s0" d="M310.6 63.0h0M326.6 61.7h0M310.9 67.8h0M350.0 73.2h0M315.8 68.0h0M349.9 64.9h0M324.2 66.2h0M354.8 70.4h0M349.0 69.1h0M315.1 62.2h0M357.6 73.5h0"/><path class="B s2" d="M328.0 75.0h0"/><path class="R s2" d="M351.4 75.6h0M327.9 73.2h0"/><path class="b s2" d="M345.6 67.8h0M316.1 67.6h0M357.9 72.5h0M359.5 75.8h0"/><path class="r s2" d="M329.5 68.3h0M335.5 67.7h0M315.2 61.1h0M325.9 70.0h0M338.2 77.5h0"/><path class="B s1" d="M320.4 68.7h0M322.5 71.9h0M313.0 68.1h0"/><path class="R s1" d="M324.7 73.5h0M330.8 65.1h0M329.4 74.7h0M350.2 75.6h0M328.7 65.7h0M337.7 74.5h0M360.1 75.7h0M326.6 68.4h0M315.8 69.5h0M304.4 69.9h0"/><path class="b s1" d="M351.8 68.5h0M357.9 71.4h0M346.2 70.9h0M337.9 68.4h0M350.9 69.0h0M354.8 75.5h0M357.9 68.4h0M332.6 65.9h0M332.5 72.4h0M325.9 63.9h0M345.8 73.9h0M312.7 62.8h0M312.8 68.0h0M312.3 69.0h0M325.9 74.1h0"/><path class="g s1" d="M315.6 67.8h0"/><path class="k s1" d="M332.0 68.6h0M324.0 70.5h0"/><path class="l s1" d="M337.7 77.6h0"/><path class="r s1" d="M340.4 70.2h0M302.5 67.7h0M327.5 68.7h0M329.6 65.4h0M316.7 66.6h0M302.0 67.3h0M304.9 67.2h0M343.0 71.1h0M313.4 63.8h0M321.7 72.4h0M343.4 73.0h0M331.7 68.6h0M351.8 66.4h0M321.5 67.0h0M338.1 74.4h0M335.0 75.5h0"/><path class="w s1" d="M337.4 67.5h0M314.7 62.9h0M351.0 73.6h0M327.9 65.3h0M310.9 65.6h0M316.2 70.5h0M334.7 72.8h0M335.2 73.0h0M336.4 72.6h0M332.5 68.1h0M324.7 67.4h0M318.6 68.1h0M308.3 65.5h0M310.2 66.0h0M326.5 73.8h0M339.5 78.2h0M322.0 70.4h0M322.1 68.6h0"/><path class="B s0" d="M333.8 75.5h0M320.7 67.9h0M334.1 75.8h0M329.7 76.1h0M340.3 76.4h0"/><path class="R s0" d="M328.1 66.5h0M342.0 76.0h0M329.3 72.0h0M309.2 69.1h0M327.5 72.6h0M338.6 75.9h0M339.1 65.3h0M325.8 71.6h0"/><path class="b s0" d="M313.6 68.2h0M320.2 64.0h0M337.2 67.7h0M312.5 68.2h0M320.2 67.9h0M338.3 72.1h0M354.4 68.0h0M351.4 65.0h0M315.2 67.2h0M315.1 66.6h0M313.2 63.3h0M324.2 66.5h0M326.0 64.3h0M332.7 66.3h0M358.9 69.9h0M355.3 66.7h0M338.4 72.6h0"/><path class="g s0" d="M358.1 73.8h0M339.4 73.9h0M310.8 64.1h0M333.6 71.7h0M311.4 68.6h0M347.7 77.2h0M301.5 68.2h0M323.6 71.5h0M310.4 67.1h0M352.2 77.8h0"/><path class="k s0" d="M315.9 59.9h0M313.8 64.5h0M335.1 69.1h0M337.9 73.0h0M323.3 66.7h0"/><path class="l s0" d="M300.0 68.6h0"/><path class="r s0" d="M336.1 70.8h0M316.0 66.3h0M314.2 60.4h0M321.7 65.8h0M361.6 70.9h0M322.5 67.6h0M315.6 65.5h0M331.7 69.4h0M315.5 65.7h0M347.4 69.3h0M322.2 69.6h0M318.2 70.4h0M334.6 70.3h0M356.3 73.9h0M334.7 69.7h0M348.4 70.7h0M326.6 62.1h0M313.9 64.9h0M337.9 73.6h0M327.4 67.6h0M333.9 64.8h0M336.5 66.7h0M347.7 73.4h0M309.7 64.7h0M323.9 68.2h0M337.4 66.4h0M341.7 72.7h0M328.3 71.5h0M347.5 67.3h0M333.3 73.1h0M326.9 70.6h0M346.0 66.6h0M340.5 68.6h0"/><path class="w s0" d="M348.8 65.6h0M325.3 66.9h0M334.5 72.7h0M336.6 73.1h0M316.8 63.7h0M316.0 71.5h0M355.3 72.5h0M336.3 64.2h0M338.7 69.3h0M344.4 70.8h0M321.8 70.5h0M335.9 72.8h0M320.7 64.9h0M312.0 67.0h0M323.3 68.6h0M324.6 73.9h0M356.2 75.0h0M350.0 64.4h0M344.5 76.6h0"/></g>
<g><path class="z" d="M300.3 103.7L302.2 103.2L304.2 102.7L306.1 102.4L308.1 102.2L309.8 101.5L311.5 100.3L312.7 98.3L313.9 96.3L315.3 96.0L316.8 95.7L318.2 96.8L319.7 98.0L320.9 99.7L322.1 101.5L323.3 100.2L324.6 99.0L325.8 98.4L327.0 97.9L328.2 99.0L329.4 100.1L330.6 101.3L331.8 102.4L333.5 102.1L335.2 101.7L338.1 100.6L341.0 99.5L344.9 99.7L348.8 99.8L351.7 100.4L354.6 101.0L356.6 102.3L358.5 103.6L359.5 104.2L360.1 105.7L360.3 107.5L360.1 109.4L359.5 110.8L358.5 111.4L356.6 112.5L354.6 113.5L351.7 114.1L348.8 114.7L344.9 114.8L341.0 114.8L338.1 114.6L335.2 114.4L333.5 113.5L331.8 112.7L330.6 111.7L329.4 110.8L328.2 110.4L327.0 110.0L325.8 109.0L324.6 108.1L323.3 107.6L322.1 107.1L320.9 106.8L319.7 106.4L318.2 106.2L316.8 105.9L315.3 105.7L313.9 105.5L312.7 105.3L311.5 105.1L309.8 105.0L308.1 105.3L306.1 105.6L304.2 105.8L302.2 105.7L300.3 105.7Z"/><path class="b s2" d="M335.0 111.3h0M350.8 103.9h0M353.3 106.8h0M353.6 104.5h0M323.5 101.6h0"/><path class="B s1" d="M319.9 104.0h0"/><path class="R s1" d="M333.7 105.7h0M351.6 110.3h0M332.9 102.1h0M331.7 111.3h0M313.1 104.8h0M333.7 110.8h0M335.8 113.3h0M316.1 104.1h0M344.8 110.6h0"/><path class="b s1" d="M330.2 109.8h0M347.6 106.4h0M356.7 104.9h0M353.1 107.0h0M329.5 99.9h0M354.2 106.5h0M329.4 111.4h0M328.8 100.5h0M324.3 102.8h0M340.3 101.5h0M327.3 107.3h0"/><path class="g s1" d="M356.5 110.1h0M310.1 104.1h0M342.0 114.2h0M335.3 112.8h0M330.3 102.1h0M318.5 104.0h0M310.7 104.2h0M334.2 114.0h0M325.0 105.3h0M312.2 102.7h0M318.5 103.7h0"/><path class="k s1" d="M348.6 104.6h0M350.3 110.5h0M336.8 109.6h0"/><path class="p s1" d="M315.4 100.7h0"/><path class="r s1" d="M301.6 105.4h0M332.8 102.9h0M344.7 104.7h0M336.5 111.4h0M347.3 100.9h0M321.7 101.1h0M320.4 98.6h0M338.7 109.3h0M333.2 103.3h0M340.9 103.0h0M341.6 108.0h0M317.3 103.1h0M319.2 99.0h0M333.7 102.9h0M310.8 103.9h0M323.1 104.5h0M332.2 110.3h0M337.1 108.8h0M329.1 108.8h0M334.7 106.8h0M333.3 109.2h0M335.5 114.6h0"/><path class="w s1" d="M309.7 102.8h0M342.4 107.1h0M339.1 102.4h0M311.5 103.3h0M328.8 101.7h0M317.7 97.3h0M308.7 103.6h0M317.0 99.7h0M323.0 104.9h0M328.8 105.6h0M349.3 100.1h0"/><path class="B s0" d="M327.8 107.1h0M330.2 110.9h0"/><path class="R s0" d="M328.6 108.8h0M315.9 102.3h0M331.5 113.9h0M339.4 111.3h0M322.6 103.4h0M335.5 109.0h0M335.6 109.2h0M332.7 109.6h0M332.8 110.0h0M313.3 102.5h0M338.2 112.1h0M351.5 109.3h0M360.0 111.9h0M314.3 102.7h0M318.4 103.0h0M337.1 112.0h0M328.0 108.9h0"/><path class="b s0" d="M324.2 104.3h0M327.8 105.9h0M354.1 106.3h0M353.9 110.6h0M331.2 110.2h0"/><path class="g s0" d="M340.4 110.0h0M320.2 104.1h0M357.7 109.3h0M304.9 103.0h0M354.2 113.2h0M303.6 106.0h0M307.8 104.6h0M303.0 105.8h0"/><path class="k s0" d="M325.5 104.8h0M333.9 104.9h0M327.8 109.9h0"/><path class="r s0" d="M332.5 111.6h0M327.7 103.1h0M330.4 107.7h0M350.6 106.5h0M339.1 111.3h0M346.4 113.2h0M313.9 102.3h0M331.8 112.5h0M329.7 106.4h0M332.0 105.0h0M351.8 109.9h0M326.5 104.0h0M327.1 102.2h0M336.7 107.8h0M326.1 101.9h0M349.8 114.4h0M326.6 98.6h0M326.4 101.8h0M333.1 103.0h0M345.1 113.7h0M333.7 111.0h0"/><path class="w s0" d="M313.3 101.7h0M317.0 98.0h0M327.9 99.8h0M307.0 105.7h0M344.6 100.5h0M320.1 107.0h0M328.4 102.0h0M356.9 103.5h0M316.7 106.6h0M329.6 103.5h0M331.9 101.2h0M329.4 103.6h0M321.5 99.8h0M344.6 99.0h0"/><path class="R s2" d="M333.0 110.7h0"/><path class="b s2" d="M340.2 101.9h0M324.4 101.5h0M325.2 103.4h0M358.1 106.1h0"/><path class="r s2" d="M322.3 103.9h0M351.7 109.2h0M314.3 99.4h0"/><path class="B s1" d="M317.1 100.8h0M325.4 101.5h0M349.2 111.9h0M324.1 105.6h0M355.0 110.9h0M348.0 114.6h0"/><path class="R s1" d="M326.0 106.3h0M354.6 114.0h0M315.6 97.5h0M346.5 114.3h0M344.0 109.5h0M306.7 105.0h0M317.4 104.2h0M340.0 113.0h0"/><path class="b s1" d="M340.0 101.7h0M323.3 100.1h0M324.9 103.9h0M353.4 105.3h0M327.8 106.3h0M353.5 107.2h0"/><path class="g s1" d="M329.3 108.2h0M328.4 99.8h0M350.6 102.4h0M356.1 109.9h0M339.7 101.9h0M328.6 101.5h0"/><path class="k s1" d="M350.8 107.3h0M319.6 102.9h0"/><path class="l s1" d="M328.9 100.5h0"/><path class="r s1" d="M313.2 101.7h0M318.3 100.1h0M317.6 102.9h0M343.0 99.9h0M314.3 101.6h0M342.0 102.7h0M349.7 107.8h0M317.8 97.5h0M319.4 98.0h0M337.5 104.1h0M334.6 106.5h0M315.0 98.5h0M332.8 104.7h0M325.5 104.5h0M314.4 101.2h0M314.4 99.0h0M325.5 108.0h0M348.2 108.1h0M314.5 99.9h0M318.5 99.2h0M338.4 104.4h0"/><path class="w s1" d="M343.6 104.6h0M356.4 105.7h0M349.3 108.7h0M325.1 104.3h0M312.3 102.4h0M304.8 105.5h0M332.3 106.0h0M326.6 104.7h0M335.5 102.8h0M339.2 101.5h0M354.6 103.2h0M336.8 105.0h0M321.5 98.8h0"/><path class="B s0" d="M330.7 111.0h0M347.3 105.7h0M323.6 100.9h0M330.0 110.6h0M337.7 116.0h0"/><path class="R s0" d="M329.9 107.0h0M344.2 111.5h0M354.6 113.5h0M314.8 99.5h0M339.4 111.8h0M326.4 108.1h0M347.4 112.1h0M311.2 101.9h0M337.9 108.4h0M328.6 109.5h0M341.4 114.0h0M334.1 110.2h0M337.6 111.0h0"/><path class="b s0" d="M341.7 105.7h0M351.8 103.1h0M327.3 106.4h0M325.0 102.4h0M359.6 106.7h0M348.4 100.9h0M330.6 112.3h0"/><path class="g s0" d="M316.0 102.0h0M340.8 101.8h0M356.5 102.3h0M322.9 101.9h0M318.9 103.3h0M354.5 111.7h0M324.6 105.4h0M319.5 105.2h0M331.8 107.5h0M328.7 98.1h0M351.9 111.6h0M318.8 103.4h0"/><path class="k s0" d="M339.5 115.8h0M324.0 106.9h0M347.4 105.3h0M318.1 104.7h0M324.6 100.7h0"/><path class="r s0" d="M351.8 112.4h0M351.0 107.7h0M331.8 103.2h0M325.8 105.3h0M315.2 99.8h0M330.2 106.5h0M321.3 103.4h0M334.8 106.7h0M316.2 98.6h0M344.4 114.6h0M336.2 108.0h0M355.1 105.4h0M353.0 100.4h0M343.6 100.4h0M327.2 103.4h0M343.7 112.6h0M311.3 99.0h0M320.6 105.6h0M333.9 107.0h0M314.4 102.4h0M311.4 103.3h0M320.9 102.3h0M326.4 101.5h0M325.9 104.9h0M322.1 104.7h0M334.8 107.3h0M346.2 102.6h0M321.9 101.5h0"/><path class="w s0" d="M321.0 98.2h0M328.2 104.6h0M343.0 104.0h0M323.3 103.9h0M329.2 98.6h0M353.0 102.8h0M327.2 104.6h0M329.7 99.1h0M331.5 106.9h0M330.6 106.4h0M329.0 108.1h0M335.7 103.0h0M338.4 106.7h0M335.9 101.7h0M330.8 102.1h0M325.3 99.8h0M340.6 101.5h0M320.2 103.1h0M340.1 102.3h0M357.8 107.1h0M311.4 99.6h0M326.0 104.1h0M318.9 102.4h0"/><path class="R s2" d="M316.2 101.9h0M339.4 110.5h0M344.8 112.5h0M333.6 110.4h0"/><path class="r s2" d="M334.7 108.7h0M351.0 101.0h0M327.2 103.7h0M337.2 107.6h0M320.8 104.8h0"/><path class="B s1" d="M349.4 109.5h0M323.3 106.8h0M352.5 105.8h0M328.2 100.9h0"/><path class="R s1" d="M338.1 114.1h0M307.6 104.7h0M338.3 110.8h0M327.0 109.8h0M330.4 107.7h0M318.0 103.8h0M333.5 106.3h0"/><path class="b s1" d="M357.8 109.7h0M356.3 109.2h0M342.7 106.0h0M356.1 109.5h0M329.7 101.7h0M319.9 102.8h0M312.0 101.3h0M353.0 103.4h0M323.3 100.8h0M359.3 107.6h0M341.2 98.6h0"/><path class="g s1" d="M332.8 100.6h0M357.4 110.1h0M330.4 107.1h0M342.2 111.1h0M345.3 109.6h0M326.6 107.6h0M338.0 106.4h0"/><path class="k s1" d="M329.0 106.2h0M354.0 107.6h0"/><path class="p s1" d="M355.2 103.8h0M318.3 99.6h0"/><path class="r s1" d="M342.0 102.3h0M322.0 104.2h0M351.7 108.4h0M341.0 107.2h0M327.7 102.6h0M330.4 107.3h0M341.4 102.6h0M336.9 102.2h0M314.0 100.1h0M318.3 101.3h0M336.6 107.9h0M314.2 98.6h0M352.1 99.8h0M315.2 99.8h0M314.7 104.1h0M313.5 103.6h0M337.4 104.7h0M329.8 108.1h0M334.2 107.0h0M341.2 105.6h0M330.6 105.3h0M331.3 104.0h0M311.1 103.8h0M338.5 107.8h0M352.4 101.5h0"/><path class="w s1" d="M331.2 112.0h0M311.8 100.4h0M329.0 106.6h0M339.4 99.0h0M327.3 104.4h0M311.8 99.8h0M317.5 97.9h0M323.2 105.1h0M327.6 104.4h0M340.6 110.8h0M312.7 101.8h0M334.5 110.1h0M317.6 98.7h0M356.5 103.4h0M350.5 107.7h0"/><path class="B s0" d="M358.4 103.4h0M329.4 100.0h0M346.4 110.0h0"/><path class="R s0" d="M329.2 108.7h0M316.8 104.8h0M349.8 114.9h0M325.8 107.0h0M337.4 102.2h0M334.6 109.1h0M355.4 112.5h0"/><path class="b s0" d="M358.8 104.4h0M323.1 101.1h0M353.4 106.9h0M354.2 112.8h0M340.9 111.4h0M317.5 96.3h0M355.6 101.0h0M343.2 106.2h0M357.4 111.8h0M355.9 108.7h0M335.4 101.0h0M354.6 105.2h0M328.3 107.0h0M300.8 104.6h0M321.0 98.9h0M346.9 105.3h0"/><path class="g s0" d="M324.0 108.8h0M337.9 113.9h0M329.5 109.2h0M311.1 104.3h0M333.5 112.2h0M309.1 104.6h0M341.9 115.9h0M319.6 104.8h0M316.1 102.4h0"/><path class="k s0" d="M318.3 104.9h0M318.4 102.2h0M319.8 98.0h0"/><path class="l s0" d="M328.4 106.3h0"/><path class="p s0" d="M349.5 103.3h0M325.6 100.2h0M326.6 101.4h0"/><path class="r s0" d="M331.6 103.0h0M344.8 109.6h0M316.4 96.5h0M326.1 105.0h0M319.8 98.9h0M343.1 100.7h0M349.5 107.9h0M347.8 109.4h0M321.4 101.9h0M313.7 101.4h0M339.3 103.2h0M321.9 104.1h0M314.7 98.9h0M332.6 108.9h0M332.0 111.2h0M344.5 102.9h0M309.1 104.3h0M340.2 108.5h0M347.3 110.3h0M332.4 103.7h0M339.2 103.2h0M314.3 103.8h0M333.7 105.7h0M340.9 108.2h0M344.8 107.2h0M340.8 107.7h0M350.3 107.5h0"/><path class="w s0" d="M333.9 104.5h0M324.5 104.4h0M355.2 101.2h0M337.1 104.8h0M357.4 109.4h0M316.7 97.3h0M340.5 102.2h0M322.3 100.4h0M335.8 105.5h0M328.5 104.5h0M327.1 104.3h0M337.2 106.0h0M324.8 104.8h0M334.2 114.2h0M349.3 115.4h0M329.0 103.6h0M356.2 103.9h0M324.8 104.1h0M328.1 100.9h0M320.3 102.5h0M349.8 108.6h0"/></g>
<g><path class="z" d="M299.7 138.9L301.7 138.4L303.6 137.9L305.6 137.6L307.6 137.4L309.3 136.3L311.0 134.8L312.3 133.4L313.5 132.1L315.0 131.6L316.4 131.1L317.9 132.1L319.4 133.2L320.6 134.7L321.9 136.2L323.1 135.4L324.3 134.7L325.6 133.9L326.8 133.1L328.0 134.0L329.2 134.9L330.5 136.4L331.7 137.9L333.4 137.2L335.2 136.5L338.1 135.9L341.1 135.3L345.0 135.1L348.9 134.9L351.9 135.2L354.9 135.6L356.8 137.6L358.8 139.6L359.7 140.1L360.3 141.5L360.5 143.2L360.3 145.0L359.7 146.3L358.8 146.9L356.8 148.1L354.9 149.3L351.9 149.5L348.9 149.7L345.0 149.1L341.1 148.6L338.1 149.0L335.2 149.5L333.4 148.3L331.7 147.2L330.5 146.6L329.2 146.1L328.0 145.2L326.8 144.4L325.6 144.2L324.3 143.9L323.1 142.8L321.9 141.6L320.6 141.5L319.4 141.4L317.9 141.2L316.4 141.0L315.0 140.8L313.5 140.7L312.3 140.1L311.0 139.5L309.3 139.7L307.6 140.4L305.6 140.6L303.6 140.8L301.7 140.8L299.7 140.7Z"/><path class="R s2" d="M329.0 137.6h0M319.6 140.2h0"/><path class="b s2" d="M356.5 138.1h0M337.7 143.0h0M324.9 137.8h0M352.8 141.8h0M339.2 142.5h0"/><path class="r s2" d="M327.8 140.1h0M347.4 142.3h0M314.3 137.8h0M331.8 143.0h0M358.3 143.8h0"/><path class="B s1" d="M357.3 142.8h0M342.8 146.4h0M328.3 143.0h0M335.0 148.1h0"/><path class="R s1" d="M323.1 141.3h0M334.9 141.7h0M325.0 134.4h0M302.6 138.7h0M318.2 139.6h0"/><path class="b s1" d="M321.6 139.5h0M332.2 140.9h0M336.6 148.8h0M338.3 136.3h0M349.9 138.0h0M330.2 143.2h0M334.3 138.0h0M356.0 144.6h0M338.9 144.0h0M332.2 139.1h0"/><path class="g s1" d="M309.5 138.4h0M325.3 143.9h0M358.8 144.5h0"/><path class="k s1" d="M336.8 144.9h0M353.6 147.9h0"/><path class="r s1" d="M322.6 136.9h0M317.3 135.0h0M317.9 140.1h0M328.2 139.4h0M331.7 137.5h0M306.8 139.6h0M311.6 137.5h0M329.3 140.2h0M347.6 138.9h0M317.7 132.7h0M309.3 137.4h0M348.9 148.0h0M319.3 135.1h0M329.6 139.4h0M316.7 134.6h0M343.3 141.4h0M331.0 137.7h0M327.8 139.4h0M345.9 138.3h0M309.5 137.6h0M340.6 139.6h0M333.5 137.4h0M318.8 136.1h0M318.9 135.9h0M312.0 135.4h0M338.5 140.5h0"/><path class="w s1" d="M354.3 143.4h0M330.4 143.1h0M335.9 138.6h0M354.5 148.7h0M357.8 138.2h0M346.4 142.2h0M307.7 137.1h0M336.1 138.7h0M337.2 138.1h0M322.9 137.6h0M331.5 141.2h0M335.9 147.2h0M353.1 142.4h0M329.2 141.0h0M306.7 138.0h0"/><path class="B s0" d="M346.5 149.6h0M328.5 136.2h0M335.1 147.3h0M342.0 148.4h0M327.1 143.2h0M332.1 140.4h0"/><path class="R s0" d="M337.4 147.0h0M330.1 144.7h0M326.5 141.6h0M313.4 138.7h0M312.0 138.7h0M334.6 141.7h0M329.9 146.0h0"/><path class="b s0" d="M327.4 136.9h0M358.2 143.0h0M355.7 136.6h0M353.5 145.9h0M355.8 148.6h0M355.3 143.1h0M346.4 148.9h0M335.6 144.6h0M333.0 139.3h0M350.1 135.8h0M329.2 133.9h0M326.3 137.5h0M357.7 146.4h0M320.1 133.7h0M359.0 140.8h0M327.1 143.1h0M354.6 136.3h0M333.1 147.4h0M327.9 136.5h0M355.6 138.1h0M328.6 141.5h0M334.4 139.2h0M329.7 141.7h0"/><path class="g s0" d="M346.4 140.6h0M329.9 140.1h0M327.0 144.8h0"/><path class="r s0" d="M324.2 139.9h0M325.8 139.7h0M347.6 141.0h0M323.9 140.3h0M311.2 134.8h0M314.0 132.6h0M305.9 139.6h0M319.4 136.9h0M316.5 138.3h0M348.2 141.3h0M330.6 137.8h0M315.9 139.2h0M319.3 136.7h0M322.7 142.0h0M326.7 140.8h0M314.7 134.0h0M307.7 137.3h0M345.0 143.1h0M312.0 132.1h0M336.2 141.9h0M331.4 145.2h0M324.9 134.8h0"/><path class="w s0" d="M355.9 138.9h0M307.7 137.6h0M324.2 138.1h0M315.4 137.5h0M326.6 138.1h0M351.6 138.5h0M320.5 139.1h0M319.3 140.4h0M325.2 138.8h0"/><path class="B s2" d="M357.8 145.4h0"/><path class="R s2" d="M334.8 142.0h0M351.0 147.0h0M314.4 140.9h0"/><path class="b s2" d="M353.5 147.0h0"/><path class="r s2" d="M313.1 131.5h0M313.2 138.0h0M339.2 140.0h0M341.5 142.5h0M312.6 138.4h0M332.5 141.8h0M332.0 142.3h0"/><path class="B s1" d="M328.0 135.7h0M333.0 145.2h0M334.6 148.5h0M356.5 145.2h0"/><path class="R s1" d="M334.3 141.4h0M314.9 138.1h0M319.0 140.2h0M317.8 139.2h0M328.5 145.4h0M331.8 141.7h0M316.1 138.7h0"/><path class="b s1" d="M319.8 141.7h0M327.5 136.4h0M319.4 134.1h0M328.3 136.6h0M349.9 144.1h0M332.6 138.7h0M326.9 143.2h0M327.6 135.5h0M331.7 147.1h0M300.3 139.7h0M329.2 135.3h0M355.5 141.1h0M356.3 141.1h0M337.7 136.9h0M350.8 145.2h0"/><path class="g s1" d="M352.0 147.7h0M352.4 144.6h0M346.0 144.4h0M320.0 139.8h0M351.0 147.7h0M352.2 147.3h0M320.4 141.1h0M323.8 143.4h0M315.3 137.6h0"/><path class="k s1" d="M318.7 134.1h0M334.3 143.0h0M320.7 136.4h0"/><path class="r s1" d="M316.0 135.4h0M343.0 142.4h0M330.9 138.3h0M344.6 142.1h0M345.0 138.5h0M343.6 142.3h0M322.2 141.8h0M341.2 144.1h0M329.6 138.4h0M339.0 140.8h0M338.9 145.8h0M311.3 136.9h0M334.5 136.6h0M322.4 136.2h0M349.3 140.8h0M317.7 134.1h0M342.6 134.9h0M330.8 143.7h0M336.1 141.5h0M323.9 140.2h0M312.2 139.5h0M340.5 137.5h0"/><path class="w s1" d="M337.4 138.0h0M338.0 142.4h0M333.4 140.5h0M334.2 147.7h0M311.2 133.7h0M355.9 147.7h0M319.0 132.5h0M326.2 142.8h0M304.1 138.3h0M340.7 142.7h0M329.7 140.1h0M336.9 148.5h0M336.0 138.0h0M350.8 139.7h0M324.4 145.8h0M344.7 134.8h0M326.9 141.7h0"/><path class="B s0" d="M333.9 145.3h0M326.8 143.4h0M331.8 146.6h0M352.6 145.3h0M344.2 148.1h0M344.2 146.0h0M347.0 149.9h0M357.3 148.3h0M353.6 147.2h0M355.4 140.6h0M333.1 146.3h0M332.0 146.1h0M357.8 145.0h0M345.2 140.5h0"/><path class="R s0" d="M313.8 135.9h0M318.2 140.6h0M310.4 138.6h0M305.7 140.6h0M323.3 141.7h0M344.9 137.4h0M323.8 141.1h0M321.7 141.7h0"/><path class="b s0" d="M325.4 137.9h0M326.8 144.0h0M331.8 139.4h0M357.2 137.1h0M356.9 139.9h0M330.0 142.5h0M321.8 139.7h0M339.1 143.9h0M329.8 142.5h0"/><path class="g s0" d="M335.4 147.9h0M346.3 139.3h0M349.4 135.5h0M339.6 141.8h0M325.3 142.4h0M335.0 144.7h0M343.7 145.1h0M327.6 141.6h0M347.7 134.7h0M332.9 148.2h0"/><path class="k s0" d="M314.0 133.4h0M351.9 144.1h0M324.5 134.5h0"/><path class="l s0" d="M329.9 135.6h0"/><path class="p s0" d="M328.2 140.0h0"/><path class="r s0" d="M329.9 144.8h0M311.3 135.6h0M316.4 135.0h0M323.4 141.3h0M330.2 145.8h0M323.9 136.6h0M331.8 141.6h0M327.0 139.6h0M312.7 137.3h0M346.2 139.4h0M344.5 143.7h0M320.1 135.9h0M335.9 136.6h0M313.3 133.2h0M312.5 135.1h0M320.0 136.2h0M335.0 142.1h0M338.2 139.5h0M313.1 136.3h0M332.7 141.7h0M342.9 144.0h0M318.6 139.4h0M321.8 136.3h0M319.6 136.3h0M332.7 143.0h0M330.6 137.0h0M339.5 146.2h0M310.2 135.2h0"/><path class="w s0" d="M349.2 135.2h0M355.5 149.8h0M338.2 137.2h0M347.8 139.4h0M330.5 143.1h0M315.4 136.7h0M324.9 137.2h0M323.0 137.3h0M341.4 140.5h0M335.7 139.4h0M347.0 141.2h0M347.6 142.9h0"/><path class="B s2" d="M343.4 147.0h0"/><path class="R s2" d="M313.9 138.7h0M337.1 146.9h0M324.7 141.7h0M340.7 146.3h0"/><path class="b s2" d="M347.1 144.9h0M329.6 141.6h0M338.5 135.6h0"/><path class="p s2" d="M340.9 139.7h0"/><path class="r s2" d="M322.2 136.2h0M314.8 131.6h0M343.4 136.6h0M320.6 134.5h0M314.5 132.4h0"/><path class="B s1" d="M357.2 147.4h0M327.3 142.6h0M353.3 146.1h0"/><path class="R s1" d="M321.6 140.4h0M317.2 139.1h0M345.1 142.2h0M315.3 132.9h0M317.3 141.4h0M346.4 147.0h0M329.1 137.7h0M340.6 137.3h0"/><path class="b s1" d="M330.0 140.0h0M328.7 134.8h0M355.4 142.1h0M333.3 140.2h0M335.0 139.3h0M326.6 143.7h0M323.5 138.7h0M323.9 137.4h0M360.0 144.4h0M359.3 145.1h0M327.8 142.6h0M328.0 142.9h0M330.3 134.8h0M329.6 135.3h0"/><path class="g s1" d="M325.3 142.1h0M316.1 137.8h0M336.0 145.6h0M346.0 140.3h0M328.7 141.5h0M351.9 138.7h0"/><path class="k s1" d="M322.1 135.9h0M331.0 143.7h0M329.4 139.7h0M329.8 143.6h0"/><path class="p s1" d="M320.8 137.3h0"/><path class="r s1" d="M312.5 140.0h0M349.1 141.4h0M334.1 136.9h0M335.7 141.6h0M335.5 137.4h0M314.3 131.8h0M339.3 139.7h0M314.7 134.3h0M345.7 136.5h0M314.1 134.9h0M332.3 142.3h0M331.5 143.5h0M318.9 140.0h0M315.8 136.1h0M331.8 136.5h0M341.6 142.7h0M329.4 139.8h0M329.2 139.5h0M326.3 134.3h0M328.2 139.8h0M326.1 140.4h0"/><path class="w s1" d="M327.7 138.4h0M341.3 143.1h0M345.3 144.1h0M303.1 139.0h0M322.9 143.7h0M319.0 134.8h0M352.5 136.9h0M320.4 134.3h0M322.8 137.2h0M359.4 142.3h0M325.7 136.0h0M321.5 138.5h0"/><path class="B s0" d="M355.1 146.4h0M310.4 139.1h0M353.6 136.5h0M332.8 146.9h0M354.3 137.0h0M353.8 147.3h0M352.4 148.0h0"/><path class="R s0" d="M310.4 135.5h0M324.7 141.1h0M345.8 146.3h0M316.5 140.5h0M312.7 140.8h0M313.7 132.5h0M337.7 145.8h0M330.3 144.1h0M316.8 136.4h0M325.7 141.5h0M309.9 137.2h0M335.7 141.7h0"/><path class="b s0" d="M341.0 148.8h0M354.7 142.0h0M328.6 135.6h0M358.1 140.5h0M358.6 142.1h0M326.9 144.4h0M356.7 147.5h0M358.3 139.2h0M360.8 143.9h0M355.3 137.6h0M338.0 136.6h0M329.6 135.7h0M358.9 142.3h0M331.1 139.8h0M354.4 139.0h0M351.3 135.7h0"/><path class="g s0" d="M324.8 143.4h0M328.7 133.9h0M350.6 146.0h0M348.5 146.2h0"/><path class="k s0" d="M351.1 144.6h0M347.5 139.8h0"/><path class="p s0" d="M330.8 138.0h0"/><path class="r s0" d="M327.5 140.0h0M339.2 138.2h0M329.1 138.3h0M348.9 146.4h0M331.3 144.2h0M321.2 136.3h0M317.8 132.4h0M346.4 138.2h0M323.9 141.4h0M330.6 137.0h0M323.4 135.0h0M328.7 139.9h0M327.4 138.5h0M316.3 141.1h0M312.3 137.7h0M314.6 138.0h0M332.1 143.0h0M312.1 136.8h0M334.8 142.0h0M320.8 138.8h0M315.4 134.7h0M329.7 139.2h0M344.7 137.1h0M309.1 136.1h0"/><path class="w s0" d="M335.7 142.3h0M350.6 145.7h0M318.9 134.0h0M344.7 140.1h0M336.6 137.6h0M315.8 136.7h0M327.2 145.3h0M349.8 141.6h0M331.0 141.6h0"/></g>
<g><path class="z" d="M301.0 173.0L302.9 172.5L304.8 172.0L306.7 171.8L308.6 171.5L310.2 170.0L311.9 168.8L313.1 167.7L314.2 166.6L315.7 166.3L317.1 165.9L318.5 166.7L319.9 167.4L321.1 169.2L322.3 171.0L323.5 169.9L324.6 168.9L325.8 168.3L327.0 167.6L328.2 168.4L329.4 169.2L330.6 170.9L331.7 172.5L333.4 171.4L335.0 170.3L337.9 169.7L340.7 169.1L344.5 169.3L348.3 169.4L351.1 169.9L354.0 170.3L355.8 171.7L357.7 173.2L358.8 173.8L359.4 175.3L359.6 177.3L359.4 179.3L358.8 180.8L357.7 181.4L355.8 182.6L354.0 183.8L351.1 184.0L348.3 184.3L344.5 184.1L340.7 184.0L337.9 183.4L335.0 182.9L333.4 182.8L331.7 182.7L330.6 181.4L329.4 180.2L328.2 179.3L327.0 178.4L325.8 178.0L324.6 177.6L323.5 177.1L322.3 176.7L321.1 176.2L319.9 175.6L318.5 175.8L317.1 176.0L315.7 175.2L314.2 174.3L313.1 174.2L311.9 174.1L310.2 174.5L308.6 174.6L306.7 174.8L304.8 174.9L302.9 174.9L301.0 174.8Z"/><path class="R s2" d="M319.0 175.2h0M351.3 177.6h0M323.3 173.6h0"/><path class="b s2" d="M336.3 180.0h0M319.8 170.4h0M330.7 172.1h0"/><path class="r s2" d="M346.2 170.9h0M329.9 173.6h0"/><path class="B s1" d="M355.4 182.4h0M312.5 173.5h0M303.8 174.6h0M333.3 174.8h0M318.0 174.7h0"/><path class="R s1" d="M340.2 183.6h0M324.6 176.0h0M352.8 181.8h0M346.4 181.4h0M324.3 175.0h0M319.6 175.5h0M334.2 172.4h0"/><path class="b s1" d="M336.0 178.0h0M311.2 172.1h0M301.5 173.6h0M353.6 178.6h0M337.3 181.7h0M303.4 172.1h0M332.8 175.4h0M313.6 168.4h0M313.1 169.6h0M339.4 177.8h0M329.4 170.3h0M321.0 173.3h0M357.5 172.2h0"/><path class="g s1" d="M328.7 178.5h0M325.5 174.7h0M334.5 174.8h0M334.7 175.6h0M343.7 176.3h0M357.3 176.7h0M358.3 181.1h0M329.8 178.6h0M332.0 178.6h0M328.8 179.1h0"/><path class="k s1" d="M314.2 171.8h0"/><path class="r s1" d="M349.5 174.3h0M324.2 175.6h0M349.2 168.9h0M327.8 170.0h0M340.3 168.3h0M347.3 179.9h0M349.0 174.5h0M332.6 177.0h0M328.7 174.1h0"/><path class="w s1" d="M314.0 172.6h0M329.9 175.0h0M337.9 176.7h0M324.8 173.7h0M351.3 184.1h0M343.7 175.9h0M343.4 174.4h0M315.2 173.3h0M355.6 176.6h0M316.8 167.9h0M330.8 180.7h0M327.5 172.0h0M336.9 177.3h0"/><path class="B s0" d="M306.6 174.9h0M301.4 174.6h0M305.5 174.6h0M322.3 176.2h0M334.2 178.3h0M331.7 180.7h0M328.4 175.6h0M354.8 183.8h0M335.9 182.9h0M354.8 178.2h0M341.1 181.9h0"/><path class="R s0" d="M349.5 181.7h0M325.6 177.1h0M334.0 180.3h0M348.5 182.5h0M339.8 182.7h0"/><path class="b s0" d="M323.5 177.8h0M320.6 171.8h0M359.5 177.5h0M357.6 172.2h0M321.8 175.6h0M340.0 171.7h0M355.8 173.1h0M334.6 179.3h0M304.0 174.5h0M325.4 172.1h0M341.0 181.9h0M336.2 178.8h0M345.1 171.7h0M339.9 172.6h0M326.0 170.2h0M337.0 184.1h0M326.1 171.3h0M325.2 171.4h0M326.5 175.4h0M325.4 171.6h0"/><path class="g s0" d="M353.4 179.9h0M355.1 176.2h0M355.0 171.8h0M329.7 179.0h0M349.9 182.3h0M339.5 183.8h0M325.8 176.7h0M350.7 182.0h0"/><path class="k s0" d="M318.3 170.4h0M331.5 175.5h0M320.6 176.1h0"/><path class="l s0" d="M313.9 170.5h0"/><path class="r s0" d="M334.8 182.8h0M343.5 174.4h0M327.0 179.3h0M350.9 176.0h0M336.7 171.3h0M352.5 182.4h0M319.3 167.5h0M349.6 171.6h0M324.4 174.5h0M331.6 175.3h0M336.3 176.0h0M337.3 170.1h0M310.1 173.7h0M344.9 183.2h0M320.1 176.1h0M326.0 178.7h0M316.5 170.4h0M342.3 177.5h0M313.1 171.5h0M353.8 183.3h0M319.2 174.0h0M342.3 173.2h0"/><path class="w s0" d="M337.3 176.8h0M316.7 169.2h0M332.5 181.3h0M347.7 184.3h0M351.7 177.1h0M347.7 175.9h0M305.2 172.8h0M329.0 170.4h0M332.1 175.6h0M340.7 177.8h0M352.5 173.0h0M348.2 176.0h0M336.8 178.6h0M338.5 175.3h0M316.3 170.8h0M351.1 183.2h0M353.3 180.2h0M347.5 174.7h0M327.3 171.9h0M345.9 169.0h0M340.8 177.1h0"/><path class="B s2" d="M351.2 171.8h0"/><path class="R s2" d="M343.5 180.7h0"/><path class="b s2" d="M354.0 175.7h0M347.3 173.3h0"/><path class="r s2" d="M331.4 171.1h0M353.7 183.0h0M324.3 174.6h0"/><path class="B s1" d="M312.5 172.3h0M313.0 173.9h0M320.6 173.4h0M320.5 173.9h0"/><path class="R s1" d="M326.3 178.1h0M339.8 180.8h0M351.8 183.5h0M343.4 181.7h0M339.9 175.1h0M352.0 180.4h0M352.3 183.4h0M348.4 183.4h0M333.9 180.0h0M317.7 166.8h0"/><path class="b s1" d="M325.9 171.3h0M341.5 182.4h0M340.8 174.5h0M329.4 181.1h0M330.3 179.7h0M359.1 180.0h0M302.3 174.1h0M313.2 170.4h0M330.2 171.1h0M329.4 168.1h0M345.9 172.3h0M320.9 173.0h0M353.3 175.5h0M344.0 168.9h0M332.5 174.4h0M320.3 171.0h0M346.1 173.4h0M301.0 173.4h0"/><path class="g s1" d="M351.2 172.7h0M330.1 179.3h0M345.0 170.3h0M353.5 173.2h0M356.0 182.8h0"/><path class="k s1" d="M325.9 173.2h0M322.2 171.4h0M348.2 172.1h0"/><path class="p s1" d="M347.9 174.3h0"/><path class="r s1" d="M315.6 168.0h0M330.3 174.6h0M323.6 170.8h0M330.4 176.3h0M329.0 173.6h0M310.6 169.4h0M314.5 167.8h0M323.4 172.2h0M350.8 173.8h0M329.0 172.0h0M348.8 180.9h0M329.2 173.8h0M344.7 180.8h0M324.5 175.1h0M331.5 170.2h0M337.7 172.0h0M347.1 177.8h0M345.8 181.5h0M353.0 178.7h0M318.6 167.3h0"/><path class="w s1" d="M349.4 173.0h0M339.9 176.2h0M308.4 172.8h0M336.7 177.3h0M338.7 175.5h0M354.2 174.6h0M324.4 171.9h0M350.7 182.9h0M329.5 172.4h0M350.9 181.9h0M324.0 169.4h0M316.2 167.5h0M325.4 172.6h0M330.7 173.4h0M327.0 177.9h0M329.4 175.3h0M330.1 176.3h0"/><path class="B s0" d="M327.3 177.1h0M302.9 174.4h0M301.2 174.9h0M318.2 169.3h0M338.2 182.7h0M328.9 178.5h0M342.4 182.6h0"/><path class="R s0" d="M352.2 180.3h0M347.6 174.7h0M344.6 180.8h0M326.9 178.4h0M346.1 182.6h0M319.6 173.4h0M339.8 168.5h0M327.7 172.9h0M340.4 184.1h0M314.8 173.8h0"/><path class="b s0" d="M331.9 173.3h0M357.5 175.1h0M310.2 171.8h0M334.9 176.5h0M326.0 170.7h0M352.1 175.6h0M347.7 177.5h0M339.9 177.5h0M308.1 171.5h0M351.7 173.3h0M307.2 173.8h0M313.3 167.8h0M331.5 180.2h0M356.4 174.9h0M336.5 172.8h0M326.8 176.0h0M336.2 178.0h0M322.6 173.7h0M303.2 173.9h0M316.1 172.7h0"/><path class="g s0" d="M335.5 183.6h0M341.8 179.6h0M350.0 181.2h0M336.4 173.7h0M327.1 174.6h0M320.2 173.9h0M357.6 180.8h0"/><path class="k s0" d="M317.0 172.1h0M316.9 173.0h0M329.0 174.3h0"/><path class="l s0" d="M352.2 174.1h0"/><path class="r s0" d="M349.0 182.1h0M328.5 172.2h0M323.7 169.2h0M356.7 177.9h0M331.4 177.7h0M350.3 179.3h0M329.5 174.8h0M333.8 177.9h0M323.3 172.5h0M350.5 178.8h0M324.3 170.5h0M345.5 179.6h0M343.4 180.0h0M347.2 169.7h0M357.1 182.6h0M324.4 176.4h0M344.0 176.0h0M323.0 170.0h0"/><path class="w s0" d="M349.0 172.9h0M324.5 171.2h0M328.4 168.5h0M344.1 176.3h0M350.8 173.0h0M348.0 173.7h0M330.2 177.9h0M343.6 177.3h0M331.0 174.8h0M342.9 176.5h0M345.6 180.3h0M318.3 168.6h0M333.9 173.4h0M356.5 180.2h0M316.8 167.1h0M332.6 181.9h0"/><path class="B s2" d="M312.8 173.7h0M337.9 181.6h0M337.4 181.9h0M318.1 168.4h0"/><path class="R s2" d="M336.5 174.3h0"/><path class="b s2" d="M320.6 171.9h0"/><path class="r s2" d="M323.1 169.8h0M351.4 178.4h0"/><path class="B s1" d="M326.8 171.9h0M336.6 182.6h0"/><path class="R s1" d="M325.3 177.9h0M337.9 180.6h0M325.0 175.3h0M334.3 180.2h0M352.6 184.1h0M343.5 172.7h0M323.9 172.0h0"/><path class="b s1" d="M314.2 171.5h0M326.0 173.0h0M352.8 172.3h0M308.1 173.7h0M326.1 172.4h0M353.5 177.2h0M314.7 172.9h0M352.3 176.8h0M326.9 174.3h0M338.3 169.4h0M351.8 171.7h0M358.3 178.6h0M320.4 172.2h0M338.1 171.3h0M352.2 174.6h0M326.9 172.4h0M351.1 170.4h0M356.0 170.6h0M313.1 172.5h0M319.2 170.9h0"/><path class="g s1" d="M349.8 170.3h0M338.3 182.5h0M349.8 181.5h0M319.6 173.2h0"/><path class="k s1" d="M327.4 177.5h0M318.9 171.7h0M347.9 180.9h0M316.7 168.5h0M322.5 177.0h0M335.3 179.2h0"/><path class="r s1" d="M342.1 178.8h0M310.5 169.8h0M342.0 171.7h0M312.7 170.2h0M324.2 173.6h0M332.1 170.8h0M349.8 169.2h0M317.3 173.1h0M351.0 178.5h0M347.9 179.6h0M346.7 179.1h0M337.4 171.4h0M344.2 177.1h0M349.2 175.9h0M321.1 170.4h0M330.1 174.8h0M342.5 176.8h0M331.4 169.5h0M332.7 176.7h0"/><path class="w s1" d="M356.5 181.2h0M350.4 181.5h0M355.3 173.2h0M330.1 172.7h0M337.8 171.3h0M330.8 178.5h0M328.0 174.8h0M320.1 174.0h0M348.9 173.2h0M343.1 177.2h0M323.6 176.4h0M341.1 168.1h0M348.5 172.6h0M309.2 171.5h0M323.0 173.9h0M327.4 170.3h0"/><path class="B s0" d="M353.4 176.5h0M330.1 170.9h0M326.3 172.3h0M355.1 181.0h0M337.5 181.6h0M305.9 175.2h0M354.7 177.4h0M336.2 179.7h0M317.1 175.2h0"/><path class="R s0" d="M351.9 180.0h0M325.2 177.8h0M324.7 175.4h0M343.0 178.9h0M336.5 175.1h0M324.8 175.9h0M348.0 181.7h0M349.7 171.8h0M311.6 170.6h0"/><path class="b s0" d="M318.3 169.5h0M353.4 178.5h0M356.6 178.8h0M351.8 175.1h0M319.4 171.2h0M315.7 171.2h0M321.1 174.4h0M319.8 170.1h0M342.8 169.9h0M328.1 175.9h0M320.0 171.6h0M345.1 171.9h0M332.4 174.0h0M319.7 171.8h0M345.4 172.1h0M340.9 179.7h0M321.2 172.5h0M355.9 172.7h0M322.4 173.6h0M358.3 179.2h0M353.7 178.2h0"/><path class="g s0" d="M336.6 178.3h0M315.8 174.9h0M329.6 170.8h0M316.6 172.9h0M333.4 180.9h0M316.6 172.4h0M324.1 171.7h0"/><path class="r s0" d="M326.0 178.4h0M343.5 178.7h0M329.9 173.0h0M323.7 173.3h0M314.7 167.8h0M315.4 175.7h0M315.7 169.1h0M350.8 179.4h0M331.5 182.4h0M317.8 172.3h0M326.3 168.6h0M331.8 177.6h0M312.2 170.4h0M351.5 181.5h0M333.4 177.4h0M317.7 171.8h0M317.4 173.3h0"/><path class="w s0" d="M324.5 171.5h0M346.1 174.5h0M313.0 170.5h0M356.5 178.4h0M355.0 172.7h0M322.0 172.0h0M330.3 178.4h0M324.3 170.1h0M324.3 169.4h0M346.7 170.5h0M330.0 179.4h0"/></g>
<g><path class="z" d="M300.3 209.7L302.2 209.3L304.2 208.8L306.1 208.2L308.1 207.6L310.0 205.7L311.9 204.1L313.9 203.0L315.8 201.8L317.8 202.6L319.7 203.3L321.6 204.2L323.6 205.1L325.5 204.9L327.5 204.7L330.4 204.9L333.3 205.2L337.2 205.0L341.0 204.9L344.9 205.2L348.8 205.5L351.7 205.7L354.6 205.9L356.6 207.4L358.5 208.9L359.5 209.5L360.1 210.9L360.3 212.8L360.1 214.7L359.5 216.1L358.5 216.7L356.6 217.3L354.6 217.9L351.7 218.3L348.8 218.7L344.9 218.7L341.0 218.7L337.2 218.5L333.3 218.3L330.4 216.8L327.5 215.3L325.5 214.2L323.6 213.2L321.6 212.2L319.7 211.3L317.8 210.6L315.8 209.9L313.9 210.3L311.9 210.7L310.0 210.9L308.1 210.7L306.1 211.0L304.2 211.2L302.2 211.3L300.3 211.3Z"/><path class="R s2" d="M314.6 207.2h0"/><path class="b s2" d="M326.5 207.8h0M338.9 210.7h0M323.2 209.1h0M358.5 210.7h0"/><path class="r s2" d="M318.1 203.1h0M323.9 211.1h0M354.8 213.4h0"/><path class="B s1" d="M357.3 214.8h0M345.3 217.4h0M332.7 205.2h0M332.3 213.1h0M346.7 217.2h0M322.9 205.7h0M322.0 211.4h0M340.1 218.0h0M358.5 208.5h0"/><path class="R s1" d="M349.1 216.3h0M314.6 208.3h0M339.3 216.3h0M315.0 209.8h0"/><path class="b s1" d="M352.5 212.4h0M324.3 211.4h0M338.5 208.5h0M327.9 208.9h0M323.8 213.8h0M357.4 210.6h0M321.6 209.0h0M337.9 216.6h0M332.8 213.5h0M356.5 207.2h0M332.5 212.8h0M341.8 215.3h0M343.5 206.7h0M350.3 216.8h0M332.2 207.9h0M332.0 210.9h0M327.8 214.4h0M325.1 210.5h0M338.7 213.7h0M337.4 207.7h0"/><path class="g s1" d="M328.1 210.7h0M337.8 211.1h0M348.9 214.7h0M341.0 215.0h0M329.7 213.4h0M344.5 208.4h0M308.4 210.9h0M345.4 212.8h0"/><path class="k s1" d="M344.6 212.7h0"/><path class="l s1" d="M322.7 207.4h0M328.5 207.4h0M332.9 208.3h0"/><path class="r s1" d="M308.2 207.2h0M350.1 213.2h0M320.0 209.1h0M315.2 205.6h0M320.7 206.8h0M314.5 207.6h0M343.2 211.3h0M316.5 205.4h0M311.8 206.0h0M314.2 203.9h0M324.7 209.4h0M316.5 205.4h0M313.9 205.6h0M317.6 206.8h0M316.3 203.4h0M312.4 209.7h0"/><path class="w s1" d="M325.6 209.7h0M335.5 210.6h0M328.4 210.5h0M353.0 206.4h0M355.4 206.0h0M354.1 212.8h0M310.5 210.7h0M355.0 209.8h0M340.7 209.3h0M343.2 209.6h0M329.1 210.3h0M345.1 204.9h0M333.7 208.4h0M311.4 209.9h0"/><path class="B s0" d="M335.6 216.9h0M346.0 208.7h0M342.7 217.4h0M326.5 213.5h0M331.3 206.3h0M333.0 214.5h0M330.0 211.8h0M324.5 213.8h0M338.2 213.2h0M353.0 214.8h0M340.9 216.6h0"/><path class="R s0" d="M346.1 214.8h0M328.2 212.4h0"/><path class="b s0" d="M328.0 209.0h0M349.5 205.7h0M332.7 211.1h0M351.0 208.0h0M330.8 212.7h0M332.4 207.7h0M327.3 211.4h0M356.9 215.9h0M322.3 208.0h0M335.7 208.1h0M351.2 208.2h0M342.3 213.5h0M337.1 206.3h0M354.3 209.6h0M342.4 217.8h0M347.3 213.8h0M324.7 206.9h0M357.7 211.3h0M303.5 210.1h0M332.7 212.8h0M302.0 210.5h0M311.0 208.9h0M307.6 208.8h0M322.7 208.4h0M344.3 210.2h0M326.8 210.8h0M321.5 209.5h0M304.7 211.2h0M352.6 210.8h0M326.5 209.6h0M333.3 213.1h0"/><path class="g s0" d="M355.2 214.3h0M344.5 211.3h0M334.9 209.4h0M351.7 219.1h0M358.1 213.7h0M322.3 204.0h0M305.5 210.0h0M353.9 215.2h0M352.2 211.8h0"/><path class="k s0" d="M325.7 215.2h0M327.2 209.5h0M343.4 210.9h0"/><path class="l s0" d="M352.7 205.4h0M352.7 209.8h0M338.1 207.6h0"/><path class="r s0" d="M315.0 203.9h0M356.3 209.3h0M355.1 213.5h0M348.1 209.6h0M316.9 204.1h0M334.1 216.9h0M309.4 210.4h0M350.4 208.4h0M349.7 216.2h0M346.1 207.2h0M355.3 212.3h0M328.4 212.2h0M313.5 206.3h0"/><path class="w s0" d="M358.1 214.1h0M348.2 211.1h0M356.8 216.1h0M336.7 217.1h0M348.9 210.6h0M338.7 215.7h0M326.2 208.0h0M340.0 205.6h0M356.1 212.1h0M348.7 216.0h0M308.4 207.3h0M320.5 205.9h0M347.4 208.3h0M355.7 210.3h0"/><path class="B s2" d="M330.4 214.6h0"/><path class="R s2" d="M315.1 206.7h0"/><path class="b s2" d="M338.3 207.8h0M326.2 207.7h0M347.3 214.3h0M327.5 206.6h0"/><path class="r s2" d="M350.0 210.7h0M350.5 212.4h0"/><path class="B s1" d="M355.3 216.9h0M331.6 216.2h0M357.2 215.7h0M339.9 217.7h0M352.8 206.6h0"/><path class="R s1" d="M324.8 207.9h0M313.3 209.6h0M308.9 210.4h0M312.3 210.8h0"/><path class="b s1" d="M311.4 208.3h0M304.3 209.3h0M322.1 209.0h0M322.1 208.1h0M352.0 210.9h0M358.0 212.5h0M341.5 205.7h0M326.1 211.0h0M328.2 209.0h0M330.8 212.7h0M323.5 208.7h0M336.2 209.0h0M326.3 208.7h0"/><path class="g s1" d="M329.2 214.1h0M351.4 215.4h0M345.1 212.4h0M343.4 215.7h0"/><path class="k s1" d="M351.0 204.7h0M340.1 215.0h0M334.4 217.9h0M357.0 209.9h0"/><path class="l s1" d="M332.8 207.8h0"/><path class="p s1" d="M317.5 204.1h0"/><path class="r s1" d="M343.1 210.1h0M317.1 203.2h0M309.4 206.9h0M319.5 208.7h0M335.3 209.7h0M344.0 214.7h0M314.4 209.7h0M351.1 212.0h0M354.0 212.5h0M354.3 206.6h0M330.2 212.9h0M318.8 203.7h0M340.2 208.3h0M315.6 205.7h0M336.7 204.2h0M334.3 217.1h0"/><path class="w s1" d="M321.4 204.7h0M352.3 212.3h0M321.3 204.7h0M334.2 214.8h0M350.9 213.0h0M344.5 210.7h0M355.6 211.6h0M351.3 213.1h0M348.6 215.4h0M319.5 203.0h0M328.4 212.1h0M357.0 212.5h0M315.9 208.5h0M353.6 208.3h0M353.1 214.1h0"/><path class="B s0" d="M353.4 215.5h0M326.8 213.5h0M341.7 214.8h0M308.0 208.1h0M340.9 212.6h0M355.1 217.4h0"/><path class="R s0" d="M349.8 215.9h0M316.6 208.1h0M314.2 210.2h0M314.4 210.3h0"/><path class="b s0" d="M317.3 209.2h0M332.3 213.2h0M357.9 212.6h0M301.9 210.4h0M331.0 207.3h0M324.4 207.1h0M351.5 205.9h0M321.5 209.6h0M327.3 212.4h0M347.2 214.8h0M336.0 207.8h0M325.6 206.5h0M323.3 207.5h0M331.6 206.4h0M334.4 208.0h0M332.5 205.6h0M305.6 210.4h0M353.2 214.9h0M323.8 213.8h0M340.4 212.1h0M344.0 205.1h0M343.5 208.2h0M345.7 217.7h0M351.1 217.9h0M325.2 211.4h0"/><path class="g s0" d="M356.6 213.9h0M330.6 216.9h0M304.3 209.0h0M344.0 209.6h0"/><path class="k s0" d="M340.6 211.8h0M358.4 209.1h0M323.6 210.4h0M333.7 211.1h0"/><path class="l s0" d="M327.0 209.0h0"/><path class="p s0" d="M324.3 208.6h0"/><path class="r s0" d="M318.9 207.3h0M315.8 207.2h0M308.5 206.8h0M340.6 207.0h0M339.3 206.8h0M345.6 206.7h0M356.7 210.5h0M312.4 206.5h0M319.3 211.3h0M356.4 208.6h0M351.6 212.2h0M354.5 212.6h0M340.4 214.2h0M316.4 206.6h0M335.8 206.3h0"/><path class="w s0" d="M334.3 206.7h0M345.1 204.4h0M343.2 212.1h0M307.2 209.0h0M336.0 211.9h0M323.6 205.6h0M307.8 208.6h0M320.0 206.7h0M350.7 215.4h0M321.5 205.7h0M353.7 218.6h0M343.4 214.1h0M308.1 210.3h0M342.4 211.7h0"/><path class="B s2" d="M352.6 215.1h0"/><path class="b s2" d="M353.9 211.1h0M358.1 211.4h0M327.2 211.1h0M332.2 211.8h0"/><path class="p s2" d="M315.0 203.2h0"/><path class="r s2" d="M318.3 210.6h0"/><path class="B s1" d="M347.1 216.1h0M342.3 217.8h0M350.0 217.5h0M321.7 209.9h0M356.5 216.0h0M341.3 218.9h0M326.3 211.1h0M333.2 214.6h0M325.3 213.8h0"/><path class="R s1" d="M353.2 218.7h0M334.7 210.7h0M350.0 215.2h0M325.2 207.9h0"/><path class="b s1" d="M328.4 204.4h0M349.6 206.7h0M357.8 212.6h0M329.1 208.1h0M332.4 208.5h0M308.0 208.6h0M342.1 217.7h0M344.4 209.8h0M344.5 209.9h0M316.1 209.2h0M322.4 208.6h0M324.2 210.8h0"/><path class="g s1" d="M339.2 217.4h0M332.7 217.3h0M317.8 207.6h0M317.2 208.2h0M351.6 213.3h0"/><path class="k s1" d="M334.2 216.4h0M351.4 205.2h0M323.0 210.7h0M316.8 210.4h0M315.9 207.9h0"/><path class="r s1" d="M350.8 215.0h0M355.9 208.7h0M300.7 209.4h0M317.0 206.2h0M319.1 208.3h0M350.0 213.0h0M320.5 207.5h0M319.2 206.8h0M316.3 203.2h0M316.8 207.4h0M315.5 201.9h0M316.9 207.5h0M355.7 209.0h0M340.8 213.7h0"/><path class="w s1" d="M351.2 209.5h0M325.4 206.4h0M323.4 205.8h0M351.6 209.2h0M350.4 208.2h0M342.3 212.4h0M334.7 206.4h0M337.9 213.4h0M330.2 213.0h0M328.1 210.8h0M352.4 212.7h0M355.1 209.4h0M348.3 215.8h0M319.4 205.9h0M311.4 204.1h0M326.9 205.0h0M312.5 207.7h0M356.5 211.2h0M320.8 205.2h0M326.8 209.3h0"/><path class="B s0" d="M351.7 207.4h0M325.2 213.0h0M321.8 211.1h0M316.6 208.9h0M342.5 212.2h0M342.7 212.9h0M341.4 215.4h0M355.1 217.5h0M352.5 208.0h0"/><path class="R s0" d="M319.1 210.0h0M315.8 208.0h0M357.1 209.0h0M339.7 214.6h0M317.8 207.8h0M315.5 208.4h0"/><path class="b s0" d="M339.9 213.2h0M351.5 210.6h0M303.7 210.3h0M323.8 207.0h0M342.2 208.3h0M352.5 213.2h0M337.3 206.2h0M325.2 207.2h0M328.0 207.7h0M347.8 214.3h0M311.4 208.9h0M322.8 209.1h0M336.2 217.7h0M342.3 205.2h0M354.9 211.7h0M334.0 212.9h0M337.0 214.9h0M330.3 211.3h0M323.1 206.5h0M347.4 211.6h0M331.8 212.1h0M331.2 213.5h0M333.5 211.7h0"/><path class="g s0" d="M305.7 210.4h0M350.5 215.3h0M311.1 210.4h0M336.5 214.3h0M334.3 217.0h0M350.3 214.5h0M330.7 215.1h0M340.5 205.5h0M343.7 214.1h0M312.4 208.6h0M341.6 219.1h0"/><path class="k s0" d="M348.1 210.5h0M343.0 216.6h0"/><path class="l s0" d="M353.6 212.2h0"/><path class="p s0" d="M314.2 202.3h0"/><path class="r s0" d="M310.7 207.4h0M313.2 204.7h0M349.4 209.1h0M312.2 207.4h0M316.2 206.7h0M319.0 209.1h0M324.9 208.7h0M357.0 209.8h0M325.0 209.1h0M311.3 207.2h0M324.4 204.8h0M355.8 213.8h0M318.2 206.3h0M336.7 204.3h0"/><path class="w s0" d="M335.5 215.0h0M311.4 207.8h0M324.6 205.8h0M350.1 205.1h0M330.3 205.7h0M343.7 209.3h0M320.5 210.1h0M308.0 210.0h0M345.2 219.4h0M341.1 210.1h0M353.2 208.0h0M344.4 209.1h0M357.8 214.8h0M312.0 204.0h0M316.8 202.4h0M341.4 214.1h0M310.0 207.6h0M306.7 208.7h0M348.9 207.5h0M344.7 205.8h0M328.1 210.3h0M353.6 212.1h0M341.2 206.4h0"/></g>
<g><path class="z" d="M300.3 243.7L302.2 243.2L304.2 242.7L306.1 242.4L308.1 242.2L309.8 241.1L311.5 239.5L312.7 238.1L313.9 236.7L315.3 236.2L316.8 235.7L318.2 236.9L319.7 238.0L320.9 239.8L322.1 241.7L323.3 240.9L324.6 240.1L325.8 238.9L327.0 237.7L328.2 238.6L329.4 239.6L330.6 241.7L331.8 243.8L333.5 242.4L335.2 240.9L338.1 240.5L341.0 240.0L344.9 239.9L348.8 239.9L351.7 240.2L354.6 240.5L356.6 242.0L358.5 243.6L359.5 244.2L360.1 245.6L360.3 247.4L360.1 249.3L359.5 250.7L358.5 251.3L356.6 253.2L354.6 255.0L351.7 254.7L348.8 254.4L344.9 254.7L341.0 255.0L338.1 254.7L335.2 254.4L333.5 253.5L331.8 252.6L330.6 251.4L329.4 250.2L328.2 250.0L327.0 249.7L325.8 249.1L324.6 248.4L323.3 247.9L322.1 247.4L320.9 246.6L319.7 245.9L318.2 245.8L316.8 245.7L315.3 245.5L313.9 245.4L312.7 244.9L311.5 244.5L309.8 244.7L308.1 245.3L306.1 245.6L304.2 245.8L302.2 245.7L300.3 245.7Z"/><path class="R s2" d="M312.7 243.7h0M357.0 251.8h0"/><path class="b s2" d="M329.5 241.4h0M333.8 243.8h0M353.4 249.0h0"/><path class="r s2" d="M350.7 241.9h0"/><path class="B s1" d="M315.8 239.3h0M324.3 242.4h0M321.4 246.3h0"/><path class="R s1" d="M349.6 250.7h0M309.1 242.9h0M312.1 243.1h0M349.7 244.7h0"/><path class="b s1" d="M320.9 241.3h0M345.4 248.0h0M328.1 241.7h0M337.8 245.6h0M334.3 240.5h0M348.4 249.8h0M348.9 248.8h0M343.7 245.7h0M339.7 252.7h0M336.7 245.7h0M328.3 240.4h0M325.5 245.8h0M339.9 246.9h0M328.4 249.2h0M342.1 241.1h0M332.8 250.6h0M328.8 245.2h0M339.9 248.1h0M329.7 241.3h0M313.3 241.6h0M327.4 240.6h0M328.1 246.3h0"/><path class="g s1" d="M342.3 242.0h0M322.1 244.5h0M345.6 242.3h0M328.7 249.7h0M329.0 239.9h0M355.2 253.0h0M350.5 252.8h0M349.8 249.3h0"/><path class="k s1" d="M330.2 249.9h0M351.4 240.7h0M335.2 241.7h0M311.6 241.0h0"/><path class="l s1" d="M338.3 245.8h0M326.3 248.6h0"/><path class="p s1" d="M307.3 243.1h0"/><path class="r s1" d="M322.0 244.0h0M328.9 242.9h0M351.1 245.4h0M353.9 246.5h0M348.1 246.9h0M326.7 242.8h0M349.4 245.3h0M313.9 238.6h0M323.0 243.6h0M304.9 244.2h0M356.8 252.1h0M351.6 249.7h0M326.7 249.9h0M328.7 240.0h0"/><path class="w s1" d="M332.2 243.7h0M346.3 254.3h0M341.3 254.8h0M321.6 244.7h0M328.9 244.3h0M336.8 246.8h0M341.1 240.7h0M357.7 246.1h0M315.0 241.7h0M353.9 248.9h0M348.4 239.3h0M354.7 248.9h0M350.3 253.3h0M323.7 248.6h0M311.8 240.3h0M319.3 238.4h0"/><path class="B s0" d="M323.6 247.6h0M332.7 253.5h0M334.6 252.9h0M334.1 248.1h0M322.0 245.5h0M331.4 249.2h0M331.8 240.9h0M341.1 254.0h0M339.0 241.5h0M337.5 256.2h0M341.9 255.8h0M304.1 245.6h0M326.5 247.7h0M324.3 242.5h0"/><path class="R s0" d="M347.9 251.0h0M311.0 243.7h0M339.9 255.0h0M310.3 244.4h0M338.1 255.2h0M354.0 254.2h0"/><path class="b s0" d="M318.5 240.0h0M326.9 250.6h0M338.7 246.3h0M331.8 245.2h0M322.4 248.1h0M330.3 248.3h0M318.1 244.1h0M342.5 248.7h0M329.9 245.4h0M358.1 251.0h0M344.6 249.1h0M319.2 239.9h0M336.7 253.0h0M334.3 247.8h0M316.1 240.0h0M326.4 244.7h0M318.2 239.7h0M332.3 249.4h0M337.7 240.8h0M343.9 241.5h0M357.2 250.3h0M319.0 243.3h0M329.3 240.5h0M344.2 245.0h0M356.2 246.6h0M349.3 242.0h0"/><path class="g s0" d="M321.7 246.3h0M359.4 245.8h0M355.4 250.0h0M329.9 247.6h0M318.0 245.8h0"/><path class="k s0" d="M358.2 248.2h0M340.4 247.7h0M332.4 243.8h0M356.4 248.4h0"/><path class="r s0" d="M351.1 246.7h0M305.0 243.3h0M349.6 239.3h0M324.1 244.2h0M357.8 246.7h0M329.4 246.9h0M311.7 243.1h0M327.8 243.0h0M317.8 245.4h0M345.8 242.7h0M335.5 245.6h0"/><path class="w s0" d="M337.0 247.3h0M343.3 244.4h0M351.4 242.1h0M348.7 248.3h0M311.5 240.2h0M357.8 241.7h0M352.4 241.3h0M354.5 242.3h0M358.2 244.0h0M348.6 244.8h0M343.7 249.3h0M326.2 247.4h0M314.0 237.7h0M340.4 247.5h0"/><path class="B s2" d="M345.0 255.5h0"/><path class="R s2" d="M340.3 255.8h0M331.6 251.8h0"/><path class="b s2" d="M353.2 248.9h0M319.5 238.4h0M337.5 247.8h0M342.0 248.8h0"/><path class="r s2" d="M314.4 242.9h0M353.2 243.6h0"/><path class="B s1" d="M327.0 245.6h0M358.9 246.5h0M329.9 249.2h0M340.6 245.3h0"/><path class="R s1" d="M307.1 243.6h0M306.1 244.3h0M305.7 244.3h0M317.0 244.1h0M348.7 244.4h0M350.7 245.2h0"/><path class="b s1" d="M332.2 250.2h0M358.1 244.1h0M338.0 251.6h0M324.2 242.6h0M344.9 249.7h0M326.3 247.9h0M346.9 249.7h0M338.1 246.1h0M331.1 249.9h0M328.5 248.7h0M329.3 244.9h0M335.1 251.2h0M316.1 239.3h0M326.1 245.5h0M337.0 246.2h0M324.1 243.1h0M339.8 253.6h0M357.4 244.9h0M321.5 241.6h0M319.0 242.9h0M323.9 242.5h0"/><path class="g s1" d="M352.6 249.6h0M353.3 252.7h0M314.1 242.2h0M352.0 252.1h0M329.0 249.7h0M335.8 245.6h0"/><path class="k s1" d="M352.9 248.6h0M337.2 252.2h0M351.3 249.6h0M331.1 246.1h0M341.1 252.5h0"/><path class="l s1" d="M319.1 239.5h0"/><path class="p s1" d="M306.4 243.9h0"/><path class="r s1" d="M307.4 242.2h0M349.3 239.1h0M355.7 243.7h0M356.8 244.7h0M318.6 241.5h0M318.3 241.7h0M304.6 244.3h0M317.2 244.7h0M354.5 249.6h0M325.7 250.2h0M323.2 244.5h0M354.3 254.0h0"/><path class="w s1" d="M323.5 243.6h0M328.5 244.1h0M321.4 242.7h0M319.7 240.0h0M344.0 244.5h0M324.9 243.6h0M318.7 244.6h0M317.5 238.8h0M315.6 236.7h0M326.5 245.7h0M329.5 246.0h0M353.5 247.3h0M343.6 248.2h0M335.4 244.9h0M336.0 246.3h0M349.7 241.0h0M352.5 252.3h0"/><path class="B s0" d="M356.5 253.8h0M336.9 253.7h0M324.1 247.2h0M343.7 240.9h0M349.4 241.6h0M334.1 250.8h0"/><path class="R s0" d="M324.9 251.1h0M326.1 249.6h0M344.7 246.3h0M315.9 243.3h0M312.0 242.8h0M334.7 245.6h0M351.9 245.3h0M315.5 244.4h0"/><path class="b s0" d="M338.8 250.8h0M361.2 248.6h0M329.5 248.0h0M318.9 240.6h0M321.9 245.3h0M329.9 249.4h0M355.5 247.6h0M355.5 243.1h0M356.7 246.0h0M333.6 253.1h0M318.6 244.2h0M323.7 241.2h0M310.1 240.4h0M305.2 245.5h0M329.0 244.2h0M341.0 246.6h0M330.0 244.4h0M324.2 247.0h0M351.1 248.3h0M331.4 245.7h0"/><path class="g s0" d="M333.0 251.0h0M341.8 250.8h0M319.5 237.9h0M321.9 242.5h0M319.5 243.2h0M346.7 240.5h0M311.3 239.9h0M312.6 245.3h0M343.6 252.3h0"/><path class="k s0" d="M325.3 247.9h0M357.3 246.0h0M327.7 242.6h0"/><path class="l s0" d="M324.4 247.4h0"/><path class="r s0" d="M323.1 244.1h0M324.3 244.4h0M338.8 255.3h0M315.3 236.9h0M324.8 244.2h0M313.2 239.7h0"/><path class="w s0" d="M325.0 246.9h0M311.3 242.0h0M347.9 245.0h0M336.6 240.4h0M324.8 239.0h0M339.3 245.0h0M344.1 244.4h0M356.2 245.4h0M358.1 246.2h0M354.0 246.1h0M354.7 245.6h0M329.7 240.0h0M332.3 243.4h0M322.4 244.9h0M326.4 245.5h0M332.0 248.6h0M326.6 239.6h0M325.2 243.0h0M319.5 238.8h0M314.0 244.1h0"/><path class="b s2" d="M311.6 240.8h0M340.4 254.4h0M358.0 243.3h0M315.3 245.4h0"/><path class="r s2" d="M349.5 251.5h0M340.2 239.9h0"/><path class="B s1" d="M303.1 244.4h0M341.2 244.6h0M349.1 253.3h0M340.1 241.6h0M336.7 249.4h0"/><path class="R s1" d="M311.2 243.5h0M327.5 239.6h0M350.9 250.7h0"/><path class="b s1" d="M313.9 240.2h0M336.9 248.7h0M356.5 246.1h0M301.3 245.1h0M329.6 244.1h0M328.7 249.2h0M302.6 245.2h0M321.8 242.5h0M337.3 249.7h0M358.3 244.1h0M335.5 243.8h0M342.8 254.5h0M341.6 240.2h0M350.1 242.4h0M316.3 241.7h0M340.5 249.9h0M347.2 249.7h0M329.1 245.3h0M345.4 248.4h0"/><path class="g s1" d="M325.7 242.4h0M333.5 250.2h0M348.0 245.1h0M317.9 245.1h0M319.2 240.8h0M340.2 250.8h0"/><path class="k s1" d="M314.4 244.7h0M354.0 242.0h0M338.4 252.3h0M329.4 250.3h0M359.6 248.3h0"/><path class="l s1" d="M326.6 244.1h0"/><path class="r s1" d="M354.3 249.1h0M340.0 244.6h0M319.2 237.5h0M322.0 243.4h0M345.7 246.3h0M324.6 240.4h0M326.4 250.2h0M346.8 242.2h0M341.3 243.9h0M311.2 239.6h0M324.7 244.1h0M331.1 242.4h0M346.8 250.5h0M329.9 243.5h0M326.1 242.8h0M352.8 242.8h0M318.8 242.0h0M321.6 243.7h0M303.3 243.1h0M303.2 243.5h0M347.5 247.0h0M347.5 240.4h0M330.1 242.2h0"/><path class="w s1" d="M325.8 247.2h0M317.3 241.7h0M336.5 243.9h0M333.3 252.1h0M305.8 245.5h0M341.2 247.1h0M355.7 245.5h0M310.5 241.5h0M313.6 242.4h0M334.2 249.3h0M329.6 243.5h0M349.5 240.7h0M354.2 250.9h0M335.8 246.3h0M319.7 241.3h0M331.2 241.4h0M354.5 245.5h0"/><path class="B s0" d="M326.9 247.7h0M339.8 249.7h0M336.6 254.8h0M335.4 252.2h0M317.5 241.3h0"/><path class="R s0" d="M348.8 252.2h0M318.8 246.0h0M353.6 250.5h0M312.3 243.6h0M340.9 251.8h0M353.9 243.7h0"/><path class="b s0" d="M336.0 240.1h0M342.6 255.4h0M316.3 240.3h0M331.3 240.3h0M356.6 242.7h0M336.2 244.7h0M342.0 240.8h0M353.1 245.2h0M332.8 246.9h0M332.0 248.9h0M337.7 249.2h0M335.1 248.5h0M352.8 253.0h0M354.2 242.0h0M329.1 241.0h0M330.4 248.6h0M329.1 241.8h0M355.5 253.3h0M330.0 245.5h0M338.0 242.3h0M351.6 239.5h0"/><path class="g s0" d="M332.5 248.0h0M314.9 242.6h0"/><path class="k s0" d="M352.8 247.2h0M356.4 245.6h0M327.9 248.7h0M326.6 244.7h0M322.5 245.8h0M335.5 243.7h0M356.3 250.8h0"/><path class="l s0" d="M334.6 244.2h0"/><path class="p s0" d="M351.4 245.8h0M354.1 244.3h0"/><path class="r s0" d="M347.4 250.7h0M355.5 244.7h0M307.5 241.8h0M325.3 243.9h0M348.1 246.8h0M316.5 243.6h0M312.6 243.4h0M340.7 251.5h0M320.8 239.0h0M318.4 241.5h0M329.9 251.3h0M343.3 243.6h0M330.5 243.1h0M354.3 254.6h0M326.7 238.1h0M329.9 247.1h0M327.1 249.4h0M350.0 250.2h0M330.0 246.8h0M345.5 246.1h0"/><path class="w s0" d="M333.8 246.6h0M357.8 247.7h0M318.6 237.5h0M311.6 241.0h0M317.7 239.5h0M359.9 247.0h0M352.2 244.3h0M311.9 237.9h0M344.0 246.2h0M315.0 242.5h0M318.1 237.3h0M327.4 244.5h0M332.1 243.7h0M346.8 245.1h0M339.8 243.6h0M333.6 245.7h0"/></g>
<g><path class="z" d="M364.5 67.6L366.5 68.3L368.4 69.0L370.4 69.7L372.4 70.4L374.0 70.7L375.5 71.1L376.7 69.9L377.8 69.0L379.8 68.9L381.7 68.7L383.7 68.5L385.7 68.3L387.2 68.7L388.6 69.0L390.1 67.4L391.6 65.9L393.3 64.6L395.0 63.3L396.7 63.1L398.3 62.9L400.1 62.1L401.9 61.3L404.9 61.2L407.8 61.1L411.3 61.2L414.7 61.2L417.4 62.2L420.2 63.1L421.9 64.9L423.6 66.6L424.5 67.2L425.0 68.4L425.2 70.1L425.0 71.7L424.5 73.0L423.6 73.5L421.9 74.5L420.2 75.5L417.4 76.2L414.7 76.9L411.3 75.8L407.8 74.8L404.9 74.6L401.9 74.4L400.1 74.7L398.3 75.0L396.7 75.6L395.0 76.2L393.3 75.9L391.6 75.7L390.1 76.0L388.6 76.4L387.2 77.4L385.7 78.3L383.7 78.2L381.7 78.0L379.8 77.3L377.8 76.5L376.7 75.2L375.5 73.7L374.0 72.8L372.4 71.9L370.4 71.2L368.4 70.5L366.5 69.7L364.5 69.0Z"/><path class="R s2" d="M392.6 74.4h0"/><path class="b s2" d="M389.0 72.2h0"/><path class="p s2" d="M410.7 64.2h0"/><path class="r s2" d="M415.6 69.1h0M390.0 69.2h0"/><path class="B s1" d="M414.3 68.5h0M403.2 71.0h0M376.1 72.8h0M397.8 73.4h0M388.3 75.6h0M383.3 70.7h0"/><path class="R s1" d="M416.6 76.8h0M407.9 64.3h0M415.9 74.6h0M401.7 69.8h0M408.3 73.2h0"/><path class="b s1" d="M376.9 72.8h0M373.8 71.0h0M380.9 72.7h0M397.8 69.8h0M420.1 66.2h0M405.4 66.6h0M392.0 66.5h0M392.5 68.3h0M388.4 76.3h0M378.5 73.0h0M406.9 70.9h0M406.7 67.1h0M405.4 66.1h0M400.4 68.5h0M379.5 74.5h0"/><path class="g s1" d="M401.8 73.6h0M372.7 71.9h0M420.2 71.2h0M391.4 67.8h0M402.0 65.6h0M392.8 65.2h0M380.2 76.8h0M396.2 71.9h0M422.5 73.2h0"/><path class="l s1" d="M400.5 62.5h0"/><path class="r s1" d="M418.7 70.0h0M406.1 62.1h0M416.5 70.3h0M391.2 68.9h0M388.0 72.0h0M401.1 64.2h0M397.2 75.2h0M401.6 70.2h0M397.6 67.0h0M404.6 64.0h0M419.7 67.0h0M393.6 67.7h0M421.1 68.2h0M404.4 65.3h0M377.0 70.7h0M405.0 69.8h0M404.5 74.0h0M412.1 65.4h0M414.1 66.7h0M415.6 72.4h0"/><path class="w s1" d="M387.1 71.4h0M398.0 64.4h0M391.4 73.9h0M410.5 68.4h0M386.0 71.1h0M389.4 69.4h0M399.7 67.0h0M388.7 69.3h0M397.1 68.4h0M414.6 65.7h0M396.9 66.9h0M423.5 73.3h0"/><path class="B s0" d="M375.8 74.5h0"/><path class="R s0" d="M365.9 69.6h0M394.2 69.4h0M424.0 73.3h0M396.5 75.4h0M409.3 73.6h0M406.4 72.8h0M411.2 67.0h0M424.5 72.1h0"/><path class="b s0" d="M399.9 68.4h0M390.4 73.7h0M381.6 74.7h0M397.1 69.0h0M370.5 69.8h0M408.3 66.6h0M395.4 72.5h0M387.5 75.0h0M419.3 65.8h0M389.6 69.0h0M422.8 74.9h0M372.3 71.0h0M397.7 62.0h0M425.0 68.6h0"/><path class="g s0" d="M420.7 72.1h0M411.7 73.9h0M395.5 75.6h0M397.9 64.7h0M388.2 71.7h0M374.8 73.9h0M420.3 71.3h0M422.0 64.4h0M394.3 71.6h0M408.0 72.5h0M422.6 75.6h0M383.4 72.5h0"/><path class="k s0" d="M398.6 66.2h0M405.1 67.0h0M392.4 74.4h0M396.2 74.1h0"/><path class="l s0" d="M389.1 72.5h0M400.5 67.6h0"/><path class="r s0" d="M402.4 69.9h0M393.8 70.0h0M396.7 66.3h0M402.1 67.9h0M396.3 64.2h0M425.5 65.4h0M421.3 67.1h0M395.9 64.4h0M410.3 71.1h0M415.7 70.9h0M404.1 66.2h0M418.6 62.9h0M377.2 70.9h0M420.4 67.5h0M413.5 67.7h0M410.0 62.2h0M396.7 71.9h0M401.3 66.0h0M391.1 69.6h0M423.9 71.4h0M408.0 70.0h0"/><path class="w s0" d="M401.4 67.1h0M380.4 76.7h0M380.6 76.8h0M388.6 71.8h0M382.0 72.0h0M384.1 72.9h0M383.2 71.0h0M402.3 64.8h0M376.9 70.8h0M400.9 68.1h0M389.3 72.9h0M424.8 70.6h0M399.6 64.3h0M383.4 76.6h0"/><path class="b s2" d="M391.8 65.1h0M379.6 72.9h0M408.5 61.8h0"/><path class="r s2" d="M418.8 66.8h0"/><path class="B s1" d="M405.0 71.8h0"/><path class="R s1" d="M394.0 75.2h0M417.5 75.7h0M416.4 72.1h0M392.1 74.8h0M421.2 66.2h0M407.7 74.2h0M416.2 77.3h0M394.0 74.8h0"/><path class="b s1" d="M402.3 62.7h0M382.3 73.9h0M386.8 70.3h0M385.3 70.3h0M400.9 70.8h0M410.9 63.1h0M416.7 67.0h0M382.9 71.6h0M381.3 69.4h0M384.3 73.9h0M383.5 69.6h0M382.2 72.1h0"/><path class="g s1" d="M410.8 75.3h0M394.6 75.5h0M411.2 71.1h0M394.6 73.3h0M411.4 70.6h0"/><path class="k s1" d="M384.2 73.4h0"/><path class="l s1" d="M419.1 64.7h0"/><path class="p s1" d="M398.3 64.7h0"/><path class="r s1" d="M398.0 67.5h0M415.4 72.0h0M421.4 68.1h0M416.1 69.0h0M375.3 72.5h0M377.0 71.2h0M399.5 65.7h0M405.9 69.2h0M379.2 76.0h0M409.8 70.3h0M402.3 71.9h0M425.2 65.7h0M413.6 71.1h0M409.2 63.9h0M414.4 73.6h0M393.9 70.5h0M418.2 72.0h0M408.4 73.8h0M385.6 72.7h0M398.1 67.0h0"/><path class="w s1" d="M415.0 64.2h0M395.3 70.1h0M395.6 71.2h0M400.6 67.9h0M378.7 74.9h0M424.4 67.6h0M379.4 76.5h0M389.6 69.3h0M417.5 74.6h0M409.1 66.3h0M380.8 71.7h0M418.1 66.2h0M399.2 67.6h0M388.0 72.3h0M392.9 69.6h0M397.0 63.8h0M401.2 63.5h0M414.7 69.1h0M378.9 68.6h0"/><path class="B s0" d="M418.9 62.1h0M412.3 75.1h0M380.1 74.6h0M390.6 74.4h0M397.4 73.3h0M398.0 72.8h0"/><path class="R s0" d="M405.7 74.3h0M399.1 71.4h0M406.6 61.7h0M414.0 73.4h0M420.0 70.6h0M380.4 68.2h0M392.1 74.9h0"/><path class="b s0" d="M389.7 72.3h0M379.6 72.8h0M397.2 69.3h0M412.1 75.1h0M398.1 63.6h0M383.5 73.0h0M394.7 64.7h0M386.5 70.9h0M419.4 66.0h0M375.6 72.0h0M381.2 72.5h0M416.5 65.7h0M400.4 75.3h0M394.0 72.3h0"/><path class="g s0" d="M385.3 71.2h0M419.2 70.4h0M368.1 70.0h0M396.2 66.3h0M395.2 75.7h0M384.0 76.8h0M392.6 66.2h0M381.2 74.6h0M375.5 71.1h0M384.0 76.7h0M369.7 70.5h0M400.0 74.0h0"/><path class="k s0" d="M390.7 72.7h0M378.1 70.7h0"/><path class="l s0" d="M405.1 66.2h0"/><path class="p s0" d="M417.9 67.5h0"/><path class="r s0" d="M419.2 70.7h0M367.3 69.4h0M422.0 67.5h0M397.3 70.7h0M377.2 70.6h0M385.4 72.5h0M406.0 61.2h0M406.8 75.6h0M374.9 72.4h0M423.4 65.6h0M408.1 67.4h0M406.1 70.0h0M403.9 64.2h0M419.8 68.2h0M423.2 67.4h0M399.8 71.5h0M423.5 72.4h0M422.5 69.2h0M399.7 65.5h0M416.5 69.6h0"/><path class="w s0" d="M389.0 74.2h0M400.3 66.8h0M380.8 71.4h0M383.9 71.7h0M423.9 69.6h0M392.9 67.5h0M415.0 76.4h0M411.5 68.1h0M389.3 73.7h0M395.7 66.9h0M393.7 68.7h0M393.0 68.4h0M389.5 69.6h0M383.7 76.7h0M393.5 67.8h0M403.5 68.5h0M418.5 66.5h0M402.5 63.6h0M383.2 70.8h0M413.7 69.6h0M424.9 72.6h0"/><path class="R s2" d="M399.8 73.0h0M422.2 73.0h0"/><path class="b s2" d="M382.4 74.0h0M411.0 60.2h0M397.6 68.4h0M384.2 76.1h0M386.2 73.7h0M380.5 78.0h0"/><path class="l s2" d="M411.7 62.6h0"/><path class="r s2" d="M418.6 67.9h0M421.3 69.0h0M405.1 68.8h0M410.8 66.2h0M410.0 67.2h0"/><path class="B s1" d="M404.2 72.0h0M388.3 74.9h0M394.7 72.9h0M406.2 71.4h0M412.6 75.6h0"/><path class="R s1" d="M377.7 73.9h0M414.6 66.5h0M402.3 73.2h0M409.6 72.6h0M421.1 73.5h0M418.8 73.6h0M416.5 74.1h0"/><path class="b s1" d="M397.5 62.8h0M422.0 64.0h0M420.0 76.5h0M382.9 69.6h0M377.0 72.7h0M382.4 75.1h0M399.2 68.9h0M393.2 71.9h0M394.8 68.1h0M405.2 71.6h0M392.1 67.9h0M391.7 67.1h0M387.7 74.5h0M399.4 63.1h0M400.0 68.7h0"/><path class="g s1" d="M421.6 71.8h0M389.1 75.7h0M414.2 76.5h0M400.7 71.5h0M422.2 71.3h0M391.3 76.3h0M386.4 76.2h0M421.2 69.6h0M383.4 72.8h0"/><path class="k s1" d="M411.3 64.5h0M387.7 73.0h0M417.5 61.7h0"/><path class="r s1" d="M395.8 65.0h0M418.7 71.9h0M402.4 63.8h0M414.9 70.9h0M415.5 70.3h0M409.6 62.5h0M415.3 69.6h0M421.5 66.4h0M405.5 70.2h0M406.7 68.4h0M399.0 70.4h0M401.6 65.9h0M415.2 66.1h0M406.1 62.6h0M400.0 73.3h0M420.9 70.0h0"/><path class="w s1" d="M418.8 66.7h0M403.8 66.3h0M403.3 61.6h0M397.7 70.6h0M384.5 71.5h0M382.4 71.2h0M380.9 75.0h0M419.2 63.0h0M407.8 65.8h0M388.9 70.7h0M376.8 71.6h0M398.4 69.7h0M391.3 73.3h0M391.7 67.9h0M390.3 67.6h0M375.5 71.3h0M377.3 69.3h0M387.8 72.4h0"/><path class="B s0" d="M422.4 74.3h0M415.3 76.1h0M400.9 71.3h0M397.4 72.6h0M406.2 72.1h0M376.3 75.7h0M397.9 75.4h0M376.7 74.0h0"/><path class="R s0" d="M410.5 72.3h0M410.7 73.3h0M393.1 74.2h0M390.2 68.9h0M374.8 73.2h0M424.0 72.1h0M404.0 66.0h0M398.6 72.5h0M366.0 68.5h0M391.3 75.5h0M408.8 73.0h0"/><path class="b s0" d="M382.7 72.4h0M397.8 68.8h0M393.1 71.5h0M381.2 73.3h0M384.6 74.8h0M383.8 75.4h0M389.6 71.9h0M389.8 71.5h0M408.0 61.1h0M419.8 66.5h0M379.9 70.3h0M391.9 66.1h0M392.5 68.7h0M386.1 73.4h0M400.5 68.5h0"/><path class="g s0" d="M419.9 76.0h0M403.4 70.2h0M378.3 75.8h0M389.3 72.8h0M395.6 75.4h0M391.2 72.6h0M371.7 71.0h0M402.3 70.6h0"/><path class="k s0" d="M392.7 68.8h0"/><path class="l s0" d="M372.6 71.8h0M407.1 66.7h0"/><path class="p s0" d="M403.7 65.0h0"/><path class="r s0" d="M421.4 73.4h0M417.0 75.2h0M365.7 68.6h0M419.4 68.3h0M400.3 65.2h0M409.3 68.9h0M422.2 67.7h0M397.1 67.2h0M409.7 63.5h0M408.5 71.0h0M420.9 67.9h0M421.2 72.9h0M413.4 71.2h0M420.3 70.4h0M367.3 69.5h0M409.5 70.3h0M419.0 76.6h0M395.0 69.8h0M417.2 72.2h0M425.0 65.1h0M421.7 67.6h0M415.7 66.5h0"/><path class="w s0" d="M391.7 73.7h0M425.0 70.5h0M377.0 74.2h0M393.2 73.9h0M382.9 71.0h0M418.8 66.3h0M387.7 71.0h0M409.8 75.1h0M425.5 70.2h0M399.0 63.4h0M377.2 73.7h0M383.3 70.5h0M423.6 70.6h0M421.7 69.4h0M422.3 70.2h0M402.9 65.0h0M385.9 78.4h0M386.7 72.7h0M396.6 68.7h0M392.5 68.2h0"/></g>
<g><path class="z" d="M364.5 103.7L366.4 103.2L368.4 102.7L370.3 102.4L372.3 102.2L374.0 100.5L375.7 99.2L376.9 98.0L378.1 96.8L379.5 96.2L381.0 95.6L382.4 96.6L383.9 97.6L385.1 99.7L386.3 101.8L387.5 100.1L388.8 98.5L390.0 97.9L391.2 97.2L392.4 98.3L393.6 99.4L394.8 101.4L396.0 103.3L397.7 102.1L399.4 100.9L402.3 100.3L405.2 99.7L409.1 100.3L413.0 100.9L415.9 100.8L418.8 100.6L420.8 102.0L422.7 103.4L423.7 104.1L424.4 105.5L424.6 107.4L424.4 109.4L423.7 110.8L422.7 111.5L420.8 112.8L418.8 114.1L415.9 114.1L413.0 114.1L409.1 113.9L405.2 113.7L402.3 114.2L399.4 114.6L397.7 113.6L396.0 112.6L394.8 111.5L393.6 110.4L392.4 110.3L391.2 110.3L390.0 109.4L388.8 108.5L387.5 108.1L386.3 107.6L385.1 106.4L383.9 105.3L382.4 106.0L381.0 106.7L379.5 106.4L378.1 106.1L376.9 105.5L375.7 104.8L374.0 105.3L372.3 105.3L370.3 105.6L368.4 105.8L366.4 105.7L364.5 105.7Z"/><path class="R s2" d="M379.3 103.8h0"/><path class="b s2" d="M388.8 99.0h0M413.6 106.4h0M390.2 104.0h0M401.4 105.1h0"/><path class="r s2" d="M375.8 100.3h0M376.8 97.7h0M389.5 101.1h0M399.0 108.4h0M375.3 99.5h0M398.6 107.6h0"/><path class="B s1" d="M392.8 108.4h0M380.2 106.3h0M380.9 106.6h0M420.6 110.5h0"/><path class="R s1" d="M390.8 97.1h0M379.6 103.4h0M377.1 105.4h0M389.5 108.7h0M406.8 111.1h0"/><path class="b s1" d="M366.0 104.3h0M413.1 106.7h0M414.0 101.4h0M418.5 100.8h0M417.1 105.7h0M422.9 110.3h0M422.1 105.2h0M418.6 109.3h0M414.8 101.1h0"/><path class="g s1" d="M416.8 102.2h0M375.6 105.0h0M364.7 105.5h0M388.8 106.2h0M421.0 108.5h0M393.1 109.3h0M404.9 113.4h0"/><path class="k s1" d="M390.3 106.6h0M389.7 105.6h0M397.0 101.8h0"/><path class="r s1" d="M397.9 109.1h0M393.3 103.1h0M396.1 112.2h0M380.7 99.0h0M392.6 102.0h0M404.2 114.5h0M412.4 108.6h0M369.2 103.3h0M401.9 109.6h0M385.8 101.4h0M386.4 101.8h0M406.1 107.1h0M406.8 110.6h0M385.9 99.9h0M388.2 102.3h0M384.6 100.0h0M405.4 105.8h0M404.2 105.7h0M385.7 103.2h0M385.4 101.3h0M394.3 107.9h0M375.7 99.3h0M381.7 99.5h0"/><path class="w s1" d="M406.8 108.2h0M390.7 101.7h0M399.5 109.6h0M402.7 106.3h0M414.2 104.5h0M390.2 102.3h0M389.1 107.5h0M382.0 101.5h0M387.6 103.7h0M391.1 97.7h0M394.1 103.7h0"/><path class="B s0" d="M393.4 107.4h0M386.1 104.8h0"/><path class="R s0" d="M377.2 105.2h0M410.0 113.4h0M381.3 103.8h0M381.4 100.0h0M397.6 113.2h0M410.0 102.1h0M376.5 103.3h0M396.2 110.3h0M381.7 104.1h0"/><path class="b s0" d="M389.9 97.2h0M420.3 108.0h0M397.4 105.5h0M388.6 99.1h0M418.7 105.3h0M418.5 105.7h0M391.5 101.4h0M415.9 107.4h0M413.2 107.0h0M411.1 102.4h0"/><path class="g s0" d="M393.2 109.0h0M380.6 105.0h0M378.9 100.8h0M391.8 107.0h0M390.5 106.7h0M396.3 107.1h0M421.6 112.9h0M398.4 111.5h0M377.3 99.5h0M420.9 102.5h0M377.3 100.8h0"/><path class="k s0" d="M390.0 101.9h0M383.4 100.7h0M394.2 109.9h0"/><path class="l s0" d="M385.6 107.0h0"/><path class="p s0" d="M382.2 98.2h0M388.8 102.3h0M392.8 110.2h0"/><path class="r s0" d="M379.3 101.3h0M392.7 104.9h0M409.2 101.3h0M377.2 97.1h0M390.7 109.5h0M390.0 99.5h0M380.9 98.0h0M397.8 112.2h0M409.7 106.8h0M422.4 108.2h0M379.5 99.6h0M393.8 111.1h0M405.8 104.3h0M393.4 104.7h0M396.2 105.0h0M409.7 105.6h0M392.7 102.5h0M402.5 104.1h0M410.4 107.4h0M392.8 103.9h0M380.7 102.3h0M397.4 102.8h0M389.5 101.3h0M394.0 109.2h0M398.0 107.5h0M385.8 101.5h0M402.1 105.5h0M378.4 100.6h0M399.2 108.1h0M391.7 97.5h0M406.4 107.4h0M401.1 109.3h0M383.7 99.2h0M407.0 104.7h0"/><path class="w s0" d="M393.2 100.6h0M411.0 105.9h0M410.0 108.6h0M396.4 106.9h0M414.9 108.7h0M420.0 103.9h0M380.0 104.4h0M382.0 106.6h0M379.0 100.1h0M410.7 101.6h0M402.4 101.4h0M415.7 105.8h0"/><path class="B s2" d="M399.2 111.1h0"/><path class="R s2" d="M378.7 103.6h0M404.4 112.7h0"/><path class="b s2" d="M394.9 110.8h0M415.5 102.9h0M387.2 104.6h0M413.4 107.0h0"/><path class="r s2" d="M378.5 98.0h0M395.8 106.3h0M399.2 104.3h0M414.0 109.7h0M397.9 104.8h0M396.5 102.5h0M382.7 99.6h0"/><path class="B s1" d="M413.5 113.2h0M384.3 104.9h0M391.1 101.8h0"/><path class="R s1" d="M390.4 98.8h0M417.2 109.7h0M368.9 105.0h0M412.7 110.4h0M396.3 113.6h0M396.8 110.5h0M422.3 107.9h0M372.1 104.8h0"/><path class="b s1" d="M417.3 106.2h0M388.2 100.8h0M391.9 98.9h0M380.1 106.1h0M414.9 101.1h0M366.6 103.2h0M390.5 103.6h0M419.8 111.2h0M421.2 109.7h0M413.9 107.4h0M420.9 106.6h0M420.0 107.6h0M393.7 106.9h0M394.3 103.5h0"/><path class="g s1" d="M390.3 107.1h0M395.0 110.4h0M407.7 113.9h0M411.0 109.5h0M390.8 100.7h0M376.3 105.4h0M385.8 105.6h0"/><path class="k s1" d="M402.4 111.2h0M414.8 102.9h0"/><path class="p s1" d="M400.6 107.5h0"/><path class="r s1" d="M392.6 104.9h0M404.1 105.8h0M402.0 111.5h0M398.2 113.8h0M396.1 103.5h0M406.6 103.5h0M396.8 112.6h0M414.9 105.3h0M402.2 110.8h0M392.7 104.5h0M390.5 110.1h0M404.7 114.1h0M378.6 104.0h0M379.8 103.2h0M386.6 100.2h0M380.5 98.1h0M395.2 107.4h0M394.1 104.8h0M383.3 99.8h0M408.5 100.3h0M403.0 102.5h0M411.0 113.4h0M408.8 106.2h0M378.5 102.9h0M399.6 108.4h0M380.4 97.6h0M394.4 107.3h0M375.9 101.2h0M379.8 97.8h0M379.5 103.9h0"/><path class="w s1" d="M395.9 109.9h0M419.6 105.4h0M386.0 103.0h0M380.0 95.5h0M421.5 106.8h0M396.5 105.4h0M418.9 106.9h0M390.6 106.8h0M392.6 99.5h0M414.2 103.1h0M402.5 101.3h0M380.7 97.0h0M405.9 112.7h0M370.6 102.6h0"/><path class="B s0" d="M366.9 104.1h0M386.4 104.5h0M421.0 110.3h0M405.8 113.7h0M409.7 109.0h0M393.1 108.0h0"/><path class="R s0" d="M407.4 110.5h0M387.7 105.8h0M388.1 106.1h0M396.4 111.3h0M403.2 110.4h0M392.1 110.2h0M395.9 110.5h0M411.9 110.2h0M394.7 108.3h0M383.3 105.7h0M391.0 110.0h0"/><path class="b s0" d="M417.6 107.0h0M390.0 105.2h0M414.7 107.8h0M390.0 105.7h0M392.6 101.4h0M388.8 99.0h0M385.4 104.6h0M380.3 105.7h0M419.5 110.9h0M392.7 101.2h0M390.3 102.7h0M418.8 110.0h0M415.0 106.6h0M386.8 104.3h0"/><path class="g s0" d="M403.9 107.2h0M391.4 107.6h0M382.8 102.1h0M373.5 102.0h0M394.0 103.5h0M412.2 107.2h0"/><path class="l s0" d="M424.0 106.8h0"/><path class="p s0" d="M408.7 106.3h0"/><path class="r s0" d="M394.3 106.2h0M393.0 103.1h0M391.4 105.3h0M399.6 101.6h0M402.0 110.4h0M412.2 101.8h0M404.8 107.0h0M414.4 104.1h0M401.3 109.0h0M378.9 99.7h0M380.4 98.9h0M409.3 101.5h0M397.0 102.3h0M382.1 102.9h0M394.6 105.5h0M398.3 103.8h0M402.2 109.3h0M380.4 101.8h0M393.4 104.7h0M381.2 103.4h0M394.6 106.7h0"/><path class="w s0" d="M413.6 108.4h0M378.1 102.0h0M413.8 103.8h0M374.4 104.6h0M399.6 112.0h0M411.3 112.3h0M380.6 97.8h0M401.3 101.5h0M383.6 101.2h0M385.6 106.2h0M385.7 103.1h0M405.0 103.1h0M395.1 101.4h0M423.5 108.0h0"/><path class="R s2" d="M409.9 112.2h0"/><path class="b s2" d="M405.0 101.1h0"/><path class="r s2" d="M416.2 104.8h0M411.6 108.5h0M393.7 104.5h0M392.5 110.0h0"/><path class="B s1" d="M417.7 106.7h0M379.4 105.7h0M413.1 112.3h0M393.1 106.9h0"/><path class="R s1" d="M416.4 105.1h0M401.9 110.2h0M388.1 106.4h0M404.5 112.9h0M396.3 110.6h0M386.1 106.7h0M391.1 108.3h0M398.8 112.8h0M399.3 105.8h0"/><path class="b s1" d="M391.7 99.7h0M417.5 102.4h0M390.2 103.7h0M415.6 107.3h0M421.0 110.7h0M367.3 104.5h0"/><path class="g s1" d="M412.6 105.1h0M415.8 109.7h0M416.2 112.9h0M377.3 98.5h0M400.2 110.5h0M386.9 99.7h0M388.8 106.1h0M401.6 114.5h0"/><path class="k s1" d="M382.2 97.2h0M414.7 104.8h0M386.8 104.5h0M397.5 103.1h0M384.1 100.9h0M393.4 101.7h0"/><path class="l s1" d="M397.5 102.2h0"/><path class="p s1" d="M392.9 103.1h0"/><path class="r s1" d="M378.3 97.1h0M399.3 114.8h0M407.0 102.3h0M392.6 106.0h0M380.5 98.5h0M394.1 99.7h0M408.4 111.9h0M369.7 103.5h0M378.6 97.5h0M410.6 112.1h0M415.3 105.1h0M377.6 97.3h0M403.0 111.4h0M381.2 99.6h0M400.2 103.5h0M397.9 106.9h0M385.6 101.7h0M380.1 98.0h0M379.9 96.7h0"/><path class="w s1" d="M388.9 100.3h0M398.4 103.2h0M419.5 106.1h0M387.3 102.2h0M417.0 105.1h0M419.3 102.3h0M369.2 105.4h0M395.5 112.8h0M420.1 105.7h0M390.9 107.6h0M403.7 106.5h0M421.2 107.0h0M419.2 105.9h0"/><path class="B s0" d="M416.4 112.7h0M420.6 106.2h0M410.7 103.8h0M423.3 111.3h0M393.4 109.0h0M394.9 112.4h0M387.3 100.6h0"/><path class="R s0" d="M401.1 112.6h0M377.3 104.4h0M389.6 109.4h0M409.8 101.1h0M398.5 103.9h0M405.7 107.9h0M380.1 103.0h0M377.8 105.0h0M396.2 111.3h0M389.9 109.1h0M387.1 106.8h0M379.0 98.1h0M399.2 101.5h0"/><path class="b s0" d="M390.7 102.9h0M388.6 98.9h0M423.4 104.5h0M391.6 101.0h0M411.8 106.5h0M419.8 108.3h0M421.8 112.5h0M410.0 110.9h0M421.9 102.2h0M418.9 108.7h0M420.7 101.5h0M388.9 99.4h0"/><path class="g s0" d="M364.8 105.8h0M415.8 113.8h0M418.2 111.6h0M422.0 109.3h0M397.9 100.9h0M409.6 110.7h0M401.0 100.9h0M416.0 111.3h0M390.9 106.2h0M374.4 104.7h0"/><path class="k s0" d="M416.1 104.0h0M386.9 106.8h0M387.9 105.0h0"/><path class="r s0" d="M399.7 105.4h0M395.1 105.8h0M389.3 99.9h0M414.4 111.3h0M398.9 107.1h0M398.5 105.5h0M402.6 102.5h0M400.5 108.9h0M385.2 99.3h0M377.4 97.1h0M383.3 105.0h0M378.7 103.9h0M397.3 113.2h0M399.8 106.2h0M396.2 106.1h0M383.4 98.4h0M400.2 109.7h0M405.0 108.6h0M398.6 103.5h0M414.1 110.7h0M386.1 99.9h0M378.8 96.8h0M382.2 100.6h0"/><path class="w s0" d="M411.4 113.6h0M411.7 106.8h0M420.6 102.6h0M373.1 101.2h0M400.4 103.2h0M387.6 103.1h0M419.9 103.0h0M376.9 102.3h0M386.1 107.3h0M394.0 108.0h0M402.0 105.3h0M397.7 104.8h0M411.2 101.6h0M383.1 100.7h0"/></g>
<g><path class="z" d="M364.5 139.8L366.5 140.4L368.4 141.0L370.4 141.6L372.4 142.2L374.0 142.5L375.5 142.8L376.7 141.6L377.8 140.8L379.8 140.2L381.7 139.6L383.7 140.0L385.7 140.4L387.2 140.7L388.6 140.9L390.1 138.9L391.6 136.8L393.3 135.8L395.0 134.7L396.7 134.1L398.3 133.5L400.1 132.9L401.9 132.2L404.9 131.8L407.8 131.4L411.3 131.4L414.7 131.4L417.4 132.1L420.2 132.7L421.9 134.2L423.6 135.6L424.6 136.2L425.3 137.7L425.5 139.6L425.3 141.6L424.6 143.0L423.6 143.7L421.9 144.1L420.2 144.5L417.4 145.2L414.7 145.9L411.3 145.6L407.8 145.3L404.9 145.1L401.9 144.8L400.1 145.4L398.3 146.0L396.7 146.5L395.0 147.0L393.3 146.6L391.6 146.1L390.1 146.7L388.6 147.2L387.2 148.6L385.7 150.1L383.7 150.4L381.7 150.7L379.8 149.3L377.8 148.0L376.7 146.9L375.5 145.4L374.0 144.6L372.4 143.8L370.4 143.2L368.4 142.5L366.5 141.8L364.5 141.2Z"/><path class="B s2" d="M393.3 144.5h0"/><path class="R s2" d="M398.6 138.1h0"/><path class="b s2" d="M388.7 144.0h0M388.0 144.5h0"/><path class="l s2" d="M379.2 144.3h0"/><path class="r s2" d="M423.9 137.2h0M412.1 139.7h0M414.6 133.5h0M401.0 142.3h0M418.0 139.5h0M396.9 145.6h0M401.0 139.4h0"/><path class="B s1" d="M375.5 145.4h0M382.7 147.0h0M420.6 141.2h0M413.8 142.2h0M424.3 138.8h0M391.7 148.0h0"/><path class="R s1" d="M401.3 132.6h0M397.2 137.0h0M407.3 135.7h0M403.6 142.1h0M409.8 141.1h0M394.4 134.2h0M402.5 140.7h0M399.6 142.0h0"/><path class="b s1" d="M400.3 144.0h0M376.6 143.9h0M410.6 137.3h0M382.8 141.4h0M389.3 144.4h0M377.8 146.0h0M388.6 142.9h0M384.5 143.5h0M387.3 142.6h0"/><path class="g s1" d="M416.9 134.9h0M393.0 144.1h0M421.7 142.1h0M390.3 145.3h0M413.6 140.3h0M419.0 141.7h0"/><path class="k s1" d="M412.8 145.2h0M396.7 140.0h0"/><path class="r s1" d="M422.7 136.5h0M417.9 139.1h0M401.1 139.3h0M417.1 133.3h0M391.2 144.9h0M403.2 140.1h0M400.6 135.7h0M398.8 142.4h0M401.8 141.9h0M416.8 132.3h0M408.7 140.1h0M400.9 133.6h0M398.5 137.2h0M401.3 139.0h0M415.4 144.2h0M417.6 133.9h0M410.8 146.2h0M376.1 142.3h0M377.0 143.1h0M374.5 142.4h0"/><path class="w s1" d="M398.5 132.8h0M393.3 146.1h0M395.1 133.8h0M392.8 140.5h0M392.7 142.8h0M405.2 133.0h0M410.9 138.6h0M411.7 136.3h0M394.0 140.8h0M421.8 142.6h0M383.9 143.2h0M388.1 141.6h0M384.3 146.2h0M405.0 132.7h0M383.5 143.6h0M405.8 133.5h0"/><path class="B s0" d="M382.2 149.4h0M412.3 142.8h0M387.5 142.8h0M405.6 143.5h0M381.1 143.5h0M401.5 145.2h0"/><path class="R s0" d="M385.5 147.2h0M397.2 142.5h0M414.9 142.8h0M397.9 133.2h0M391.8 145.5h0M410.5 140.2h0M413.8 144.1h0"/><path class="b s0" d="M412.4 135.6h0M402.0 144.0h0M410.7 137.7h0M423.0 140.1h0M383.9 145.7h0M378.0 145.3h0M378.7 144.2h0M388.7 144.8h0M380.1 149.4h0M395.2 144.9h0"/><path class="g s0" d="M418.2 144.4h0M365.7 140.7h0M364.1 140.9h0M369.6 142.6h0M415.2 140.7h0M365.7 141.3h0M390.0 144.4h0M390.3 142.6h0"/><path class="k s0" d="M400.6 132.1h0M392.3 137.8h0"/><path class="l s0" d="M368.3 142.4h0"/><path class="r s0" d="M394.3 142.2h0M376.7 141.8h0M377.3 142.9h0M402.2 138.7h0M415.5 142.3h0M378.7 143.6h0M415.4 141.2h0M391.2 145.0h0M384.5 142.1h0M403.1 139.2h0M420.8 139.6h0M392.0 144.2h0M403.0 141.3h0M415.9 143.4h0M398.0 141.2h0M397.3 135.1h0M397.1 140.9h0M398.0 134.0h0M373.9 144.1h0M412.5 138.2h0M423.6 136.2h0M410.4 134.7h0M399.9 140.9h0M399.4 136.9h0M398.1 132.7h0M396.3 138.0h0M415.2 136.1h0M418.3 141.1h0"/><path class="w s0" d="M411.7 137.4h0M417.6 137.8h0M419.4 138.6h0M393.5 141.3h0M417.1 136.2h0M392.7 141.4h0M409.1 135.3h0M384.1 143.2h0M392.8 141.7h0M395.2 144.2h0M394.0 141.0h0M383.5 141.1h0M382.1 141.3h0"/><path class="B s2" d="M402.0 144.8h0"/><path class="R s2" d="M406.9 141.5h0"/><path class="b s2" d="M381.2 150.6h0M414.0 141.9h0"/><path class="r s2" d="M401.2 138.6h0"/><path class="B s1" d="M375.4 145.4h0M410.6 142.8h0M410.1 144.0h0M387.6 148.6h0M399.3 144.3h0M387.4 145.5h0"/><path class="R s1" d="M424.8 143.0h0M398.6 132.7h0M412.5 144.2h0M421.2 139.2h0M417.7 143.6h0M421.3 138.5h0M378.6 147.3h0M386.4 148.2h0M423.4 142.2h0M416.3 143.9h0"/><path class="b s1" d="M381.5 146.0h0M406.9 144.4h0M418.4 137.4h0M375.7 145.3h0M394.0 145.8h0M386.3 144.2h0M382.9 144.3h0M380.7 139.9h0"/><path class="g s1" d="M418.4 142.7h0M387.3 145.8h0M391.1 147.2h0M377.8 147.0h0M384.7 148.3h0M396.4 144.2h0M384.7 148.5h0M392.6 143.8h0M391.5 146.9h0M389.2 140.5h0M391.9 141.5h0"/><path class="k s1" d="M417.9 145.6h0M380.5 150.1h0M415.0 145.1h0M383.5 143.0h0M404.2 135.9h0"/><path class="l s1" d="M414.3 146.0h0"/><path class="r s1" d="M410.7 134.5h0M423.4 144.2h0M422.1 142.5h0M419.0 132.3h0M423.9 142.6h0M398.7 142.9h0M397.6 134.8h0M396.2 138.6h0M416.9 137.4h0M407.6 136.7h0M389.3 139.0h0M421.2 139.2h0M397.8 142.9h0M403.0 135.2h0M413.9 133.9h0M400.6 140.5h0"/><path class="w s1" d="M416.3 139.0h0M384.4 139.6h0M415.3 130.6h0M379.4 142.1h0M396.5 146.0h0M394.5 140.8h0M407.5 139.9h0M383.6 141.5h0M407.6 137.8h0M410.8 135.8h0M418.5 137.8h0M399.8 142.9h0M383.8 141.2h0M410.4 132.5h0M408.0 130.7h0M386.6 141.5h0M401.8 138.1h0M415.5 139.1h0M423.7 137.5h0M399.1 139.2h0"/><path class="B s0" d="M413.8 142.1h0M384.9 149.9h0"/><path class="R s0" d="M411.9 138.0h0M405.4 134.8h0M377.9 147.9h0M395.0 143.1h0M412.4 139.4h0"/><path class="b s0" d="M376.3 144.3h0M382.0 144.6h0M384.6 145.2h0M423.0 139.8h0M424.0 138.4h0M394.9 139.9h0M407.6 138.6h0M381.5 149.6h0M380.8 144.7h0M400.6 143.7h0M394.4 139.2h0M387.6 144.2h0M376.2 144.4h0"/><path class="g s0" d="M384.1 147.1h0M408.3 138.7h0M420.6 140.9h0M398.7 144.1h0M411.5 129.7h0M405.4 137.2h0M371.4 142.8h0M423.5 141.0h0M395.6 145.3h0M389.9 143.4h0"/><path class="k s0" d="M413.0 142.8h0M417.6 141.6h0"/><path class="l s0" d="M372.8 142.5h0M388.2 145.7h0"/><path class="r s0" d="M372.2 143.8h0M423.8 135.8h0M401.6 137.0h0M402.9 133.7h0M397.0 136.0h0M403.4 142.4h0M419.3 134.5h0M393.4 142.2h0M416.7 138.0h0M400.9 139.5h0M420.1 145.0h0M399.6 140.6h0M392.0 136.4h0M408.8 140.8h0M413.1 137.7h0M398.6 137.1h0M396.8 138.2h0M396.3 142.6h0M401.1 141.3h0M410.7 145.9h0M409.1 132.7h0M385.3 148.0h0M412.1 137.9h0M399.5 142.0h0M372.9 143.1h0M410.4 144.9h0M389.6 147.0h0M406.3 135.9h0M412.7 145.9h0M417.3 139.8h0M419.0 140.1h0"/><path class="w s0" d="M379.5 141.6h0M408.1 131.3h0M384.7 146.3h0M422.9 134.0h0M379.2 145.9h0M390.3 142.9h0M390.5 139.0h0M415.5 139.0h0M384.6 143.1h0M379.3 148.6h0M406.5 137.2h0M417.0 142.2h0M389.6 141.9h0M421.4 134.1h0M413.1 136.8h0"/><path class="B s2" d="M381.9 144.0h0"/><path class="R s2" d="M385.2 147.6h0"/><path class="b s2" d="M378.8 140.7h0"/><path class="r s2" d="M418.7 140.1h0M398.6 134.5h0"/><path class="B s1" d="M381.4 145.4h0M412.6 142.5h0"/><path class="R s1" d="M422.8 142.8h0M420.2 136.6h0M417.5 141.6h0"/><path class="b s1" d="M394.6 140.2h0M379.3 145.5h0M401.7 143.7h0M388.2 144.1h0M407.2 138.0h0M383.0 150.4h0M407.4 130.8h0M376.7 144.4h0M385.4 145.1h0M380.3 144.5h0M396.9 143.9h0M391.7 141.0h0M376.4 144.1h0"/><path class="g s1" d="M399.3 144.9h0M408.3 142.8h0M403.5 143.1h0M400.6 142.5h0M384.1 148.0h0M408.7 144.8h0M390.1 145.6h0M422.6 135.9h0"/><path class="k s1" d="M391.8 140.5h0M413.4 141.3h0M392.9 144.7h0M407.9 139.3h0M406.8 141.6h0"/><path class="p s1" d="M394.0 137.1h0M400.3 137.4h0"/><path class="r s1" d="M405.6 136.2h0M423.9 137.1h0M417.0 140.9h0M403.5 141.1h0M402.3 137.2h0M418.5 142.3h0M406.1 140.6h0M423.7 136.2h0M401.6 135.6h0M417.1 138.1h0M406.3 136.1h0M397.3 140.1h0M377.1 143.2h0M402.3 139.9h0M397.2 142.1h0M396.4 134.7h0M403.9 139.5h0M398.8 135.4h0M415.1 144.9h0"/><path class="w s1" d="M384.5 147.2h0M414.3 140.0h0M390.8 145.8h0M399.9 143.6h0M399.3 147.3h0M390.6 143.4h0M388.1 141.0h0M388.0 140.7h0M393.4 139.8h0M403.9 132.6h0M409.9 131.7h0M390.2 143.6h0M402.5 145.1h0M384.6 148.4h0M405.9 133.4h0"/><path class="B s0" d="M384.0 149.2h0M375.0 145.0h0M383.7 150.8h0M364.5 141.1h0M387.9 145.3h0M420.8 141.5h0"/><path class="R s0" d="M422.5 143.1h0M392.2 146.8h0M409.9 133.6h0M396.2 143.1h0M376.5 142.6h0M411.8 137.5h0M401.6 135.5h0"/><path class="b s0" d="M381.7 149.5h0M394.5 139.3h0M418.3 137.5h0M398.1 144.0h0M407.3 144.0h0M387.0 145.7h0M366.6 140.5h0M412.8 141.8h0M388.2 142.4h0M370.0 142.8h0M387.5 140.5h0M414.8 146.7h0M381.7 150.2h0M405.9 137.2h0M395.1 139.1h0M382.7 145.1h0M407.3 143.9h0M379.2 146.0h0M381.8 146.3h0M383.3 149.8h0"/><path class="g s0" d="M381.8 146.8h0M418.6 143.7h0M385.1 146.5h0M367.2 141.0h0M395.4 146.9h0M387.4 146.5h0M395.8 147.3h0M382.0 147.5h0M379.1 144.1h0M392.3 146.0h0M367.8 141.0h0"/><path class="k s0" d="M393.4 139.8h0M385.6 141.9h0M379.1 142.6h0M387.5 143.0h0M385.6 147.2h0M377.6 146.0h0M379.8 148.7h0"/><path class="l s0" d="M366.9 142.0h0M364.9 140.7h0"/><path class="p s0" d="M394.8 137.3h0"/><path class="r s0" d="M398.6 133.3h0M394.3 142.7h0M403.1 140.5h0M396.7 140.8h0M401.6 136.9h0M414.6 134.1h0M408.8 134.1h0M394.3 136.5h0M404.3 136.4h0M396.2 141.7h0M401.5 141.4h0M393.7 136.3h0M396.0 135.2h0M396.9 135.7h0M397.0 140.1h0M410.9 139.7h0M404.9 145.7h0M384.4 142.5h0M398.4 133.1h0M377.7 142.3h0M402.0 133.1h0M409.5 139.7h0M401.1 141.2h0"/><path class="w s0" d="M388.0 140.9h0M420.2 133.4h0M388.7 148.0h0M411.2 137.6h0M422.4 134.9h0M418.0 134.7h0M379.8 142.1h0M383.7 141.4h0M396.2 143.5h0M390.4 143.7h0M392.0 142.1h0M393.9 137.8h0M409.6 142.4h0M391.4 139.6h0M398.9 146.3h0"/></g>
<g><path class="z" d="M364.5 175.5L366.4 176.1L368.4 176.8L370.3 177.4L372.3 178.0L373.8 178.3L375.4 178.6L376.5 177.8L377.6 177.3L379.5 176.8L381.5 176.3L383.4 176.1L385.4 175.9L386.8 175.8L388.3 175.7L389.7 174.0L391.2 172.3L392.9 171.4L394.6 170.5L396.2 170.0L397.8 169.6L399.6 168.5L401.4 167.5L404.3 167.7L407.2 167.9L410.6 167.5L414.0 167.1L416.6 168.0L419.3 168.9L421.0 170.2L422.7 171.5L423.6 172.1L424.2 173.5L424.4 175.2L424.2 177.0L423.6 178.4L422.7 178.9L421.0 179.9L419.3 181.0L416.6 181.7L414.0 182.4L410.6 182.3L407.2 182.3L404.3 181.8L401.4 181.4L399.6 181.5L397.8 181.7L396.2 182.7L394.6 183.7L392.9 183.2L391.2 182.8L389.7 183.0L388.3 183.2L386.8 184.4L385.4 185.6L383.4 185.9L381.5 186.2L379.5 185.1L377.6 183.9L376.5 182.7L375.4 181.2L373.8 180.4L372.3 179.6L370.3 178.9L368.4 178.2L366.4 177.5L364.5 176.9Z"/><path class="R s2" d="M418.5 179.5h0M394.8 180.1h0"/><path class="b s2" d="M406.8 169.7h0M402.2 167.3h0M379.6 177.5h0"/><path class="r s2" d="M378.4 178.2h0"/><path class="B s1" d="M390.0 178.2h0M401.4 178.5h0M398.2 180.7h0M396.5 182.4h0M423.3 177.9h0M399.1 174.8h0M402.1 169.1h0"/><path class="R s1" d="M404.3 178.3h0M395.1 180.4h0"/><path class="b s1" d="M417.8 175.3h0M414.7 173.4h0M383.3 182.3h0M422.5 177.1h0M401.9 179.5h0M387.5 177.0h0M384.8 176.8h0M396.2 176.9h0M419.4 171.9h0M397.7 180.2h0M396.6 177.6h0M406.4 176.4h0M392.3 177.3h0M402.1 167.5h0M402.1 168.7h0M388.3 180.9h0M376.9 180.9h0M413.1 167.4h0"/><path class="g s1" d="M419.3 177.2h0M406.8 175.5h0M385.1 182.0h0M419.8 173.5h0M406.7 178.1h0M417.1 174.1h0M417.9 176.3h0M376.8 183.4h0M385.2 182.2h0M418.2 181.9h0M394.2 180.3h0M381.5 185.0h0M394.3 181.8h0M396.8 171.3h0M399.0 181.2h0"/><path class="k s1" d="M378.4 178.5h0M412.3 176.9h0M396.6 175.1h0"/><path class="l s1" d="M394.3 174.9h0"/><path class="r s1" d="M382.3 179.0h0M394.6 178.7h0M420.7 176.8h0M399.2 171.3h0M412.4 179.8h0M415.2 176.1h0M404.5 174.5h0M390.6 178.3h0"/><path class="w s1" d="M397.3 171.3h0M398.3 169.8h0M396.7 179.2h0M394.1 182.4h0M386.8 177.8h0M389.4 177.1h0M401.0 170.7h0M381.0 181.2h0M404.8 177.3h0M396.1 171.2h0M420.1 175.2h0M411.8 168.1h0M392.4 172.4h0M407.3 169.3h0M419.9 172.9h0M397.8 171.3h0M396.4 179.9h0M415.7 168.1h0M396.7 180.3h0M382.0 183.0h0M384.2 180.6h0M398.8 177.0h0M394.2 172.1h0M390.1 175.6h0"/><path class="B s0" d="M410.2 179.2h0M397.1 182.1h0M388.2 180.9h0M401.3 168.2h0M414.8 180.3h0M376.2 180.3h0M402.2 179.6h0M398.2 179.6h0M402.2 179.4h0"/><path class="R s0" d="M418.7 178.9h0M413.6 176.2h0M418.5 180.9h0"/><path class="b s0" d="M385.2 182.4h0M411.5 176.9h0M414.6 166.1h0M397.1 171.0h0M367.9 177.2h0M366.3 176.9h0M422.5 178.6h0M392.9 177.8h0M388.0 177.1h0M419.0 169.6h0M389.7 174.7h0M374.9 179.0h0M395.0 176.5h0M380.8 177.3h0M389.3 182.2h0M385.2 182.8h0M389.8 181.2h0M419.7 172.3h0"/><path class="g s0" d="M400.0 173.4h0M404.5 177.7h0M417.6 181.4h0M372.2 178.9h0M398.1 168.8h0M368.7 176.9h0M411.6 177.3h0M371.1 178.1h0M419.8 177.1h0M405.9 171.5h0"/><path class="k s0" d="M400.1 171.1h0M422.2 174.0h0M381.4 184.9h0"/><path class="l s0" d="M391.5 177.9h0"/><path class="r s0" d="M416.4 172.9h0M407.8 175.8h0M420.3 177.5h0M411.9 174.0h0M421.0 169.3h0M417.5 177.9h0M396.2 175.8h0M396.5 174.9h0M370.4 178.8h0M404.9 170.6h0M420.2 179.2h0M412.3 175.2h0M383.8 180.3h0M421.4 170.0h0M403.5 175.4h0M408.7 176.8h0M399.4 177.0h0M394.7 183.0h0M391.4 173.6h0M399.9 168.5h0M413.6 175.6h0"/><path class="w s0" d="M397.6 171.7h0M377.5 184.1h0M388.0 179.3h0M391.2 179.3h0M377.2 179.3h0M394.6 174.7h0M406.8 172.4h0M405.6 172.7h0M382.5 181.2h0M399.8 173.2h0M417.7 175.8h0M419.2 172.5h0M395.9 173.0h0M413.8 180.6h0M402.2 175.4h0M416.3 174.7h0M399.7 175.6h0M420.4 172.4h0M424.4 173.9h0M422.7 177.8h0"/><path class="B s2" d="M414.8 180.9h0M392.3 181.8h0"/><path class="R s2" d="M395.7 181.2h0"/><path class="b s2" d="M419.8 168.3h0M389.9 179.9h0M412.3 176.1h0M390.3 180.2h0"/><path class="l s2" d="M386.3 179.0h0"/><path class="r s2" d="M378.1 178.4h0M416.8 168.1h0"/><path class="B s1" d="M375.4 179.7h0M391.1 183.2h0M401.3 171.0h0M411.4 179.6h0M398.8 179.4h0M392.4 179.5h0M419.2 176.1h0M397.7 182.4h0M386.6 179.7h0M389.2 180.3h0M391.9 180.9h0"/><path class="R s1" d="M409.7 181.7h0M400.4 179.0h0M420.5 179.7h0M403.6 173.2h0"/><path class="b s1" d="M397.0 170.5h0M385.7 181.0h0M384.1 176.6h0M418.4 175.2h0M392.9 174.8h0M405.8 180.9h0M375.9 179.4h0M383.6 182.4h0M397.7 177.5h0"/><path class="g s1" d="M402.5 171.2h0M421.6 179.8h0M378.6 183.6h0M405.3 178.1h0M411.5 179.3h0M383.5 185.6h0M375.1 181.7h0"/><path class="k s1" d="M414.9 172.8h0M401.8 175.4h0M410.9 176.1h0M399.7 172.6h0M418.9 178.2h0"/><path class="r s1" d="M403.5 174.2h0M403.6 173.5h0M389.7 176.5h0M394.4 182.7h0M396.2 173.9h0M397.7 175.8h0M382.6 180.9h0M401.4 176.4h0M416.8 179.2h0M414.8 176.7h0M395.5 175.8h0M417.0 175.5h0M399.0 176.7h0M414.0 175.3h0"/><path class="w s1" d="M377.2 179.2h0M410.2 170.5h0M411.6 172.7h0M384.4 181.6h0M393.0 170.8h0M396.0 176.2h0M419.8 173.2h0M406.3 175.6h0M406.4 172.7h0M394.7 172.0h0M405.0 176.1h0M396.5 169.2h0"/><path class="B s0" d="M407.7 181.7h0M398.1 178.3h0M391.9 181.5h0M389.5 175.1h0M368.4 176.5h0M379.1 182.2h0M385.6 184.6h0M401.0 178.8h0M398.5 174.2h0"/><path class="R s0" d="M382.8 180.3h0M423.3 175.1h0M419.2 178.5h0M400.0 179.6h0M369.9 178.4h0M419.8 180.1h0"/><path class="b s0" d="M412.6 176.6h0M381.0 180.9h0M382.6 183.1h0M385.7 183.7h0M406.1 175.4h0M404.6 168.7h0M405.6 170.4h0M393.4 174.5h0M388.2 179.0h0M378.8 182.0h0M419.5 172.1h0M367.3 177.4h0M385.4 178.7h0M414.8 172.0h0M393.1 177.0h0M414.4 166.5h0M371.8 179.1h0M376.3 181.2h0M393.8 170.8h0M408.9 167.6h0M396.8 177.1h0M390.1 180.4h0M414.8 180.2h0M394.5 177.1h0M392.6 179.5h0M423.3 169.8h0"/><path class="g s0" d="M380.8 184.1h0M399.3 176.0h0M400.2 178.3h0M385.7 181.6h0M385.2 182.3h0M405.0 178.5h0M401.0 178.6h0"/><path class="k s0" d="M422.7 173.3h0M422.0 178.8h0"/><path class="l s0" d="M413.9 172.6h0M398.8 179.3h0"/><path class="p s0" d="M399.1 172.4h0M420.8 169.4h0"/><path class="r s0" d="M413.0 174.5h0M408.1 175.4h0M417.3 169.7h0M404.2 176.0h0M383.1 181.1h0M397.5 175.2h0M408.1 175.2h0M396.8 174.8h0M396.7 175.8h0M394.1 178.7h0M382.0 179.6h0M369.7 177.3h0"/><path class="w s0" d="M401.1 175.2h0M377.2 181.1h0M420.4 168.8h0M383.5 179.3h0M382.4 176.7h0M401.0 178.0h0M405.4 173.4h0M381.4 180.6h0M383.8 181.6h0"/><path class="B s2" d="M418.8 171.2h0M410.5 178.6h0"/><path class="b s2" d="M411.9 175.5h0M384.6 181.8h0M419.3 170.3h0M397.6 179.6h0M383.6 182.1h0"/><path class="r s2" d="M415.0 175.3h0M422.5 173.6h0M405.4 171.7h0M403.1 169.4h0M390.4 176.0h0"/><path class="B s1" d="M422.8 177.1h0M409.1 178.8h0M382.9 183.4h0M379.4 182.0h0M410.6 183.2h0M381.1 180.9h0"/><path class="R s1" d="M401.4 180.9h0M421.4 179.3h0M402.7 169.5h0M418.7 179.3h0M408.1 178.2h0M399.9 180.2h0"/><path class="b s1" d="M419.3 170.3h0M393.0 176.6h0M397.7 178.1h0M385.7 178.7h0M378.5 181.8h0M409.9 168.2h0M391.9 178.3h0M398.5 173.8h0M383.9 178.9h0M409.2 167.8h0M394.5 176.7h0M409.8 181.9h0M397.1 172.3h0M418.2 170.1h0M385.8 179.7h0M397.1 180.9h0M397.8 173.2h0M383.4 181.8h0M379.9 178.9h0M376.4 179.8h0"/><path class="g s1" d="M409.2 178.8h0M407.2 177.1h0M400.4 175.7h0M405.0 177.1h0M398.9 177.3h0M413.0 171.1h0"/><path class="k s1" d="M384.9 181.2h0M409.4 176.5h0M398.4 172.5h0"/><path class="r s1" d="M413.4 175.2h0M385.6 182.1h0M400.5 177.2h0M404.5 174.7h0M413.5 175.5h0M417.5 170.9h0M416.5 173.2h0M413.8 180.8h0M420.2 178.3h0M412.7 175.2h0M400.7 176.7h0M375.9 182.1h0M405.2 172.5h0M382.5 177.8h0M421.3 176.2h0M413.2 178.3h0"/><path class="w s1" d="M398.3 176.0h0M390.2 175.2h0M397.3 169.7h0M384.1 179.6h0M397.9 175.2h0M402.5 175.7h0M396.8 173.6h0M396.9 181.8h0M397.5 176.5h0M387.3 178.6h0M407.3 177.6h0M399.7 177.7h0M392.1 176.8h0"/><path class="B s0" d="M406.6 171.1h0M379.2 180.3h0M368.4 177.9h0M397.9 184.3h0M405.7 182.2h0M398.1 178.7h0"/><path class="R s0" d="M419.8 178.6h0M397.4 176.3h0M408.8 180.3h0M413.7 180.7h0M422.1 173.9h0M421.2 178.2h0M406.7 179.9h0"/><path class="b s0" d="M386.4 179.4h0M393.3 178.5h0M391.7 178.3h0M397.3 173.5h0M388.5 179.4h0M365.9 176.2h0M384.1 178.6h0M388.3 181.1h0M397.1 182.4h0M385.4 182.8h0M383.1 182.2h0M372.4 178.9h0M395.7 172.0h0M389.1 182.3h0M376.2 180.7h0M398.0 178.3h0M407.2 169.1h0M413.9 166.9h0M418.5 170.6h0"/><path class="g s0" d="M398.2 176.9h0M394.0 181.8h0M376.3 183.1h0M377.5 181.7h0M406.3 177.0h0M411.3 181.8h0M379.6 185.1h0M410.4 170.8h0M408.5 178.3h0M381.4 180.5h0M410.3 169.1h0"/><path class="k s0" d="M394.8 172.2h0M384.4 179.0h0M392.0 173.8h0M406.4 175.7h0M410.3 181.3h0M393.3 173.3h0"/><path class="r s0" d="M419.3 179.1h0M386.3 182.3h0M416.5 178.4h0M408.3 177.8h0M395.7 180.3h0M397.0 175.5h0M365.0 176.5h0M401.4 176.5h0M399.5 180.0h0M404.0 176.9h0M403.5 172.0h0M370.3 178.3h0M394.3 178.7h0M421.2 176.3h0M406.0 183.1h0M421.5 174.4h0M382.1 177.7h0M416.7 170.7h0M415.2 177.9h0"/><path class="w s0" d="M405.9 173.5h0M401.6 174.7h0M400.8 175.7h0M381.7 181.4h0M378.8 179.7h0M381.9 180.9h0M405.5 172.6h0M413.8 177.9h0M395.5 183.5h0M385.5 181.9h0M382.5 177.1h0M401.8 170.7h0M411.5 174.1h0M415.6 168.0h0"/></g>
<g><path class="z" d="M364.5 209.8L367.0 210.1L369.4 210.5L371.9 210.7L374.4 210.9L376.8 211.3L379.3 211.2L381.2 211.3L383.2 211.5L385.2 211.3L387.2 211.0L388.9 211.2L390.6 211.3L392.3 209.7L394.1 208.1L396.5 207.1L399.0 206.0L402.2 204.7L405.4 203.4L409.1 203.8L412.8 204.1L416.2 204.8L419.7 205.5L421.6 206.8L423.6 208.1L424.6 208.7L425.1 210.1L425.4 211.9L425.1 213.7L424.6 215.1L423.6 215.7L421.6 216.2L419.7 216.7L416.2 217.1L412.8 217.5L409.1 217.8L405.4 218.1L402.2 217.6L399.0 217.2L396.5 218.0L394.1 218.7L392.3 218.6L390.6 218.4L388.9 219.0L387.2 219.6L385.2 219.0L383.2 218.4L381.2 217.1L379.3 215.7L376.8 214.4L374.4 213.5L371.9 213.0L369.4 212.4L367.0 211.8L364.5 211.2Z"/><path class="B s2" d="M416.8 216.1h0M397.7 215.8h0M411.8 214.6h0"/><path class="R s2" d="M423.5 215.1h0"/><path class="b s2" d="M387.5 212.0h0M391.7 209.2h0"/><path class="r s2" d="M414.1 209.2h0"/><path class="B s1" d="M402.1 216.4h0M380.0 216.6h0M401.3 217.5h0"/><path class="R s1" d="M405.0 210.8h0M388.0 217.4h0M403.8 215.8h0M406.6 210.8h0M392.3 218.7h0M407.0 211.1h0"/><path class="b s1" d="M393.0 211.0h0M376.0 212.2h0M419.3 213.3h0M421.9 213.0h0M421.6 209.0h0M400.4 212.2h0M411.4 203.6h0M411.8 204.3h0M376.7 213.3h0M419.3 208.2h0M405.5 213.6h0M420.7 209.3h0M394.5 214.5h0M398.1 214.3h0M386.4 212.6h0M388.9 212.7h0M422.2 209.9h0M401.8 207.9h0"/><path class="g s1" d="M414.4 214.4h0M386.4 216.7h0M375.4 213.9h0M391.0 214.8h0M416.6 215.4h0M387.8 216.0h0M413.6 212.9h0M420.3 213.9h0M400.8 210.1h0M422.0 214.2h0M407.6 214.8h0M390.7 216.3h0M424.0 213.2h0M400.6 209.3h0"/><path class="k s1" d="M382.5 216.4h0M406.8 210.7h0"/><path class="p s1" d="M419.5 211.7h0"/><path class="r s1" d="M419.8 210.3h0M403.2 209.8h0M414.0 208.5h0M409.7 213.3h0M407.3 206.7h0M395.2 207.5h0M391.0 218.0h0M405.3 209.5h0M414.0 207.3h0M409.7 207.9h0M408.1 212.0h0M421.2 215.4h0M414.2 209.1h0M408.7 207.8h0"/><path class="w s1" d="M398.2 210.5h0M389.2 213.7h0M410.3 205.7h0M404.9 207.9h0M398.2 216.7h0M391.3 216.7h0M387.0 214.1h0M421.5 210.2h0M409.8 213.9h0M388.3 219.2h0M393.2 212.0h0M384.9 216.0h0M418.3 209.5h0M391.2 210.9h0M418.5 206.7h0M382.7 211.3h0M392.6 214.9h0"/><path class="B s0" d="M402.0 216.5h0M406.9 215.5h0M398.6 215.3h0M389.5 216.1h0M381.6 216.0h0M418.1 209.2h0"/><path class="R s0" d="M404.3 213.8h0M397.6 212.5h0M413.9 207.2h0M413.1 207.7h0"/><path class="b s0" d="M414.7 212.7h0M408.4 214.3h0M413.2 211.2h0M389.1 216.5h0M410.0 209.8h0M420.1 209.2h0M416.6 208.7h0M416.4 204.7h0M389.5 211.2h0M413.0 204.8h0M388.6 213.0h0M399.9 211.4h0M393.9 214.2h0M386.7 213.4h0M423.1 210.4h0M407.0 216.3h0M402.5 212.3h0M388.2 211.3h0M385.2 212.9h0M389.0 213.1h0M382.5 213.7h0M411.4 206.1h0M397.3 215.9h0M406.7 217.8h0"/><path class="g s0" d="M413.9 213.0h0M410.6 213.3h0M383.5 217.0h0M371.5 213.2h0M387.7 218.0h0M384.5 216.2h0M422.2 216.4h0M418.4 215.3h0"/><path class="k s0" d="M395.9 215.6h0"/><path class="l s0" d="M369.7 210.8h0M399.5 216.4h0"/><path class="p s0" d="M404.0 206.0h0"/><path class="r s0" d="M402.5 210.3h0M403.0 209.8h0M390.4 212.2h0M415.1 209.2h0M397.1 216.5h0M403.3 209.2h0M403.0 209.6h0M400.8 204.4h0M391.3 211.6h0M394.7 208.5h0M402.8 210.3h0M406.9 210.1h0M408.2 207.1h0M415.1 208.4h0"/><path class="w s0" d="M410.8 206.1h0M389.9 213.7h0M397.6 208.3h0M417.0 205.3h0M396.5 211.5h0M411.5 218.1h0M392.7 214.4h0M398.2 214.1h0M403.6 211.2h0M415.3 207.1h0M394.7 215.3h0M398.0 208.0h0M423.0 209.0h0M406.3 209.7h0M408.0 215.1h0M389.8 212.6h0M395.4 209.7h0M414.6 213.3h0M408.2 215.9h0M387.2 214.8h0M397.2 212.0h0M417.3 210.6h0"/><path class="B s2" d="M395.8 214.2h0M390.4 216.6h0"/><path class="b s2" d="M381.7 215.2h0M396.1 207.3h0M423.1 213.4h0"/><path class="r s2" d="M407.7 208.6h0M409.6 207.6h0"/><path class="B s1" d="M377.6 214.6h0M397.4 215.0h0M381.5 211.6h0M381.0 210.3h0M415.3 206.9h0M385.1 213.5h0M412.6 209.6h0"/><path class="R s1" d="M398.3 213.3h0M391.5 211.3h0M416.4 215.1h0"/><path class="b s1" d="M384.5 213.1h0M378.2 214.2h0M412.4 210.2h0M406.7 216.4h0M421.6 213.7h0M422.6 209.2h0M396.8 214.9h0M393.8 214.6h0M417.9 212.9h0M417.1 209.0h0M372.3 212.2h0M409.4 213.9h0M409.4 213.6h0M418.8 208.7h0M395.6 213.6h0M381.0 213.0h0"/><path class="g s1" d="M422.3 212.8h0M385.4 214.2h0M391.9 211.3h0M389.8 212.4h0M387.5 216.0h0M414.6 207.7h0M407.6 205.4h0"/><path class="k s1" d="M403.1 213.5h0M415.1 211.3h0M398.7 213.5h0M391.5 213.3h0"/><path class="l s1" d="M381.0 213.4h0"/><path class="p s1" d="M419.3 211.3h0"/><path class="r s1" d="M407.4 212.4h0M403.2 208.1h0M388.2 218.4h0M402.2 207.4h0M406.3 207.8h0M420.2 215.6h0"/><path class="w s1" d="M383.9 214.0h0M380.9 214.7h0M411.4 211.1h0M394.4 215.6h0M405.0 206.5h0M415.4 214.5h0M386.4 211.1h0M389.3 214.5h0M389.5 211.7h0M414.4 211.1h0M384.0 214.6h0M397.1 208.8h0M398.9 211.1h0M405.9 211.4h0M417.2 211.6h0M409.0 215.9h0M419.1 209.3h0M386.0 213.8h0M417.0 206.1h0M422.5 212.9h0M402.5 208.0h0M397.5 211.1h0M395.8 207.3h0M387.0 213.6h0M422.6 211.8h0"/><path class="B s0" d="M390.4 216.9h0M398.3 215.5h0M364.5 211.0h0M425.3 214.3h0M398.6 217.8h0M365.0 211.2h0M418.1 215.8h0"/><path class="R s0" d="M402.6 215.2h0M419.3 211.4h0"/><path class="b s0" d="M388.8 215.1h0M382.3 214.1h0M387.0 212.7h0M406.4 216.4h0M401.6 208.1h0M409.9 213.8h0M421.2 208.9h0M384.8 211.2h0M378.0 214.1h0M422.8 210.6h0M410.8 209.5h0M393.5 215.4h0M412.1 205.2h0M417.0 207.4h0M384.1 217.8h0M400.9 213.1h0M401.1 212.1h0M411.5 210.2h0"/><path class="g s0" d="M392.3 216.8h0M400.3 216.0h0M403.4 213.1h0M396.2 215.1h0M394.3 211.6h0M411.9 216.3h0M397.7 217.8h0M390.7 217.6h0"/><path class="l s0" d="M397.5 206.1h0"/><path class="p s0" d="M406.8 207.1h0"/><path class="r s0" d="M392.6 217.4h0M406.4 204.8h0M402.1 209.4h0M419.7 215.0h0M413.9 206.7h0M414.7 205.3h0M414.9 209.7h0M402.9 206.6h0M399.0 211.9h0M402.9 215.3h0M418.7 210.9h0M403.2 206.3h0M406.5 206.2h0M420.3 210.1h0M385.9 215.9h0"/><path class="w s0" d="M385.8 214.3h0M379.2 213.3h0M416.1 205.8h0M380.1 211.2h0M412.7 206.0h0M392.5 213.5h0M416.2 213.2h0M403.8 211.4h0M415.9 211.6h0M386.3 214.0h0M395.9 212.2h0M399.0 214.3h0M391.6 210.7h0M382.7 214.3h0M413.4 205.4h0M414.9 206.1h0M413.1 208.9h0M415.6 204.8h0M399.6 209.6h0M390.5 215.5h0M382.5 215.1h0M384.5 213.7h0"/><path class="B s2" d="M396.4 214.8h0M399.8 206.8h0"/><path class="R s2" d="M414.9 217.3h0M402.0 214.6h0M406.6 203.3h0"/><path class="b s2" d="M421.4 212.8h0M381.4 213.2h0M404.8 213.3h0"/><path class="r s2" d="M390.5 214.4h0M402.7 209.7h0"/><path class="B s1" d="M413.1 204.3h0M393.5 217.1h0"/><path class="R s1" d="M404.1 216.1h0M407.0 208.0h0M414.8 217.4h0"/><path class="b s1" d="M396.4 210.1h0M393.1 210.4h0M385.2 212.7h0M420.3 207.2h0M376.3 212.5h0M424.1 211.1h0M418.4 208.0h0M410.5 210.0h0M420.9 208.8h0M421.5 210.0h0M402.4 212.3h0M408.8 214.5h0M405.8 216.1h0M393.5 210.2h0M419.8 212.6h0M417.9 208.3h0"/><path class="g s1" d="M420.5 206.3h0M398.4 214.3h0M402.5 212.9h0M403.8 218.0h0M421.5 213.8h0M401.5 213.4h0M382.5 216.0h0M386.2 217.1h0M375.4 214.0h0M391.5 216.7h0M393.3 217.5h0M399.2 211.5h0"/><path class="k s1" d="M415.4 209.0h0M406.9 207.7h0M385.7 215.5h0M419.2 209.2h0"/><path class="l s1" d="M399.0 211.0h0"/><path class="r s1" d="M404.0 210.9h0M418.4 205.3h0M408.5 212.6h0M403.3 208.2h0M403.0 210.6h0M409.7 203.8h0"/><path class="w s1" d="M387.2 215.2h0M418.1 205.7h0M389.3 211.0h0M388.4 213.7h0M409.0 211.1h0M412.4 206.9h0M407.7 214.7h0M388.0 217.9h0M423.1 211.6h0M417.6 214.8h0M409.3 208.5h0M411.7 206.8h0M387.6 216.0h0M398.5 217.3h0M405.2 209.6h0M392.3 213.5h0M389.4 218.7h0M382.9 214.8h0"/><path class="B s0" d="M400.5 217.9h0M382.7 212.3h0M421.4 209.4h0M389.6 211.4h0M404.9 208.6h0M396.7 206.9h0M402.4 217.5h0M378.2 215.4h0M407.7 214.7h0M390.2 216.5h0M411.0 214.0h0"/><path class="R s0" d="M406.3 209.8h0M422.3 215.3h0M395.2 208.6h0M412.2 213.7h0"/><path class="b s0" d="M380.9 213.7h0M381.3 211.7h0M380.0 214.1h0M418.2 212.1h0M413.2 204.1h0M382.5 212.8h0M388.5 212.5h0M415.7 207.2h0M372.4 211.8h0M412.3 210.6h0M421.5 213.1h0M423.7 210.4h0M389.6 216.5h0M397.6 205.9h0M385.6 218.1h0M380.4 213.1h0M418.6 213.4h0M375.8 213.8h0M381.4 214.4h0M393.5 215.9h0M385.4 212.3h0M408.0 209.8h0M414.3 212.5h0M392.2 209.3h0M401.9 217.2h0M412.9 205.6h0M364.6 209.7h0"/><path class="g s0" d="M420.9 216.1h0M398.6 213.9h0M404.0 213.0h0M391.2 217.0h0M393.1 217.6h0M390.0 218.2h0M424.2 214.5h0M383.1 211.1h0M382.8 214.6h0M387.8 213.9h0M401.1 214.7h0M413.1 213.9h0M369.2 211.9h0M393.6 217.1h0"/><path class="k s0" d="M415.9 216.2h0M402.0 206.1h0M399.0 209.2h0M399.6 210.5h0"/><path class="l s0" d="M397.1 207.8h0"/><path class="p s0" d="M398.6 212.5h0"/><path class="r s0" d="M418.9 210.2h0M396.9 208.6h0M402.2 207.3h0M365.8 209.9h0M404.8 209.6h0M410.4 211.6h0M419.6 211.1h0M419.8 209.9h0M408.8 213.4h0M411.3 207.6h0M366.9 211.1h0M408.9 207.9h0M409.7 212.3h0M409.9 212.3h0M420.9 215.9h0M402.8 210.7h0"/><path class="w s0" d="M385.3 215.7h0M394.0 212.7h0M402.7 213.2h0M385.8 214.6h0M384.1 213.6h0M412.5 207.6h0M386.5 213.4h0M384.5 216.9h0M392.8 215.2h0M392.5 211.5h0M417.5 206.2h0M378.7 213.7h0M389.9 213.5h0M380.1 212.3h0M414.6 211.0h0"/></g>
<g><path class="z" d="M364.5 244.7L367.0 245.0L369.4 245.4L371.9 245.6L374.4 245.8L376.8 246.0L379.3 246.1L381.2 245.6L383.2 245.5L385.2 245.3L387.2 245.1L388.9 245.3L390.6 245.6L392.3 244.0L394.1 242.5L396.5 241.5L399.0 240.5L402.2 239.6L405.4 238.7L409.1 238.6L412.8 238.4L416.2 239.0L419.7 239.6L421.6 241.4L423.6 243.3L424.5 243.9L425.0 245.1L425.2 246.8L425.0 248.4L424.5 249.7L423.6 250.2L421.6 251.1L419.7 251.9L416.2 251.9L412.8 252.0L409.1 251.7L405.4 251.4L402.2 251.8L399.0 252.2L396.5 252.8L394.1 253.3L392.3 253.1L390.6 252.8L388.9 253.4L387.2 253.9L385.2 253.2L383.2 252.5L381.2 251.2L379.3 249.5L376.8 249.0L374.4 248.4L371.9 247.9L369.4 247.3L367.0 246.7L364.5 246.1Z"/><path class="B s2" d="M393.7 251.8h0"/><path class="b s2" d="M409.5 245.5h0"/><path class="r s2" d="M415.4 241.1h0M420.1 251.0h0M397.7 240.4h0"/><path class="B s1" d="M390.9 252.6h0M413.4 240.3h0"/><path class="R s1" d="M410.0 247.9h0M417.3 244.5h0M385.7 249.1h0M413.5 252.0h0M400.9 250.8h0M367.8 245.3h0"/><path class="b s1" d="M388.0 246.0h0M423.1 243.6h0M414.5 238.0h0M402.9 251.3h0M394.5 247.5h0M384.8 251.2h0M374.7 247.4h0M410.5 244.1h0M388.6 250.3h0"/><path class="g s1" d="M401.3 248.0h0M388.8 251.7h0M375.7 248.3h0M379.9 248.5h0M392.9 250.1h0M393.1 251.3h0M368.0 245.1h0M416.8 248.9h0M368.2 246.9h0M402.9 248.5h0"/><path class="k s1" d="M423.2 242.8h0"/><path class="l s1" d="M393.0 248.1h0"/><path class="p s1" d="M412.9 243.5h0"/><path class="r s1" d="M401.2 239.7h0M379.1 246.4h0M393.1 250.8h0M414.6 242.8h0M412.1 237.8h0M424.0 245.4h0M405.0 244.6h0M407.0 252.1h0M367.4 245.1h0M398.6 240.8h0M416.6 247.6h0M396.9 244.7h0M418.5 252.7h0M398.9 247.3h0M411.1 245.1h0M372.7 245.4h0M413.2 247.5h0"/><path class="w s1" d="M399.3 251.6h0M405.9 241.6h0M423.5 242.2h0M383.7 248.1h0M424.8 245.9h0M409.6 243.7h0M421.9 251.3h0M380.9 249.1h0M401.7 247.1h0M414.8 240.3h0M399.8 245.7h0M394.9 251.6h0M395.4 246.3h0M398.0 246.8h0M393.3 247.0h0M415.9 243.1h0M407.9 245.3h0M415.6 244.8h0"/><path class="B s0" d="M399.9 248.4h0M394.3 250.6h0M375.6 246.3h0M418.2 239.7h0M392.8 253.4h0M408.2 251.7h0"/><path class="R s0" d="M392.1 251.3h0M424.2 245.2h0M411.7 246.5h0M418.1 245.5h0M412.0 237.8h0M402.5 249.5h0M417.7 246.7h0"/><path class="b s0" d="M383.0 249.2h0M371.0 245.5h0M422.4 244.6h0M407.3 240.9h0M420.6 239.3h0M374.9 245.6h0M411.0 244.5h0M395.3 242.7h0M422.7 243.7h0M392.6 248.8h0M365.9 245.8h0M377.6 246.3h0M383.5 250.7h0M408.4 245.6h0M421.0 244.4h0M376.2 246.0h0M420.9 244.8h0"/><path class="g s0" d="M399.5 250.2h0M411.3 248.3h0M402.7 248.5h0M413.2 249.0h0M410.3 239.7h0M383.2 248.4h0M398.4 250.8h0M415.7 247.8h0"/><path class="k s0" d="M413.7 250.9h0M418.2 245.1h0M404.5 249.5h0M402.4 244.3h0"/><path class="p s0" d="M368.8 245.9h0"/><path class="r s0" d="M412.9 244.1h0M411.6 247.7h0M406.6 237.8h0M419.4 242.1h0M406.9 237.8h0M398.1 240.9h0M420.6 246.5h0M421.1 247.2h0M407.0 244.8h0M393.3 250.2h0M392.4 245.2h0M401.2 243.8h0M397.4 240.4h0M419.9 246.1h0M417.6 245.5h0M407.5 245.0h0M395.9 243.8h0M406.2 243.6h0M407.1 247.0h0"/><path class="w s0" d="M398.1 247.9h0M404.4 238.4h0M424.7 246.8h0M388.9 246.4h0M417.3 240.0h0M419.5 241.5h0M414.3 246.5h0M394.8 245.1h0M421.3 247.0h0M391.6 247.3h0M405.6 242.1h0M414.2 242.5h0M385.8 250.5h0M418.3 245.0h0M414.8 244.9h0M400.8 242.3h0M396.2 243.2h0M399.2 244.7h0M381.8 246.2h0M395.8 249.4h0M415.0 245.8h0M401.5 242.8h0M390.1 246.5h0M395.5 250.4h0M395.2 245.1h0M399.8 245.3h0M388.7 247.6h0"/><path class="R s2" d="M408.0 239.3h0"/><path class="b s2" d="M418.6 240.1h0M387.7 249.2h0"/><path class="r s2" d="M406.4 247.0h0M396.9 244.8h0M402.3 245.0h0"/><path class="B s1" d="M392.2 248.4h0M414.4 251.2h0M401.2 242.7h0M422.3 249.1h0M388.6 253.6h0"/><path class="R s1" d="M413.6 250.8h0M403.0 249.8h0M412.4 250.9h0M401.3 243.7h0M418.2 250.6h0"/><path class="b s1" d="M380.1 249.0h0M394.0 245.0h0M396.0 246.9h0M394.2 245.5h0M421.6 244.0h0M393.0 248.5h0M389.3 246.1h0M390.3 249.0h0M421.5 243.6h0M371.8 246.4h0"/><path class="g s1" d="M380.0 249.1h0M391.1 249.8h0M380.4 247.6h0M388.8 253.1h0M414.2 247.5h0M398.0 250.0h0M370.6 246.4h0M384.3 252.2h0M379.3 249.2h0M375.1 247.9h0M414.5 249.8h0M422.2 246.8h0M401.6 253.8h0M405.7 249.3h0M415.8 249.8h0"/><path class="k s1" d="M411.6 240.5h0M391.5 251.4h0M413.5 248.4h0M394.7 246.3h0"/><path class="l s1" d="M417.4 253.3h0"/><path class="r s1" d="M399.7 246.4h0M392.0 246.2h0M421.8 241.7h0M397.0 246.2h0M411.7 238.9h0M405.9 238.3h0M403.1 239.5h0M415.5 240.1h0M417.1 251.7h0M385.9 250.0h0M419.0 247.3h0M404.0 241.7h0M391.3 246.6h0M412.4 247.7h0M420.2 247.6h0M401.4 240.9h0M412.0 252.4h0M392.7 246.2h0M396.2 244.0h0M421.0 245.5h0M379.2 245.3h0M388.7 247.4h0M403.1 238.9h0"/><path class="w s1" d="M398.5 244.6h0M386.4 251.5h0M386.6 247.6h0M381.4 250.4h0M392.1 247.3h0M385.7 246.8h0M421.3 247.7h0M406.2 245.5h0M415.7 244.4h0M418.0 250.1h0M404.4 246.2h0M385.9 252.9h0M381.8 248.7h0M381.7 247.9h0M380.4 246.1h0M385.1 249.0h0M424.4 242.2h0M395.6 243.2h0M423.9 244.1h0"/><path class="B s0" d="M415.1 251.1h0M391.2 248.3h0M397.9 251.9h0M389.5 253.6h0M409.1 251.0h0"/><path class="R s0" d="M396.6 248.8h0M397.6 249.5h0M407.8 251.7h0M397.2 245.1h0M397.5 242.9h0"/><path class="b s0" d="M394.0 242.4h0M383.5 250.4h0M382.1 245.9h0M408.5 246.7h0M394.8 247.5h0M386.7 245.8h0M415.0 245.4h0M390.4 248.7h0M413.2 240.6h0M389.3 244.6h0M393.3 249.2h0M422.9 244.0h0M382.1 245.1h0"/><path class="g s0" d="M379.9 249.4h0M419.0 250.2h0M377.9 249.6h0M400.0 248.7h0M387.3 253.2h0M396.6 247.4h0M382.8 251.5h0M410.6 243.0h0M368.8 246.9h0M371.5 246.3h0"/><path class="k s0" d="M403.5 251.4h0M385.9 249.4h0M399.5 245.3h0"/><path class="r s0" d="M416.0 241.8h0M412.1 241.9h0M407.4 248.8h0M411.6 241.5h0M413.0 244.0h0M397.1 242.0h0M408.3 249.5h0M404.7 242.9h0M392.6 245.4h0M401.5 243.4h0M401.3 250.6h0M412.9 243.2h0M409.9 241.4h0M397.5 250.3h0M391.0 246.0h0M417.0 239.1h0M408.1 243.7h0M397.1 248.2h0M396.6 249.9h0M397.0 240.8h0M411.3 242.0h0M412.3 243.2h0M408.3 248.6h0M372.4 245.2h0M395.8 244.1h0M412.6 251.8h0M412.9 238.7h0M416.8 246.9h0"/><path class="w s0" d="M400.2 247.9h0M383.0 247.5h0M386.2 246.2h0M401.5 243.2h0M395.0 244.6h0M417.7 244.6h0M379.6 248.8h0M387.6 248.4h0M405.6 245.2h0M407.2 245.5h0M380.5 248.0h0M396.6 246.4h0M393.1 249.7h0M393.2 249.8h0M381.1 248.4h0M414.0 242.0h0M382.6 247.2h0M395.0 244.4h0M423.3 242.5h0"/><path class="R s2" d="M420.1 241.5h0M402.1 249.8h0"/><path class="b s2" d="M409.0 245.1h0M390.2 248.7h0M389.6 250.4h0M388.4 250.0h0"/><path class="B s1" d="M383.4 250.0h0M414.3 251.9h0"/><path class="R s1" d="M419.0 242.4h0M367.3 246.7h0M407.7 249.9h0M402.3 239.7h0M399.6 252.0h0M422.4 245.3h0M394.9 253.4h0M413.5 247.8h0M395.1 253.0h0M399.8 241.1h0M397.4 244.6h0M411.6 251.0h0M414.9 248.9h0M423.1 250.3h0"/><path class="b s1" d="M379.4 248.3h0M419.6 244.5h0M421.0 244.5h0M388.1 248.5h0M380.1 248.3h0M390.0 250.3h0M406.8 240.7h0M382.6 249.7h0M423.2 247.1h0M422.0 244.2h0M389.3 248.4h0M384.9 250.6h0"/><path class="g s1" d="M399.3 250.4h0M399.9 249.6h0M394.4 251.4h0M384.9 251.3h0M388.1 252.7h0M399.7 249.8h0M397.0 250.3h0"/><path class="k s1" d="M418.9 239.2h0M414.0 243.4h0"/><path class="l s1" d="M389.4 247.1h0"/><path class="r s1" d="M402.7 244.7h0M417.7 246.4h0M400.2 241.4h0M419.6 248.4h0M405.5 243.8h0M397.4 243.1h0M411.6 242.7h0M404.7 239.5h0M407.0 249.6h0M416.9 242.9h0M419.1 243.8h0M396.6 245.5h0"/><path class="w s1" d="M394.0 253.7h0M381.6 247.5h0M411.9 240.8h0M400.9 249.3h0M376.4 246.9h0M389.9 247.3h0M390.8 250.2h0M386.5 245.5h0M383.8 245.4h0M381.5 249.0h0M381.9 251.0h0M404.9 244.4h0M393.5 246.3h0M382.8 247.5h0M420.5 240.8h0M385.9 253.2h0M423.7 240.4h0M388.5 246.9h0M383.7 248.2h0M388.3 248.0h0"/><path class="B s0" d="M416.2 252.4h0M402.9 247.2h0M415.7 250.5h0M421.6 248.6h0"/><path class="R s0" d="M401.9 249.7h0M403.3 248.9h0M402.2 241.6h0"/><path class="b s0" d="M389.1 248.9h0M394.7 242.1h0M374.2 246.5h0M402.3 251.4h0M406.0 241.1h0M423.0 242.9h0M412.9 241.1h0M391.8 248.2h0M388.9 249.9h0M394.3 249.7h0M393.9 243.6h0M403.3 251.8h0M390.0 248.8h0M369.8 245.7h0M388.3 249.2h0M399.8 244.3h0M399.5 244.5h0"/><path class="g s0" d="M391.6 251.6h0M410.0 238.9h0M419.8 250.9h0M385.9 252.9h0M387.6 252.5h0M395.6 250.6h0M386.3 248.9h0M402.1 251.7h0M397.2 248.0h0M384.8 248.3h0"/><path class="k s0" d="M385.6 249.8h0M415.6 246.1h0"/><path class="l s0" d="M393.5 244.5h0M414.5 240.7h0"/><path class="r s0" d="M396.3 249.6h0M395.6 244.4h0M403.7 249.2h0M406.1 242.8h0M392.3 250.1h0M411.4 242.2h0M403.6 242.5h0M411.1 247.5h0M380.2 250.2h0M407.6 242.6h0M402.9 239.6h0M397.3 249.7h0M397.5 241.1h0M377.8 247.5h0M415.9 241.6h0M418.2 251.3h0M391.9 246.0h0M409.3 241.5h0M398.0 245.4h0M412.6 247.7h0"/><path class="w s0" d="M379.7 246.7h0M408.7 238.1h0M413.0 239.7h0M386.9 248.5h0M377.2 246.9h0M391.1 247.1h0M381.2 248.7h0M389.9 246.7h0M385.8 247.5h0M381.8 250.5h0M381.2 246.4h0M404.9 245.3h0M420.4 243.4h0M393.2 254.0h0M387.9 247.7h0M382.2 247.5h0"/></g></g>
</svg>
</body></html>
